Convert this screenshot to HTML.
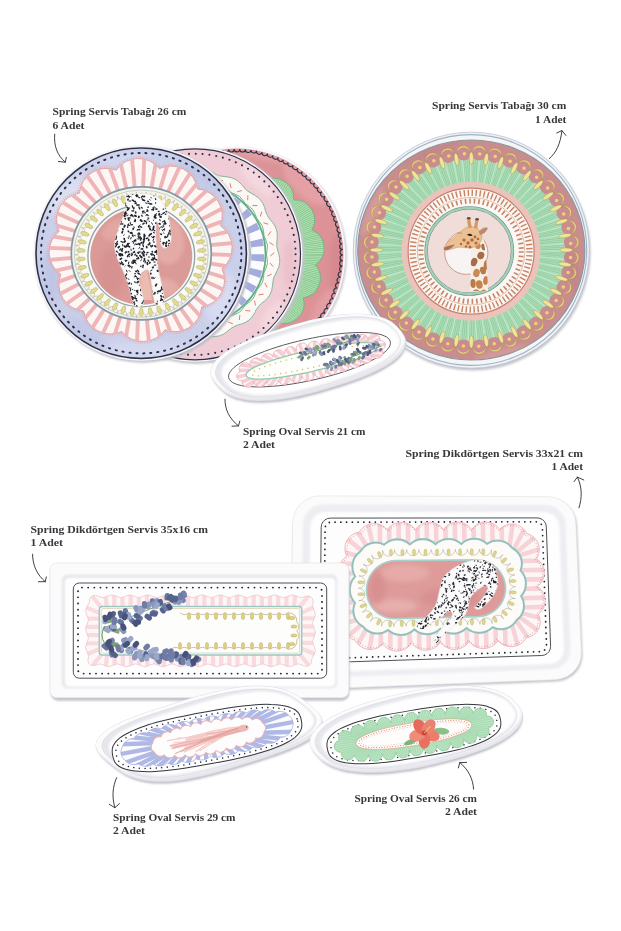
<!DOCTYPE html>
<html><head><meta charset="utf-8"><title>Spring</title>
<style>html,body{margin:0;padding:0;background:#fff}body{width:621px;height:931px;overflow:hidden;font-family:"Liberation Serif",serif}svg{display:block}text{font-family:"Liberation Serif",serif;font-weight:bold;font-size:10.7px;fill:#38383c}</style>
</head><body>
<svg width="621" height="931" viewBox="0 0 621 931">
<defs>
<filter id="b1" x="-20%" y="-20%" width="140%" height="140%"><feGaussianBlur stdDeviation="1.2"/></filter>
<filter id="b2" x="-30%" y="-30%" width="160%" height="160%"><feGaussianBlur stdDeviation="2.5"/></filter>
<filter id="b4" x="-40%" y="-40%" width="180%" height="180%"><feGaussianBlur stdDeviation="5"/></filter>
</defs>
<rect width="621" height="931" fill="#fff"/>
<g id="plateC">
<circle cx="238" cy="256.5" r="108.9" fill="#cfcfd6" filter="url(#b1)"/>
<circle cx="237" cy="255" r="108.3" fill="#f7f7f9"/>
<circle cx="237" cy="255" r="106.4" fill="#dc9297"/>
<clipPath id="clC"><circle cx="237" cy="255" r="106.39999999999999"/></clipPath>
<g clip-path="url(#clC)" filter="url(#b2)" opacity="0.6"><ellipse cx="305" cy="183" rx="12" ry="30" fill="#e9abae" transform="rotate(-45 305 183)"/><ellipse cx="336" cy="267" rx="6" ry="32" fill="#d2838a"/><ellipse cx="265" cy="156" rx="30" ry="5" fill="#e8a9ac" transform="rotate(10 265 156)"/><ellipse cx="323" cy="307" rx="8" ry="20" fill="#e6a5a9" transform="rotate(30 323 307)"/></g>
<path d="M342.9 255A2.8 2.8 0 0 0 342.7 260.6A2.8 2.8 0 0 0 342.3 266.3A2.8 2.8 0 0 0 341.6 271.8A2.8 2.8 0 0 0 340.5 277.4A2.8 2.8 0 0 0 339.2 282.9A2.8 2.8 0 0 0 337.5 288.3A2.8 2.8 0 0 0 335.6 293.6A2.8 2.8 0 0 0 333.4 298.8A2.8 2.8 0 0 0 331 303.8A2.8 2.8 0 0 0 328.2 308.8A2.8 2.8 0 0 0 325.2 313.5A2.8 2.8 0 0 0 322 318.2A2.8 2.8 0 0 0 318.5 322.6A2.8 2.8 0 0 0 314.8 326.8A2.8 2.8 0 0 0 310.9 330.9A2.8 2.8 0 0 0 306.7 334.7A2.8 2.8 0 0 0 302.4 338.3A2.8 2.8 0 0 0 297.9 341.7A2.8 2.8 0 0 0 293.2 344.8A2.8 2.8 0 0 0 288.3 347.6A2.8 2.8 0 0 0 283.3 350.2A2.8 2.8 0 0 0 278.2 352.6A2.8 2.8 0 0 0 272.9 354.6A2.8 2.8 0 0 0 267.6 356.4A2.8 2.8 0 0 0 262.1 357.9A2.8 2.8 0 0 0 256.6 359.1A2.8 2.8 0 0 0 251.1 360A2.8 2.8 0 0 0 245.4 360.6A2.8 2.8 0 0 0 239.8 360.9A2.8 2.8 0 0 0 234.2 360.9A2.8 2.8 0 0 0 228.6 360.6A2.8 2.8 0 0 0 222.9 360A2.8 2.8 0 0 0 217.4 359.1A2.8 2.8 0 0 0 211.9 357.9A2.8 2.8 0 0 0 206.4 356.4A2.8 2.8 0 0 0 201.1 354.6A2.8 2.8 0 0 0 195.8 352.6A2.8 2.8 0 0 0 190.7 350.2A2.8 2.8 0 0 0 185.7 347.6A2.8 2.8 0 0 0 180.8 344.8A2.8 2.8 0 0 0 176.1 341.7A2.8 2.8 0 0 0 171.6 338.3A2.8 2.8 0 0 0 167.3 334.7A2.8 2.8 0 0 0 163.1 330.9A2.8 2.8 0 0 0 159.2 326.8A2.8 2.8 0 0 0 155.5 322.6A2.8 2.8 0 0 0 152 318.2A2.8 2.8 0 0 0 148.8 313.5A2.8 2.8 0 0 0 145.8 308.8A2.8 2.8 0 0 0 143 303.8A2.8 2.8 0 0 0 140.6 298.8A2.8 2.8 0 0 0 138.4 293.6A2.8 2.8 0 0 0 136.5 288.3A2.8 2.8 0 0 0 134.8 282.9A2.8 2.8 0 0 0 133.5 277.4A2.8 2.8 0 0 0 132.4 271.8A2.8 2.8 0 0 0 131.7 266.3A2.8 2.8 0 0 0 131.3 260.6A2.8 2.8 0 0 0 131.1 255A2.8 2.8 0 0 0 131.3 249.4A2.8 2.8 0 0 0 131.7 243.7A2.8 2.8 0 0 0 132.4 238.2A2.8 2.8 0 0 0 133.5 232.6A2.8 2.8 0 0 0 134.8 227.1A2.8 2.8 0 0 0 136.5 221.7A2.8 2.8 0 0 0 138.4 216.4A2.8 2.8 0 0 0 140.6 211.2A2.8 2.8 0 0 0 143 206.2A2.8 2.8 0 0 0 145.8 201.2A2.8 2.8 0 0 0 148.8 196.5A2.8 2.8 0 0 0 152 191.8A2.8 2.8 0 0 0 155.5 187.4A2.8 2.8 0 0 0 159.2 183.2A2.8 2.8 0 0 0 163.1 179.1A2.8 2.8 0 0 0 167.3 175.3A2.8 2.8 0 0 0 171.6 171.7A2.8 2.8 0 0 0 176.1 168.3A2.8 2.8 0 0 0 180.8 165.2A2.8 2.8 0 0 0 185.7 162.4A2.8 2.8 0 0 0 190.7 159.8A2.8 2.8 0 0 0 195.8 157.4A2.8 2.8 0 0 0 201.1 155.4A2.8 2.8 0 0 0 206.4 153.6A2.8 2.8 0 0 0 211.9 152.1A2.8 2.8 0 0 0 217.4 150.9A2.8 2.8 0 0 0 222.9 150A2.8 2.8 0 0 0 228.6 149.4A2.8 2.8 0 0 0 234.2 149.1A2.8 2.8 0 0 0 239.8 149.1A2.8 2.8 0 0 0 245.4 149.4A2.8 2.8 0 0 0 251.1 150A2.8 2.8 0 0 0 256.6 150.9A2.8 2.8 0 0 0 262.1 152.1A2.8 2.8 0 0 0 267.6 153.6A2.8 2.8 0 0 0 272.9 155.4A2.8 2.8 0 0 0 278.2 157.4A2.8 2.8 0 0 0 283.3 159.8A2.8 2.8 0 0 0 288.3 162.4A2.8 2.8 0 0 0 293.2 165.2A2.8 2.8 0 0 0 297.9 168.3A2.8 2.8 0 0 0 302.4 171.7A2.8 2.8 0 0 0 306.7 175.3A2.8 2.8 0 0 0 310.9 179.1A2.8 2.8 0 0 0 314.8 183.2A2.8 2.8 0 0 0 318.5 187.4A2.8 2.8 0 0 0 322 191.8A2.8 2.8 0 0 0 325.2 196.5A2.8 2.8 0 0 0 328.2 201.2A2.8 2.8 0 0 0 331 206.2A2.8 2.8 0 0 0 333.4 211.2A2.8 2.8 0 0 0 335.6 216.4A2.8 2.8 0 0 0 337.5 221.7A2.8 2.8 0 0 0 339.2 227.1A2.8 2.8 0 0 0 340.5 232.6A2.8 2.8 0 0 0 341.6 238.2A2.8 2.8 0 0 0 342.3 243.7A2.8 2.8 0 0 0 342.7 249.4A2.8 2.8 0 0 0 342.9 255Z" fill="none" stroke="#2b3047" stroke-width="1.1"/>
<path d="M315.4 264.9A20 20 0 0 1 303.3 297.9A20 20 0 0 1 278.1 322.5A20 20 0 0 1 244.8 333.6A20 20 0 0 1 209.9 329.2A20 20 0 0 1 180.4 310.1A20 20 0 0 1 162.1 280.1A20 20 0 0 1 158.6 245.1A20 20 0 0 1 170.7 212.1A20 20 0 0 1 195.9 187.5A20 20 0 0 1 229.2 176.4A20 20 0 0 1 264.1 180.8A20 20 0 0 1 293.6 199.9A20 20 0 0 1 311.9 229.9A20 20 0 0 1 315.4 264.9Z" fill="#b0dfb2" stroke="#6fb27c" stroke-width="1"/>
<clipPath id="clC2"><path d="M315.4 264.9A20 20 0 0 1 303.3 297.9A20 20 0 0 1 278.1 322.5A20 20 0 0 1 244.8 333.6A20 20 0 0 1 209.9 329.2A20 20 0 0 1 180.4 310.1A20 20 0 0 1 162.1 280.1A20 20 0 0 1 158.6 245.1A20 20 0 0 1 170.7 212.1A20 20 0 0 1 195.9 187.5A20 20 0 0 1 229.2 176.4A20 20 0 0 1 264.1 180.8A20 20 0 0 1 293.6 199.9A20 20 0 0 1 311.9 229.9A20 20 0 0 1 315.4 264.9Z"/></clipPath>
<g clip-path="url(#clC2)"><circle cx="237" cy="255" r="66" fill="none" stroke="#82c58a" stroke-width="50" stroke-dasharray="0.614 0.922" stroke-dashoffset="0.000"/></g>
</g>
<g id="plateB">
<circle cx="196.5" cy="255.8" r="108.1" fill="#c4c4cc" filter="url(#b1)"/>
<circle cx="195" cy="254.3" r="107.5" fill="#f8f8fa"/>
<circle cx="195" cy="254.3" r="105.5" fill="#f0cdd6" stroke="#2b3047" stroke-width="1.2"/>
<clipPath id="clB"><circle cx="195" cy="254.3" r="105.1"/></clipPath>
<g clip-path="url(#clB)" filter="url(#b2)" opacity="0.7"><ellipse cx="257" cy="180.3" rx="22" ry="7" fill="#f6dde3" transform="rotate(45 257 180.3)"/><ellipse cx="289" cy="264.3" rx="6" ry="25" fill="#e9bcc7"/><ellipse cx="272" cy="316.3" rx="7" ry="18" fill="#f5dbe1" transform="rotate(35 272 316.3)"/></g>
<circle cx="195" cy="254.3" r="100.6" fill="none" stroke="#2b3047" stroke-width="2.1" stroke-linecap="round" stroke-dasharray="0 6.871" stroke-dashoffset="0.000"/>
<path d="M278.8 254.3Q281.4 262.8 277.2 270.6Q272.3 277.8 272.4 286.4Q271.6 295.2 264.7 300.9Q257.5 305.6 254.3 313.6Q250.1 321.4 241.6 324Q233.1 325.6 227.1 331.7Q220.2 337.4 211.3 336.5Q202.9 334.7 195 338.1Q186.5 340.7 178.7 336.5Q171.5 331.6 162.9 331.7Q154.1 330.9 148.4 324Q143.7 316.8 135.7 313.6Q127.9 309.4 125.3 300.9Q123.7 292.4 117.6 286.4Q111.9 279.5 112.8 270.6Q114.6 262.2 111.2 254.3Q108.6 245.8 112.8 238Q117.7 230.8 117.6 222.2Q118.4 213.4 125.3 207.7Q132.5 203 135.7 195Q139.9 187.2 148.4 184.6Q156.9 183 162.9 176.9Q169.8 171.2 178.7 172.1Q187.1 173.9 195 170.5Q203.5 167.9 211.3 172.1Q218.5 177 227.1 176.9Q235.9 177.7 241.6 184.6Q246.3 191.8 254.3 195Q262.1 199.2 264.7 207.7Q266.3 216.2 272.4 222.2Q278.1 229.1 277.2 238Q275.4 246.4 278.8 254.3Z" fill="#fbf8f6" stroke="#74b48c" stroke-width="0.9"/>
<path d="M270.7 255.7l3.2 -2.7M270.2 263.3l2.8 3.1M267.5 276l3.8 -1.7M265 283.2l1.9 3.8M259 294.8l4.2 -0.6M254.6 301l0.8 4.1M245.7 310.5l4.2 0.5M239.8 315.4l-0.4 4.2M228.6 322.1l3.9 1.6M221.6 325.2l-1.5 3.9M209.1 328.7l3.3 2.6M201.5 329.7l-2.5 3.4M188.5 329.7l2.5 3.4M180.9 328.7l-3.3 2.6M168.4 325.2l1.5 3.9M161.4 322.1l-3.9 1.6M150.2 315.4l0.4 4.2M144.3 310.5l-4.2 0.5M135.4 301l-0.8 4.1M131 294.8l-4.2 -0.6M125 283.2l-1.9 3.8M122.5 276l-3.8 -1.7M119.8 263.3l-2.8 3.1M119.3 255.7l-3.2 -2.7M120.2 242.7l-3.6 2.2M121.7 235.2l-2.4 -3.5M126.1 222.9l-4 1.2M129.6 216.1l-1.3 -4M137.1 205.5l-4.2 0.1M142.3 199.9l-0.2 -4.2M152.5 191.7l-4.1 -1.1M159 187.7l0.9 -4.1M170.9 182.5l-3.6 -2.1M178.3 180.5l2 -3.7M191.2 178.7l-2.9 -3M198.8 178.7l2.9 -3M211.7 180.5l-2 -3.7M219.1 182.5l3.6 -2.1M231 187.7l-0.9 -4.1M237.5 191.7l4.1 -1.1M247.7 199.9l0.2 -4.2M252.9 205.5l4.2 0.1M260.4 216.1l1.3 -4M263.9 222.9l4 1.2M268.3 235.2l2.4 -3.5M269.8 242.7l3.6 2.2" stroke="#df6f5c" stroke-width="0.9" stroke-linecap="round" fill="none"/>
<path d="M267.1 259Q268.3 263.9 265.9 268.4Q263.3 272.6 263.5 277.5Q263.3 282.6 259.8 286.3Q256.2 289.6 255.1 294.5Q253.6 299.3 249.4 302Q245 304.3 242.7 308.7Q240 312.9 235.2 314.4Q230.4 315.5 227 319.1Q223.3 322.6 218.2 322.8Q213.3 322.6 209.1 325.2Q204.6 327.6 199.7 326.4Q195 325 190.3 326.4Q185.4 327.6 180.9 325.2Q176.7 322.6 171.8 322.8Q166.7 322.6 163 319.1Q159.7 315.5 154.8 314.4Q150 312.9 147.3 308.7Q145 304.3 140.6 302Q136.4 299.3 134.9 294.5Q133.8 289.6 130.2 286.3Q126.7 282.6 126.5 277.5Q126.7 272.6 124.1 268.4Q121.7 263.9 122.9 259Q124.3 254.3 122.9 249.6Q121.7 244.7 124.1 240.2Q126.7 236 126.5 231.1Q126.7 226 130.2 222.3Q133.8 219 134.9 214.1Q136.4 209.3 140.6 206.6Q145 204.3 147.3 199.9Q150 195.7 154.8 194.2Q159.6 193.1 163 189.5Q166.7 186 171.8 185.8Q176.7 186 180.9 183.4Q185.4 181 190.3 182.2Q195 183.6 199.7 182.2Q204.6 181 209.1 183.4Q213.3 186 218.2 185.8Q223.3 186 227 189.5Q230.4 193.1 235.2 194.2Q240 195.7 242.7 199.9Q245 204.3 249.4 206.6Q253.6 209.3 255.1 214.1Q256.2 218.9 259.8 222.3Q263.3 226 263.5 231.1Q263.3 236 265.9 240.2Q268.3 244.7 267.1 249.6Q265.7 254.3 267.1 259Z" fill="#fdfdfd" stroke="#74b48c" stroke-width="1"/>
<circle cx="195" cy="254.3" r="70.6" fill="#fcfcfe" stroke="#5fae84" stroke-width="1.8"/>
<circle cx="195" cy="254.3" r="62.8" fill="none" stroke="#a3acdc" stroke-width="13" stroke-dasharray="6.829 8.347" stroke-dashoffset="0.000"/>
<circle cx="195" cy="254.3" r="55.5" fill="#f0cdd3" stroke="#7d9aa6" stroke-width="0.8"/>
</g>
<g id="plateA">
<circle cx="142.7" cy="254.7" r="108" fill="#bdbdc8" filter="url(#b1)"/>
<circle cx="141.2" cy="253.2" r="107.6" fill="#f4f4f8"/>
<circle cx="141.2" cy="253.2" r="105.2" fill="#cbd0ea" stroke="#2b3047" stroke-width="1.6"/>
<clipPath id="clA"><circle cx="141.2" cy="253.2" r="104.6"/></clipPath>
<g clip-path="url(#clA)" filter="url(#b4)" opacity="0.85"><ellipse cx="69.2" cy="195.2" rx="26" ry="12" fill="#dfe2f2" transform="rotate(-38 69.2 195.2)"/><ellipse cx="51.2" cy="278.2" rx="9" ry="28" fill="#bcc3e3"/><ellipse cx="221.2" cy="298.2" rx="14" ry="26" fill="#dadef3" transform="rotate(15 221.2 298.2)"/><ellipse cx="146.2" cy="349.2" rx="45" ry="7" fill="#d8dcf2"/><ellipse cx="203.2" cy="175.2" rx="28" ry="8" fill="#bec5e4" transform="rotate(38 203.2 175.2)"/><ellipse cx="86.2" cy="333.2" rx="25" ry="8" fill="#bfc6e4" transform="rotate(40 86.2 333.2)"/><ellipse cx="121.2" cy="158.2" rx="30" ry="6" fill="#d4d9f1" transform="rotate(-5 121.2 158.2)"/></g>
<circle cx="141.2" cy="253.2" r="100.2" fill="none" stroke="#2b3047" stroke-width="2" stroke-dasharray="1.119 5.876" stroke-dashoffset="0.000" stroke-linecap="round"/>
<path d="M222 268.8A26.9 26.9 0 0 1 201.7 306.9A26.9 26.9 0 0 1 165 329.8A26.9 26.9 0 0 1 121.8 331.4A26.9 26.9 0 0 1 83.7 311.1A26.9 26.9 0 0 1 60.8 274.4A26.9 26.9 0 0 1 59.2 231.2A26.9 26.9 0 0 1 79.5 193.1A26.9 26.9 0 0 1 116.2 170.2A26.9 26.9 0 0 1 159.4 168.6A26.9 26.9 0 0 1 197.5 188.9A26.9 26.9 0 0 1 220.4 225.6A26.9 26.9 0 0 1 222 268.8Z" fill="none" stroke="#e9a3a3" stroke-width="5.2" stroke-dasharray="0.5 1.6"/>
<path d="M222 268.8A26.9 26.9 0 0 1 201.7 306.9A26.9 26.9 0 0 1 165 329.8A26.9 26.9 0 0 1 121.8 331.4A26.9 26.9 0 0 1 83.7 311.1A26.9 26.9 0 0 1 60.8 274.4A26.9 26.9 0 0 1 59.2 231.2A26.9 26.9 0 0 1 79.5 193.1A26.9 26.9 0 0 1 116.2 170.2A26.9 26.9 0 0 1 159.4 168.6A26.9 26.9 0 0 1 197.5 188.9A26.9 26.9 0 0 1 220.4 225.6A26.9 26.9 0 0 1 222 268.8Z" fill="#fcf6f4" stroke="#e59c9c" stroke-width="0.9"/>
<clipPath id="clA2"><path d="M222 268.8A26.9 26.9 0 0 1 201.7 306.9A26.9 26.9 0 0 1 165 329.8A26.9 26.9 0 0 1 121.8 331.4A26.9 26.9 0 0 1 83.7 311.1A26.9 26.9 0 0 1 60.8 274.4A26.9 26.9 0 0 1 59.2 231.2A26.9 26.9 0 0 1 79.5 193.1A26.9 26.9 0 0 1 116.2 170.2A26.9 26.9 0 0 1 159.4 168.6A26.9 26.9 0 0 1 197.5 188.9A26.9 26.9 0 0 1 220.4 225.6A26.9 26.9 0 0 1 222 268.8Z"/></clipPath>
<g clip-path="url(#clA2)"><path d="M204.6 254L237.5 255.3M203.7 262.3L236.2 267.9M201.7 270.5L233.2 280.3M198.7 278.3L228.7 292.1M194.7 285.7L222.6 303.3M189.8 292.4L215.2 313.5M184 298.5L206.4 322.7M177.5 303.8L196.6 330.7M170.4 308.1L185.8 337.3M162.8 311.5L174.2 342.5M154.7 313.9L162 346.1M146.5 315.2L149.5 348.1M138.1 315.5L136.8 348.4M129.8 314.6L124.2 347.1M121.6 312.6L111.8 344.1M113.8 309.6L100 339.6M106.4 305.6L88.8 333.5M99.7 300.7L78.6 326.1M93.6 294.9L69.4 317.3M88.3 288.4L61.4 307.5M84 281.3L54.8 296.7M80.6 273.7L49.6 285.1M78.2 265.6L46 272.9M76.9 257.4L44 260.4M76.6 249L43.7 247.7M77.5 240.7L45 235.1M79.5 232.5L48 222.7M82.5 224.7L52.5 210.9M86.5 217.3L58.6 199.7M91.4 210.6L66 189.5M97.2 204.5L74.8 180.3M103.7 199.2L84.6 172.3M110.8 194.9L95.4 165.7M118.4 191.5L107 160.5M126.5 189.1L119.2 156.9M134.7 187.8L131.7 154.9M143.1 187.5L144.4 154.6M151.4 188.4L157 155.9M159.6 190.4L169.4 158.9M167.4 193.4L181.2 163.4M174.8 197.4L192.4 169.5M181.5 202.3L202.6 176.9M187.6 208.1L211.8 185.7M192.9 214.6L219.8 195.5M197.2 221.7L226.4 206.3M200.6 229.3L231.6 217.9M203 237.4L235.2 230.1M204.3 245.6L237.2 242.6" stroke="#efb4b6" stroke-width="3.9" fill="none"/></g>
<g transform="translate(141.3 253.4) scale(1 0.95) translate(-141.3 -253.4)">
<circle cx="141.3" cy="253.4" r="70" fill="#f5f2e6" stroke="#7f98a8" stroke-width="1.7"/>
<circle cx="141.3" cy="253.7" r="67" fill="none" stroke="#a3b7c0" stroke-width="0.6"/>
<path d="M207.5 254.8A4.9 4.9 0 0 0 206.8 264.7A4.9 4.9 0 0 0 204.6 274.3A4.9 4.9 0 0 0 200.9 283.5A4.9 4.9 0 0 0 196 292.1A4.9 4.9 0 0 0 189.8 299.8A4.9 4.9 0 0 0 182.6 306.6A4.9 4.9 0 0 0 174.4 312.1A4.9 4.9 0 0 0 165.5 316.4A4.9 4.9 0 0 0 156 319.3A4.9 4.9 0 0 0 146.2 320.8A4.9 4.9 0 0 0 136.4 320.8A4.9 4.9 0 0 0 126.6 319.3A4.9 4.9 0 0 0 117.1 316.4A4.9 4.9 0 0 0 108.2 312.1A4.9 4.9 0 0 0 100 306.6A4.9 4.9 0 0 0 92.8 299.8A4.9 4.9 0 0 0 86.6 292.1A4.9 4.9 0 0 0 81.7 283.5A4.9 4.9 0 0 0 78 274.3A4.9 4.9 0 0 0 75.8 264.7A4.9 4.9 0 0 0 75.1 254.8A4.9 4.9 0 0 0 75.8 244.9A4.9 4.9 0 0 0 78 235.3A4.9 4.9 0 0 0 81.7 226.1A4.9 4.9 0 0 0 86.6 217.5A4.9 4.9 0 0 0 92.8 209.8A4.9 4.9 0 0 0 100 203A4.9 4.9 0 0 0 108.2 197.5A4.9 4.9 0 0 0 117.1 193.2A4.9 4.9 0 0 0 126.6 190.3A4.9 4.9 0 0 0 136.4 188.8A4.9 4.9 0 0 0 146.2 188.8A4.9 4.9 0 0 0 156 190.3A4.9 4.9 0 0 0 165.5 193.2A4.9 4.9 0 0 0 174.4 197.5A4.9 4.9 0 0 0 182.6 203A4.9 4.9 0 0 0 189.8 209.8A4.9 4.9 0 0 0 196 217.5A4.9 4.9 0 0 0 200.9 226.1A4.9 4.9 0 0 0 204.6 235.3A4.9 4.9 0 0 0 206.8 244.9A4.9 4.9 0 0 0 207.5 254.8Z" fill="#fbf9f3" stroke="#9fa5a4" stroke-width="0.5"/>
<g fill="#e3dc8c" stroke="#a3a064" stroke-width="0.4"><ellipse cx="201.7" cy="259.3" rx="4.4" ry="1.95" transform="rotate(4.3 201.7 259.3)"/><ellipse cx="200.4" cy="268.3" rx="4.4" ry="1.95" transform="rotate(12.9 200.4 268.3)"/><ellipse cx="197.7" cy="276.9" rx="4.4" ry="1.95" transform="rotate(21.4 197.7 276.9)"/><ellipse cx="193.8" cy="285.1" rx="4.4" ry="1.95" transform="rotate(30 193.8 285.1)"/><ellipse cx="188.7" cy="292.6" rx="4.4" ry="1.95" transform="rotate(38.6 188.7 292.6)"/><ellipse cx="182.5" cy="299.2" rx="4.4" ry="1.95" transform="rotate(47.1 182.5 299.2)"/><ellipse cx="175.4" cy="304.9" rx="4.4" ry="1.95" transform="rotate(55.7 175.4 304.9)"/><ellipse cx="167.6" cy="309.4" rx="4.4" ry="1.95" transform="rotate(64.3 167.6 309.4)"/><ellipse cx="159.2" cy="312.7" rx="4.4" ry="1.95" transform="rotate(72.9 159.2 312.7)"/><ellipse cx="150.3" cy="314.7" rx="4.4" ry="1.95" transform="rotate(81.4 150.3 314.7)"/><ellipse cx="141.3" cy="315.4" rx="4.4" ry="1.95" transform="rotate(90 141.3 315.4)"/><ellipse cx="132.3" cy="314.7" rx="4.4" ry="1.95" transform="rotate(98.6 132.3 314.7)"/><ellipse cx="123.4" cy="312.7" rx="4.4" ry="1.95" transform="rotate(107.1 123.4 312.7)"/><ellipse cx="115" cy="309.4" rx="4.4" ry="1.95" transform="rotate(115.7 115 309.4)"/><ellipse cx="107.2" cy="304.9" rx="4.4" ry="1.95" transform="rotate(124.3 107.2 304.9)"/><ellipse cx="100.1" cy="299.2" rx="4.4" ry="1.95" transform="rotate(132.9 100.1 299.2)"/><ellipse cx="93.9" cy="292.6" rx="4.4" ry="1.95" transform="rotate(141.4 93.9 292.6)"/><ellipse cx="88.8" cy="285.1" rx="4.4" ry="1.95" transform="rotate(150 88.8 285.1)"/><ellipse cx="84.9" cy="276.9" rx="4.4" ry="1.95" transform="rotate(158.6 84.9 276.9)"/><ellipse cx="82.2" cy="268.3" rx="4.4" ry="1.95" transform="rotate(167.1 82.2 268.3)"/><ellipse cx="80.9" cy="259.3" rx="4.4" ry="1.95" transform="rotate(175.7 80.9 259.3)"/><ellipse cx="80.9" cy="250.3" rx="4.4" ry="1.95" transform="rotate(184.3 80.9 250.3)"/><ellipse cx="82.2" cy="241.3" rx="4.4" ry="1.95" transform="rotate(192.9 82.2 241.3)"/><ellipse cx="84.9" cy="232.7" rx="4.4" ry="1.95" transform="rotate(201.4 84.9 232.7)"/><ellipse cx="88.8" cy="224.5" rx="4.4" ry="1.95" transform="rotate(210 88.8 224.5)"/><ellipse cx="93.9" cy="217" rx="4.4" ry="1.95" transform="rotate(218.6 93.9 217)"/><ellipse cx="100.1" cy="210.4" rx="4.4" ry="1.95" transform="rotate(227.1 100.1 210.4)"/><ellipse cx="107.2" cy="204.7" rx="4.4" ry="1.95" transform="rotate(235.7 107.2 204.7)"/><ellipse cx="115" cy="200.2" rx="4.4" ry="1.95" transform="rotate(244.3 115 200.2)"/><ellipse cx="123.4" cy="196.9" rx="4.4" ry="1.95" transform="rotate(252.9 123.4 196.9)"/><ellipse cx="132.3" cy="194.9" rx="4.4" ry="1.95" transform="rotate(261.4 132.3 194.9)"/><ellipse cx="141.3" cy="194.2" rx="4.4" ry="1.95" transform="rotate(270 141.3 194.2)"/><ellipse cx="150.3" cy="194.9" rx="4.4" ry="1.95" transform="rotate(278.6 150.3 194.9)"/><ellipse cx="159.2" cy="196.9" rx="4.4" ry="1.95" transform="rotate(287.1 159.2 196.9)"/><ellipse cx="167.6" cy="200.2" rx="4.4" ry="1.95" transform="rotate(295.7 167.6 200.2)"/><ellipse cx="175.4" cy="204.7" rx="4.4" ry="1.95" transform="rotate(304.3 175.4 204.7)"/><ellipse cx="182.5" cy="210.4" rx="4.4" ry="1.95" transform="rotate(312.9 182.5 210.4)"/><ellipse cx="188.7" cy="217" rx="4.4" ry="1.95" transform="rotate(321.4 188.7 217)"/><ellipse cx="193.8" cy="224.5" rx="4.4" ry="1.95" transform="rotate(330 193.8 224.5)"/><ellipse cx="197.7" cy="232.7" rx="4.4" ry="1.95" transform="rotate(338.6 197.7 232.7)"/><ellipse cx="200.4" cy="241.3" rx="4.4" ry="1.95" transform="rotate(347.1 200.4 241.3)"/><ellipse cx="201.7" cy="250.3" rx="4.4" ry="1.95" transform="rotate(355.7 201.7 250.3)"/></g>
<circle cx="141.3" cy="256.2" r="53.4" fill="#fbf9f3" stroke="#8ba3ae" stroke-width="1.3"/>
<circle cx="141.3" cy="256.5" r="51" fill="#da9a97"/>
<clipPath id="clA3"><circle cx="141.3" cy="256.5" r="51"/></clipPath>
<g clip-path="url(#clA3)" filter="url(#b2)" opacity="0.7"><ellipse cx="168.3" cy="241.2" rx="16" ry="24" fill="#e9b3ad"/><ellipse cx="111.3" cy="274.2" rx="13" ry="26" fill="#d58f8f"/><ellipse cx="159.3" cy="290.2" rx="20" ry="11" fill="#e8b4ae"/><ellipse cx="116.3" cy="228.2" rx="16" ry="10" fill="#e6ada8" transform="rotate(-30 116.3 228.2)"/></g>
</g>
</g>
<path d="M147 268L152 300L141 300L140 276Z" fill="#ecbfb2" opacity="0.85"/>
<clipPath id="sp1"><path d="M126.8 195.9C129.8 193.4 138.3 193.5 143.5 193.8C148.7 194 154.2 194.9 158 197.4C161.7 199.9 164 204.6 165.9 209C167.9 213.3 168.7 218.2 169.6 223.5C170.4 228.8 171.7 236.8 171 240.9C170.3 245 166.9 247.6 165.2 248.1C163.5 248.6 161.8 247.1 160.9 243.8C159.9 240.4 160.1 231.4 159.4 227.8C158.7 224.2 157.1 220.3 156.5 222C155.9 223.7 155.7 232.9 155.8 238C155.9 243 156.9 247.6 157.2 252.5C157.6 257.3 157.4 262.1 158 267C158.6 271.8 159.9 276.6 160.9 281.4C161.8 286.3 163.5 292.1 163.8 295.9C164 299.8 163.6 303.2 162.3 304.6C161 306.1 157.4 306.6 155.8 304.6C154.2 302.7 153.7 297.4 152.9 293C152.1 288.7 151.6 282.4 150.7 278.6C149.9 274.7 149.3 270.8 147.8 269.9C146.4 268.9 143.5 270.8 142 272.8C140.6 274.7 139.1 278.1 139.1 281.4C139.1 284.8 141.3 289.4 142 293C142.8 296.7 144.3 300.8 143.5 303.2C142.6 305.6 138.8 307.8 137 307.5C135.1 307.3 133.9 305.1 132.6 301.7C131.3 298.4 130.4 292.1 129 287.2C127.5 282.4 125.8 277.6 123.9 272.8C122 267.9 119 262.9 117.4 258.3C115.8 253.7 114.5 249.6 114.5 245.2C114.5 240.9 116.2 236.3 117.4 232.2C118.6 228.1 120.4 224.4 121.7 220.6C123.1 216.7 124.5 213.1 125.4 209C126.2 204.9 123.8 198.5 126.8 195.9Z"/></clipPath><path d="M126.8 195.9C129.8 193.4 138.3 193.5 143.5 193.8C148.7 194 154.2 194.9 158 197.4C161.7 199.9 164 204.6 165.9 209C167.9 213.3 168.7 218.2 169.6 223.5C170.4 228.8 171.7 236.8 171 240.9C170.3 245 166.9 247.6 165.2 248.1C163.5 248.6 161.8 247.1 160.9 243.8C159.9 240.4 160.1 231.4 159.4 227.8C158.7 224.2 157.1 220.3 156.5 222C155.9 223.7 155.7 232.9 155.8 238C155.9 243 156.9 247.6 157.2 252.5C157.6 257.3 157.4 262.1 158 267C158.6 271.8 159.9 276.6 160.9 281.4C161.8 286.3 163.5 292.1 163.8 295.9C164 299.8 163.6 303.2 162.3 304.6C161 306.1 157.4 306.6 155.8 304.6C154.2 302.7 153.7 297.4 152.9 293C152.1 288.7 151.6 282.4 150.7 278.6C149.9 274.7 149.3 270.8 147.8 269.9C146.4 268.9 143.5 270.8 142 272.8C140.6 274.7 139.1 278.1 139.1 281.4C139.1 284.8 141.3 289.4 142 293C142.8 296.7 144.3 300.8 143.5 303.2C142.6 305.6 138.8 307.8 137 307.5C135.1 307.3 133.9 305.1 132.6 301.7C131.3 298.4 130.4 292.1 129 287.2C127.5 282.4 125.8 277.6 123.9 272.8C122 267.9 119 262.9 117.4 258.3C115.8 253.7 114.5 249.6 114.5 245.2C114.5 240.9 116.2 236.3 117.4 232.2C118.6 228.1 120.4 224.4 121.7 220.6C123.1 216.7 124.5 213.1 125.4 209C126.2 204.9 123.8 198.5 126.8 195.9Z" fill="#fbfbfb" stroke="#efe3e1" stroke-width="0.7"/><g clip-path="url(#sp1)" stroke="#23252e" stroke-linecap="round" fill="none"><path d="M127.9 255.7l-0.3 0.8M147.3 262.7l0.2 1.7M136.9 291.7l0.6 0.3M136.5 195.5l1.3 0.7M116.9 282.5l1 1.1M158.5 291.1l-0.8 0.5M134.3 260.3l-1.1 0.3M166.3 197l-0.2 0.7M123.7 291.7l-1.7 0.5M143.1 307.4l0.7 0.2M165.2 236.7l-0.1 1M163.5 271.2l-0.5 0M148.9 225.5l-0.3 1M115.7 235.8l0.7 1M132.6 235.2l0.3 0.7M129.4 283.3l-0.4 0.3M127.2 207.5l0.9 0.6M124.9 225.5l-0.7 1.4M166.5 211.5l-0.3 0.1M121.3 221.6l-0.3 0.2M134.9 215.5l0.7 0.3M149.7 242.9l0 0.9M121.9 197l-0.8 0.1M159.2 223.6l0.9 0.4M151.9 294.7l-0.7 1.3M147.2 284.6l-0.3 0.2M144.4 220.9l1.1 0.3M138 258.4l-1.1 0.3M142.6 248.8l-1.3 0.2M155.1 214.9l0.6 0.4M138.1 273.1l1.1 0.8M161.7 287.2l0.1 1.1M140.9 219.9l-0.4 0.5M136.6 255.7l0.3 0.4M138.9 243.6l0.8 0.8M152.2 251.6l0.2 0.3M135.4 298.4l0.9 0.3M122.5 231.5l-0.4 1.3M131.5 215l-0.8 0.6M118.4 275.2l-0.2 1.4M153 258l1.6 0.6M125.2 241.2l-1.2 0.8M121.8 262.9l-1.3 0.9M132.4 296.9l0 0.8M153.3 227.8l0.1 1.6M142.3 253.3l0.8 0.6M142.6 273.3l0.3 1.1M132.4 200.2l0.9 0.3M124.9 240.8l-0.2 1M152.9 299.4l-0.4 0.4M157.4 270.8l0.3 0.3M117.7 263.4l0 0.4M128.1 199.3l-0.2 0.5M170.2 206.5l0.6 0.4M143.6 251.2l0.9 1.4M119.3 246.7l-0.5 0.3M148.6 244.5l-0.4 0.2M127.8 243.7l0.4 0.6M167.1 276.4l-1.6 0.1M124.9 204.7l0.8 1.1M123.2 280.5l-1.3 0.1M135.6 212.1l0.1 0.8M148.6 286.1l0.7 0.7M116.6 307.1l-0.4 0.4M128.5 209.2l-1.1 0.9M143.9 279.6l-1.6 0.1M137.9 252.7l0.5 0.3M161.3 299.7l1.2 0.1M120.3 269.8l0 0.9M152.6 267.4l0.5 0.1M146.6 246.6l0.2 1.1M140.3 237.4l0.9 1.1M119.7 255.2l0.9 0.4M126.8 245.7l-0.5 1M134.8 262.1l-1.7 0.4M130.5 303.8l0.1 1M159.1 213.8l-0.1 1.2M143.5 200.1l1 0.4M163.5 274.7l0.5 0.7M147.5 210.4l0.2 0.6M116.2 255.1l-0.2 1.7M132.8 297.6l1.2 0.4M151.1 302.8l0 0.4M151.9 253.9l0.4 0.5M122 254.2l0.5 1.1M124.3 212.9l0.8 0.6M135.1 220.2l-0.1 1.3M129.7 296l1 0.9M120.6 253.8l0.1 1.6M161.1 216.9l-0.3 0.3M124.2 238.6l0.2 0.6M169.6 230.9l1.3 0.7M138.7 226.6l0.2 0.4M155.8 223.2l0.4 0.1M115.6 196.4l1.2 0.2M149.9 203.8l1.7 0.2M125.3 203.3l-0.1 1.4M143.2 265.5l-0.2 0.4M166.1 245.2l0.2 0.9M148.7 239.4l0 1M139 216.5l-0.4 0.8M123.6 196.3l-0.6 1M165.7 243.3l0.4 0.3M133.3 228.3l-0.1 0.6M144.6 238.7l-1 0.6M138.3 281.7l-1.1 0.8M158.5 262.9l-0.4 0.1M156.5 284.3l-0.9 1.5M117.3 243.9l-0.5 0.2M169.1 251.8l-1.5 0.4M134.3 262.1l-0.8 0.1M154.7 216.8l0.6 0.3M165.8 223.6l-1.8 0.4M168.6 245.5l0.7 0.9M124.6 246.1l0.6 1M141.4 221.1l0.6 0.1M119.8 290.6l0.9 0.8M143.3 255l0 0.3M140.7 239.6l-0.1 0.3M116.9 224l0.2 0.8M134.2 240.8l0.2 0.2M153.7 226.5l0.2 0.5M114.5 267.6l0.8 0.6M131.6 296.7l0.5 1.2M164.5 280.1l0.6 0.4M144.1 236.2l0.2 1.2M151.6 259.7l1.6 0.2M145.4 300.5l0.3 0.7M158 270.3l0.5 0.5M118.5 222.6l1.4 0.5M118.4 220.5l0.7 0.9M117.3 202.3l1 0.5M161 234.1l0.3 0.2M162.9 289l-1 0.4M128.6 246.2l-0.5 0M149.9 262.6l-0.3 0.5M116 237.7l-0.2 1.5M124.6 207.4l-0.9 1.3M170.4 265.6l-1.3 0.8M126 277.9l-0.2 0.8M156.7 236.9l0.9 0.2M149.2 301.2l-0.8 0.8M128.4 218.9l0.5 1.3M159.2 228.3l-0.4 1.3M129.2 246.6l0.3 0.3M154.9 217.8l1 0.1M168.8 240.5l0.4 0.2M153.1 267.1l-0.1 0.5M128.5 195.9l0.7 1.1M117.1 219.5l0.4 0.1M127.3 293.2l-0.1 0.5M160.9 295.8l0.8 0.8M125.9 213.2l-1.1 0.6M144.2 273.8l1.3 0.9M114.7 220.5l0.6 0.6M165.3 203l-0.8 0.4M121.5 258.5l-1.3 0.7M119.5 253.8l-0.2 0.5M116 260.4l-0.9 0.6M141.4 257.2l0.4 0M154 236.6l-0.5 0.7M123.1 229.4l-0.4 0M114.9 195.9l0.5 0.8M131.9 305.1l1.6 0.7M121.5 287.6l0.5 0.2M159 266.2l-0.3 1.7M164 242.6l-0.7 0.7M144.2 234.4l0.7 1.5M114.7 288.9l1.3 1M149.8 228.3l0.5 1.3M159.9 239.1l-0.7 0.5M156.9 209l-0.9 0.1M170.5 287l-1 0.9M150 234.5l-0.9 1.4M144.4 196.4l-0.3 0.3M155.4 251.5l1 0.4M151.2 233.7l-0.4 0.5M168.4 279.3l0 1.1M120.1 305.4l-0.9 0M129.9 218l-1.6 0.1M141.7 278.9l0 1.8M164.4 221l0.7 1.6M150.8 273.3l0 0.5M169.8 204l0.3 0.2M116.7 272.1l-0.9 1.2M118.7 262.7l1.1 0.9M116.7 218.4l0.4 1.1M152.5 245.7l-1.2 0.8M135.3 240l0.3 0.8M160.5 216.8l-0.4 0.1M122.4 248.7l-0.5 1.7M149.3 288.5l0.2 0.3M155.7 252.1l-0.6 0.2M139 205l-1.6 0M125.2 275.9l-0.6 1.6M140 255.5l0.9 1.2M146.6 277.9l0.9 1M154.8 245.9l1.2 0.8M124.6 215.6l0.2 0.9M143.6 254.3l0.4 1.6M125.2 218.6l0.2 0.3M126.3 196.2l0.9 0.1M131.8 232.7l-1.4 0.2M165.2 280l-0.7 0.7M136.4 271.3l-0.5 0.1M131.8 215l0.8 0.9M131.2 293.6l-1.6 0.2M164.4 280.7l1.1 0.1M128.6 251.7l-0.3 0.2" stroke-width="1.7"/><path d="M127.7 307l-0.9 0.5M155.1 293.7l-1.3 0.3M155.6 259.4l1.6 0.7M120 209.2l-0.6 0.1M120.4 268.3l-1.2 0M133.9 201.3l1.6 0.1M135.8 260.5l-1.1 0.3M144.8 301.7l1.1 1.4M129.8 265.9l-1.3 0.3M169.8 253.1l1.1 0M117.9 265.1l-0.5 0.8M153.1 208.7l-0.5 0.9M119 278.2l-0.1 0.6M134 208.5l-0.6 0.4M116.3 245.7l-1 1M145.2 295l-1.4 0.7M144.2 240.8l-0.6 1.6M162.9 282l0.4 0.1M169.6 291l0 0.4M123.4 201.9l0.3 0.8M144.8 272.9l0.1 0.4M132.5 254.3l-1 1.2M115.9 206.9l-0.6 0.8M170.9 267.3l-0.6 0.8M143.6 300.1l-0.2 1.6M152.4 291.1l-0.3 1.2M118.4 218.5l-0.6 0.2M122.3 264.5l1.3 0.2M121.2 223.8l1.7 0.2M147.3 270.6l0.2 0.3M136 202.6l-0.9 0.9M167.7 236.3l-1.1 1M116.9 251.2l-0.5 0.4M144.3 258.4l0.4 0.4M116.2 285.1l-1.6 0.3M142.7 195.9l0.4 0.7M159 240.2l-0.9 1.3M142.1 196.4l-0.6 0.8M124.7 296.1l0.6 1.3M134.1 207.9l-0.2 0.3M170 300.9l-1.5 0.2M128.6 224l-0.6 1.4M141.7 215.3l0.5 0.9M133.7 248.2l-0.4 0.7M131.7 262.8l1.7 0.5M136.3 300.4l0.7 0.5M143.2 279.4l-1 1.4M148.3 291.5l-0.4 0.1M120.6 249l-0.8 1.1M139.6 236.9l0.5 0M148.7 218.1l-0.8 0M165.5 301.8l-0.8 0.7M118 247.5l0.5 0.4M138.9 233l-1 1M144.8 212.6l0.3 0.2M134.6 303.6l-0.1 0.8M159.8 241.3l0.7 0.1M115.5 266.9l-1.6 0.5M122.4 288.4l-0.3 0.3M148.3 207l-0.4 0.3M139.8 229.2l-0.4 0.7M132.4 224.6l-1.7 0.3M149 256.9l0.1 0.3M167.7 304.6l0.3 1.3M140.6 226.7l1 0.6M168.6 210.2l1.4 0.9M144.1 211.1l-0.5 0.4M134.5 301.9l-0.6 0.8M141.2 277.9l-1 0.5M159.4 306.6l-0.1 1.3M117.4 241.3l-0.4 1.1M117.8 291l-0.9 0.1M135.1 275.8l1.2 0.9M153.1 207.5l0.6 1.5M143.4 243l-0.6 1.1M144.1 259.1l0.3 0.3M161.1 298.2l0.4 0.8M163 277.7l0.6 0.1M161 300.4l-0.5 0.1M136.2 290.6l1.5 0.3M153.7 232.5l0.4 0.3M121 241.5l1.4 0.7M123.1 298.7l0.9 0.1M148 260.2l0.8 1M138.4 257.3l0.3 1.4M146.6 222.2l-0.3 1.3M154.8 230.6l-0.5 0.1M143 212.8l-0.1 0.4M163.6 252.4l0.9 0.2M163.6 209.2l-0.4 0M142.2 307l-0.5 0.2M156.6 251.1l0.3 1.3M143 302.2l-1 1.2M129 265.2l-1.1 0.1M125.9 211.8l-1.2 1.3M122.3 194.6l-0.3 0.3M114.9 232.1l-1.2 0.7M120.2 285l-0.7 0.5M140.2 251.9l-1.3 0.1M151.9 277.4l0.2 1.1M159.7 214l-0.1 1M131.9 253.1l-0.1 0.6M121.4 250.6l0.7 0.7M163.6 296.8l-0.2 0.3M160.7 249.7l-1.2 0.9M162.8 251.9l0.4 0.9M166.8 241.7l-0.3 1.3M139 232.8l0.9 1.4M156.2 223.1l0.7 0.7M133.7 242.8l-0.2 0.3M138.4 229.7l-0.9 0.2M167.3 279.4l1.5 0.3M141.8 207.5l-0.5 0.3M130.2 290.2l0.1 0.6M134.9 235.4l0 0.3M146.4 254.7l0.3 0.1M170.1 212.5l0 1.3M126.6 273.9l-0.5 1.3M126.8 260.5l-0.4 0.2M143.9 240.4l-0.4 0.9M163.1 225.8l0.6 0.3M139.3 238.1l-0.6 0.9M131 233l1.2 0.7M118.7 299.4l-0.4 1.3M150.7 254l1.1 1.1M144.7 278.5l-1 1.1M119.4 272.4l-1.2 1M125.3 252.6l0.2 0.4M142.1 198.8l0.8 1.3M118.7 287.3l0 0.6M170.9 209.9l0.5 0.5M124.7 284.6l-0.3 0.3M153.5 241.9l0.7 0.2M134.6 251.5l-1.2 0.8M163.8 305.2l-0.1 1.4M164.4 212.6l-1.3 0.8M163.8 269.1l-0.7 0.5M158.2 211.3l0.8 0.2M144.2 223.1l-1.4 1M163 280.7l1.4 0.4M115.2 258.1l1 0.2M139 207l0.2 0.9M161.2 259.7l0.7 1.1M124 305l-0.9 0.3M124.8 214.7l1.3 0.3M142.8 211.2l-0.3 0.6M137.4 270.3l1.2 1.1M126.4 282l1 1.4M129.6 208l-1.4 0.5M127.9 286.9l-1.5 0.2M166.2 246l-0.4 0.1M165.2 199.5l-0.7 0.4M143.1 245.3l0.4 1.4M156.5 252.2l0.2 0.7M132.3 205.8l0.6 1.6M154.7 292.3l0.5 0.2M155.4 198.6l0.3 0.9M163.2 242.7l-0.2 0.2M132 266.6l-0.3 1.2M164.2 300.9l0.2 0.2M131.6 298.9l1.5 0.7M163.2 221.5l-0.5 0.3M165.8 214.1l-0.4 0.2M135.5 307.1l-0.1 0.8M158.5 244l-1.6 0.8M154.5 215.9l-0.3 1.3M127.3 244.6l-0.8 1.1M133.7 210.7l-0.7 0.4M139.6 208.4l0 0.5M148.1 252.4l-1.2 0.5M115.5 243.7l1 1.2M137.1 278l1.5 0.6M136.8 195l-0.3 1.5M138 244.2l-1.7 0.2M128.1 231l0.7 0.8M156.6 250.4l1.1 0.7M157.3 233.6l0.1 0.3M157.6 253.9l-0.6 0.4M142.1 252.2l0.3 0.7M142.2 242.2l-1.1 0.7M152.3 229.9l-0.3 0.7M153.3 254.7l1.1 0.8M129 287.7l0.5 0.1M135.6 254.1l-0.7 0.9M121.8 282l1.1 1.2M138.3 236.8l0.7 0.7M138.8 197.6l0.8 0M141.4 256.8l-0.1 0.9M151.6 286.3l-0.3 0.1M163.5 229.5l1.1 0.5M117.6 272.5l0 1.1M158.6 232.7l0 0.5M125.2 260.3l0.5 1M152 296.8l-1.2 0.1M135.6 216.2l0.5 0M122.7 300.8l-0.7 0.4M168.3 291l0.8 0.3M129.7 254.3l-1.2 0.2M125.9 251.6l0.8 0.6M118.9 307.3l0.4 0.7M124.6 290.3l0.5 0.1M116.6 270.7l-0.2 0.3M147.7 237.9l-1.3 0.7M125.9 305.6l-0.6 0.8M147.6 214.8l0.5 0.8M127.7 226.6l-0.1 0.7M134.8 273.6l0.5 0.1M120.8 306.1l-0.2 0.6M168.4 234.2l-0.6 1M135.2 296.9l0 0.4M134.8 281.8l0.4 0.7M160.5 290.7l-1.2 0.7M159.4 247.3l-0.2 0.9M137.8 290.3l-0.5 1.1M168.9 232.3l0.3 1.2M149.1 294.9l0 1.1M159.2 291.1l1 0.5M144.8 259.9l-1.1 1.3" stroke-width="1.3"/><path d="M130.6 201l-1.6 0.1M157.9 293.1l-0.1 0.3M123.3 198.6l0.9 1.3M170.3 229.6l-0.2 0.8M128 215.1l-0.6 0.8M148.4 301.8l1 0.9M140.8 265.9l-0.2 0.7M170.3 243.2l-1.7 0.4M166.7 295.8l-0.4 1.6M141.7 207.5l0.8 0.7M121.6 304.3l-0.9 0.6M134.4 216.2l-0.9 0.6M128 224.9l1.5 0.6M142 258.7l-0.6 0.6M129.7 253.8l0.1 0.9M114.7 276l-0.3 1.5M135.6 262.5l0.5 1.4M132.3 301.9l0.9 0.1M122.6 281.9l0.4 0.1M151.8 236.5l0.7 1.3M117.9 230.7l-1 0.6M128.8 262l-0.3 1.7M135.7 220.5l-1.5 0.8M141.8 266.9l1.5 0.7M164.8 228.7l-0.6 0.4M124.2 234.8l-0.6 0.5M118.6 301.6l-1.4 0.5M124.1 198.9l0.6 0.2M152 270l-1.4 0.9M157.1 303.1l-0.1 1.3M146.5 214.5l-0.5 1.2M136.6 205.1l0.7 0.1M164 301.3l-0.8 0.5M134.4 290.1l0.3 0.4M125.3 265.9l-0.3 0.3M126.5 286.2l-1.7 0.3M146.5 302.9l1.5 0.7M149.7 199.5l0.6 0.6M153.8 209.1l-0.5 1.5M155 277.9l-0.7 0.5M163.2 243.5l0.1 1.4M139.8 234.9l-0.9 0.1M129.1 235.8l-0.2 1.6M126.3 213.2l0.8 0.5M122.4 263l0.8 0.5M137.3 229.9l-0.2 0.3M137.3 238.9l-0.3 0M128.1 238l0.3 0.5M114.7 197.2l0.4 0.2M139.3 244.3l0.6 1.2M116.9 213.3l-1.2 0.8M151 307.2l0.2 0.2M133.6 229.2l-0.8 0.5M158.7 247l1.2 0.2M155.6 202.6l0 0.8M166.7 271.9l-0.7 0.5M140.7 274.7l0.6 1.4M141 260.6l-0.3 0M122.6 244.3l0.3 1.6M170.9 219.1l1.1 1.4M140.7 294.7l0.9 1.2M167.1 252.9l-0.1 0.3M125 195.3l0.5 0.8M156.9 232.2l0.5 0M140.2 285.1l-1 0.1M147.1 209.7l0 0.4M169.9 202.8l0.5 0.4M154 206.9l1.2 0.5M124.4 215.3l-1.4 0.6M136.5 306.1l0.7 0.3M131.2 237.4l-0.5 1.6M114.9 236l0 0.5M162.4 214.2l-1.5 0.8M132.4 289.3l-0.2 0.5M137.6 293.1l0.5 0M161.7 226.4l1.2 1.3M148.5 218.9l-1.2 1.3M135.5 243.7l-0.9 1.4M114.5 294.5l0.1 0.6M122.3 228.7l1.1 0.4M148.3 203.4l0.2 0.3M142.2 305.9l0.9 0.4M130.7 266.6l-1.3 0.5M139.5 279.5l1.7 0.4M133.2 241.4l-1.1 0.4M163 265.4l-0.9 0.5M162.1 229.7l0.7 1.2M135.2 219.2l0.3 0.6M145 261.8l0.2 1.2M118.9 254.8l1 0.1M170.2 233.1l0.1 1.8M170.4 288.9l0.9 1.1M135.2 276.1l-0.7 1M153.2 220l0.5 0.4M141.4 243.1l-0.7 0.1M129.5 282.5l-0.9 1.5M170.2 283.7l-1.3 0.4M129 255.7l0.4 1.1M116.3 242.8l-0.2 0.2M154.5 256.7l0.2 1.3M154.1 194l-0.4 0.6M167.4 275.8l0.2 1.2M159.7 233.1l0.2 0.6M136.8 305.4l-0.2 0.4M130.9 196.6l0.2 0.3M166.9 260l0.2 1.2M120 223.5l0.3 1M155.2 262l-1.3 0M149 221.2l0.5 0.2M135 276.3l0.5 0.5M164.2 280.9l0.1 0.3M120 286.7l0 0.9M121.4 261.4l1 1.4M145.6 261l-0.1 0.8M169.7 225.8l-0.4 0.1M162.8 293l-0.5 0.6M155.7 194l-1.1 0.7M133.9 226.8l0.6 0.5M166.2 257.2l0.1 0.5M125.8 298.7l-0.4 0.7M127.9 278.8l1.1 0.5M163.7 232.9l0.3 0.5M130.9 249.1l0.3 1.4M125 305.4l-0.4 0.2M156.1 303.2l0.3 0.7M161.9 290l-1.6 0.1M145.5 202.9l1.6 0.5M125.9 205.6l0.2 0.4M154 195.4l-0.1 0.6M147.2 210.7l-0.6 0.8M119.1 298.2l0.4 0.8M157.4 238.4l-0.3 0.5M153.7 239.1l-0.7 1.4M165.5 207.2l-0.1 1.4M134.6 295.8l0.9 0.2M127.2 284l0.5 0.3M126.2 283.1l0.7 0.6M119.5 201.5l-0.7 1.2M149.6 244.8l1.1 1M123.8 202.5l-0.8 0.6M148 200.8l0.9 1.4M126.5 270.2l0.6 1.6M150.3 226.8l-1.3 0.2M154.2 265.1l1.7 0M170.1 271l0.7 0.3M165.9 298.3l0.6 1.2M133.1 194.1l-0.5 0.7M147.3 201.7l1.2 0M128.5 243.3l1 0.2M124.2 301.8l-0.2 0.8M140.7 226.8l0.4 0.1M170.4 283.9l1.4 0.3M137.1 195l-1.4 0.3M160.3 248l0 0.5M140.1 224.9l-0.7 1M151.7 222.8l0.7 1.5M156.3 213.5l-0.5 1.4M139.7 247.4l-0.7 1M132.2 261.3l-0.1 0.3M165.9 300.8l1.1 0.6M117.4 252.2l0.9 0.6M144 239.1l0.4 0.7M140.5 289.2l0.1 1.7M121.7 296.6l0.8 0.9M138.2 234.8l0.2 1.6M157.2 301l0.5 0.4M131.3 283.3l0.1 1.1M119.6 223.3l-1.2 1.3M134.7 252.5l-1.2 0.2M130.2 222.2l0.2 1.4M143.3 286.4l-0.6 0.4M162.1 266.6l0.9 1.2M137.1 278.5l0.6 1.4M136.3 216.6l-0.2 0.2M166 196l-0.1 1M130.8 287.9l-0.4 1.7M159.7 219.4l0.5 1.4M160.7 263.6l-0.2 1.6M120.5 295.6l-0.5 0.5M150.8 197.3l0.6 0.7M169.3 218.6l-0.8 0.1M131.7 210.8l0.8 0.1M137.3 294.3l-0.2 0.5M135.1 202.9l1.5 0.9M121.1 254.4l-0.6 0.8M127.5 297.3l0 1M153.1 277.1l0.4 1.3M118.3 282.9l-1.6 0.2M129.2 270.5l0.9 0.9M157.9 291.7l-0.4 0M157.7 306.8l0.7 0.3M160.9 227.1l-0.1 0.6M151.4 209.7l0.8 0.1" stroke-width="1.0"/></g>
<g id="plateD">
<circle cx="472.3" cy="252.2" r="118.3" fill="#c3c3cc" filter="url(#b1)"/>
<circle cx="471.3" cy="250.2" r="118" fill="#f0f1f4" stroke="#b4bfcc" stroke-width="0.7"/>
<circle cx="471.3" cy="250" r="115.4" fill="#f4f5f7" stroke="#9fb1c9" stroke-width="1.1"/>
<g transform="translate(471.3 250.0) scale(1 0.968) translate(-471.3 -250.0)">
<circle cx="471.3" cy="250" r="113.6" fill="#c98c8f" stroke="#87989a" stroke-width="1.1"/>
<clipPath id="clD"><circle cx="471.3" cy="250" r="113"/></clipPath>
<g clip-path="url(#clD)" filter="url(#b2)" opacity="0.6"><ellipse cx="372.3" cy="210" rx="6" ry="28" fill="#dba5a5" transform="rotate(22 372.3 210)"/><ellipse cx="575.3" cy="280" rx="6" ry="32" fill="#bf8286" transform="rotate(-15 575.3 280)"/><ellipse cx="501.3" cy="357" rx="32" ry="4.5" fill="#dba5a5" transform="rotate(-15 501.3 357)"/><ellipse cx="431.3" cy="148" rx="30" ry="4.5" fill="#c08488" transform="rotate(-20 431.3 148)"/></g>
<path d="M569.3 250A8.5 8.5 0 0 0 568.1 265.3A8.5 8.5 0 0 0 564.5 280.3A8.5 8.5 0 0 0 558.6 294.5A8.5 8.5 0 0 0 550.6 307.6A8.5 8.5 0 0 0 540.6 319.3A8.5 8.5 0 0 0 528.9 329.3A8.5 8.5 0 0 0 515.8 337.3A8.5 8.5 0 0 0 501.6 343.2A8.5 8.5 0 0 0 486.6 346.8A8.5 8.5 0 0 0 471.3 348A8.5 8.5 0 0 0 456 346.8A8.5 8.5 0 0 0 441 343.2A8.5 8.5 0 0 0 426.8 337.3A8.5 8.5 0 0 0 413.7 329.3A8.5 8.5 0 0 0 402 319.3A8.5 8.5 0 0 0 392 307.6A8.5 8.5 0 0 0 384 294.5A8.5 8.5 0 0 0 378.1 280.3A8.5 8.5 0 0 0 374.5 265.3A8.5 8.5 0 0 0 373.3 250A8.5 8.5 0 0 0 374.5 234.7A8.5 8.5 0 0 0 378.1 219.7A8.5 8.5 0 0 0 384 205.5A8.5 8.5 0 0 0 392 192.4A8.5 8.5 0 0 0 402 180.7A8.5 8.5 0 0 0 413.7 170.7A8.5 8.5 0 0 0 426.8 162.7A8.5 8.5 0 0 0 441 156.8A8.5 8.5 0 0 0 456 153.2A8.5 8.5 0 0 0 471.3 152A8.5 8.5 0 0 0 486.6 153.2A8.5 8.5 0 0 0 501.6 156.8A8.5 8.5 0 0 0 515.8 162.7A8.5 8.5 0 0 0 528.9 170.7A8.5 8.5 0 0 0 540.6 180.7A8.5 8.5 0 0 0 550.6 192.4A8.5 8.5 0 0 0 558.6 205.5A8.5 8.5 0 0 0 564.5 219.7A8.5 8.5 0 0 0 568.1 234.7A8.5 8.5 0 0 0 569.3 250Z" fill="#acdcb6"/>
<clipPath id="clD2"><path d="M569.3 250A8.5 8.5 0 0 0 568.1 265.3A8.5 8.5 0 0 0 564.5 280.3A8.5 8.5 0 0 0 558.6 294.5A8.5 8.5 0 0 0 550.6 307.6A8.5 8.5 0 0 0 540.6 319.3A8.5 8.5 0 0 0 528.9 329.3A8.5 8.5 0 0 0 515.8 337.3A8.5 8.5 0 0 0 501.6 343.2A8.5 8.5 0 0 0 486.6 346.8A8.5 8.5 0 0 0 471.3 348A8.5 8.5 0 0 0 456 346.8A8.5 8.5 0 0 0 441 343.2A8.5 8.5 0 0 0 426.8 337.3A8.5 8.5 0 0 0 413.7 329.3A8.5 8.5 0 0 0 402 319.3A8.5 8.5 0 0 0 392 307.6A8.5 8.5 0 0 0 384 294.5A8.5 8.5 0 0 0 378.1 280.3A8.5 8.5 0 0 0 374.5 265.3A8.5 8.5 0 0 0 373.3 250A8.5 8.5 0 0 0 374.5 234.7A8.5 8.5 0 0 0 378.1 219.7A8.5 8.5 0 0 0 384 205.5A8.5 8.5 0 0 0 392 192.4A8.5 8.5 0 0 0 402 180.7A8.5 8.5 0 0 0 413.7 170.7A8.5 8.5 0 0 0 426.8 162.7A8.5 8.5 0 0 0 441 156.8A8.5 8.5 0 0 0 456 153.2A8.5 8.5 0 0 0 471.3 152A8.5 8.5 0 0 0 486.6 153.2A8.5 8.5 0 0 0 501.6 156.8A8.5 8.5 0 0 0 515.8 162.7A8.5 8.5 0 0 0 528.9 170.7A8.5 8.5 0 0 0 540.6 180.7A8.5 8.5 0 0 0 550.6 192.4A8.5 8.5 0 0 0 558.6 205.5A8.5 8.5 0 0 0 564.5 219.7A8.5 8.5 0 0 0 568.1 234.7A8.5 8.5 0 0 0 569.3 250Z"/></clipPath>
<g clip-path="url(#clD2)"><circle cx="471.3" cy="250" r="82" fill="none" stroke="#8ccb9d" stroke-width="36" stroke-dasharray="0.640 1.137" stroke-dashoffset="0.000"/><circle cx="471.3" cy="250" r="82" fill="none" stroke="#d3f1d9" stroke-width="36" stroke-dasharray="1.692 5.998" stroke-dashoffset="0.000" opacity="0.55"/></g>
<g fill="#e8d27c" stroke="#a98850" stroke-width="0.4"><path d="M-6.6 4.6C-7.4 -6.2 7.4 -6.2 6.6 4.6C5.4 -3.6 -5.4 -3.6 -6.6 4.6Z" transform="translate(575.4 258.2) rotate(94.5)"/><path d="M-6.6 4.6C-7.4 -6.2 7.4 -6.2 6.6 4.6C5.4 -3.6 -5.4 -3.6 -6.6 4.6Z" transform="translate(572.8 274.4) rotate(103.5)"/><path d="M-6.6 4.6C-7.4 -6.2 7.4 -6.2 6.6 4.6C5.4 -3.6 -5.4 -3.6 -6.6 4.6Z" transform="translate(567.8 290) rotate(112.5)"/><path d="M-6.6 4.6C-7.4 -6.2 7.4 -6.2 6.6 4.6C5.4 -3.6 -5.4 -3.6 -6.6 4.6Z" transform="translate(560.3 304.5) rotate(121.5)"/><path d="M-6.6 4.6C-7.4 -6.2 7.4 -6.2 6.6 4.6C5.4 -3.6 -5.4 -3.6 -6.6 4.6Z" transform="translate(550.7 317.8) rotate(130.5)"/><path d="M-6.6 4.6C-7.4 -6.2 7.4 -6.2 6.6 4.6C5.4 -3.6 -5.4 -3.6 -6.6 4.6Z" transform="translate(539.1 329.4) rotate(139.5)"/><path d="M-6.6 4.6C-7.4 -6.2 7.4 -6.2 6.6 4.6C5.4 -3.6 -5.4 -3.6 -6.6 4.6Z" transform="translate(525.8 339) rotate(148.5)"/><path d="M-6.6 4.6C-7.4 -6.2 7.4 -6.2 6.6 4.6C5.4 -3.6 -5.4 -3.6 -6.6 4.6Z" transform="translate(511.3 346.5) rotate(157.5)"/><path d="M-6.6 4.6C-7.4 -6.2 7.4 -6.2 6.6 4.6C5.4 -3.6 -5.4 -3.6 -6.6 4.6Z" transform="translate(495.7 351.5) rotate(166.5)"/><path d="M-6.6 4.6C-7.4 -6.2 7.4 -6.2 6.6 4.6C5.4 -3.6 -5.4 -3.6 -6.6 4.6Z" transform="translate(479.5 354.1) rotate(175.5)"/><path d="M-6.6 4.6C-7.4 -6.2 7.4 -6.2 6.6 4.6C5.4 -3.6 -5.4 -3.6 -6.6 4.6Z" transform="translate(463.1 354.1) rotate(184.5)"/><path d="M-6.6 4.6C-7.4 -6.2 7.4 -6.2 6.6 4.6C5.4 -3.6 -5.4 -3.6 -6.6 4.6Z" transform="translate(446.9 351.5) rotate(193.5)"/><path d="M-6.6 4.6C-7.4 -6.2 7.4 -6.2 6.6 4.6C5.4 -3.6 -5.4 -3.6 -6.6 4.6Z" transform="translate(431.3 346.5) rotate(202.5)"/><path d="M-6.6 4.6C-7.4 -6.2 7.4 -6.2 6.6 4.6C5.4 -3.6 -5.4 -3.6 -6.6 4.6Z" transform="translate(416.8 339) rotate(211.5)"/><path d="M-6.6 4.6C-7.4 -6.2 7.4 -6.2 6.6 4.6C5.4 -3.6 -5.4 -3.6 -6.6 4.6Z" transform="translate(403.5 329.4) rotate(220.5)"/><path d="M-6.6 4.6C-7.4 -6.2 7.4 -6.2 6.6 4.6C5.4 -3.6 -5.4 -3.6 -6.6 4.6Z" transform="translate(391.9 317.8) rotate(229.5)"/><path d="M-6.6 4.6C-7.4 -6.2 7.4 -6.2 6.6 4.6C5.4 -3.6 -5.4 -3.6 -6.6 4.6Z" transform="translate(382.3 304.5) rotate(238.5)"/><path d="M-6.6 4.6C-7.4 -6.2 7.4 -6.2 6.6 4.6C5.4 -3.6 -5.4 -3.6 -6.6 4.6Z" transform="translate(374.8 290) rotate(247.5)"/><path d="M-6.6 4.6C-7.4 -6.2 7.4 -6.2 6.6 4.6C5.4 -3.6 -5.4 -3.6 -6.6 4.6Z" transform="translate(369.8 274.4) rotate(256.5)"/><path d="M-6.6 4.6C-7.4 -6.2 7.4 -6.2 6.6 4.6C5.4 -3.6 -5.4 -3.6 -6.6 4.6Z" transform="translate(367.2 258.2) rotate(265.5)"/><path d="M-6.6 4.6C-7.4 -6.2 7.4 -6.2 6.6 4.6C5.4 -3.6 -5.4 -3.6 -6.6 4.6Z" transform="translate(367.2 241.8) rotate(274.5)"/><path d="M-6.6 4.6C-7.4 -6.2 7.4 -6.2 6.6 4.6C5.4 -3.6 -5.4 -3.6 -6.6 4.6Z" transform="translate(369.8 225.6) rotate(283.5)"/><path d="M-6.6 4.6C-7.4 -6.2 7.4 -6.2 6.6 4.6C5.4 -3.6 -5.4 -3.6 -6.6 4.6Z" transform="translate(374.8 210) rotate(292.5)"/><path d="M-6.6 4.6C-7.4 -6.2 7.4 -6.2 6.6 4.6C5.4 -3.6 -5.4 -3.6 -6.6 4.6Z" transform="translate(382.3 195.5) rotate(301.5)"/><path d="M-6.6 4.6C-7.4 -6.2 7.4 -6.2 6.6 4.6C5.4 -3.6 -5.4 -3.6 -6.6 4.6Z" transform="translate(391.9 182.2) rotate(310.5)"/><path d="M-6.6 4.6C-7.4 -6.2 7.4 -6.2 6.6 4.6C5.4 -3.6 -5.4 -3.6 -6.6 4.6Z" transform="translate(403.5 170.6) rotate(319.5)"/><path d="M-6.6 4.6C-7.4 -6.2 7.4 -6.2 6.6 4.6C5.4 -3.6 -5.4 -3.6 -6.6 4.6Z" transform="translate(416.8 161) rotate(328.5)"/><path d="M-6.6 4.6C-7.4 -6.2 7.4 -6.2 6.6 4.6C5.4 -3.6 -5.4 -3.6 -6.6 4.6Z" transform="translate(431.3 153.5) rotate(337.5)"/><path d="M-6.6 4.6C-7.4 -6.2 7.4 -6.2 6.6 4.6C5.4 -3.6 -5.4 -3.6 -6.6 4.6Z" transform="translate(446.9 148.5) rotate(346.5)"/><path d="M-6.6 4.6C-7.4 -6.2 7.4 -6.2 6.6 4.6C5.4 -3.6 -5.4 -3.6 -6.6 4.6Z" transform="translate(463.1 145.9) rotate(355.5)"/><path d="M-6.6 4.6C-7.4 -6.2 7.4 -6.2 6.6 4.6C5.4 -3.6 -5.4 -3.6 -6.6 4.6Z" transform="translate(479.5 145.9) rotate(364.5)"/><path d="M-6.6 4.6C-7.4 -6.2 7.4 -6.2 6.6 4.6C5.4 -3.6 -5.4 -3.6 -6.6 4.6Z" transform="translate(495.7 148.5) rotate(373.5)"/><path d="M-6.6 4.6C-7.4 -6.2 7.4 -6.2 6.6 4.6C5.4 -3.6 -5.4 -3.6 -6.6 4.6Z" transform="translate(511.3 153.5) rotate(382.5)"/><path d="M-6.6 4.6C-7.4 -6.2 7.4 -6.2 6.6 4.6C5.4 -3.6 -5.4 -3.6 -6.6 4.6Z" transform="translate(525.8 161) rotate(391.5)"/><path d="M-6.6 4.6C-7.4 -6.2 7.4 -6.2 6.6 4.6C5.4 -3.6 -5.4 -3.6 -6.6 4.6Z" transform="translate(539.1 170.6) rotate(400.5)"/><path d="M-6.6 4.6C-7.4 -6.2 7.4 -6.2 6.6 4.6C5.4 -3.6 -5.4 -3.6 -6.6 4.6Z" transform="translate(550.7 182.2) rotate(409.5)"/><path d="M-6.6 4.6C-7.4 -6.2 7.4 -6.2 6.6 4.6C5.4 -3.6 -5.4 -3.6 -6.6 4.6Z" transform="translate(560.3 195.5) rotate(418.5)"/><path d="M-6.6 4.6C-7.4 -6.2 7.4 -6.2 6.6 4.6C5.4 -3.6 -5.4 -3.6 -6.6 4.6Z" transform="translate(567.8 210) rotate(427.5)"/><path d="M-6.6 4.6C-7.4 -6.2 7.4 -6.2 6.6 4.6C5.4 -3.6 -5.4 -3.6 -6.6 4.6Z" transform="translate(572.8 225.6) rotate(436.5)"/><path d="M-6.6 4.6C-7.4 -6.2 7.4 -6.2 6.6 4.6C5.4 -3.6 -5.4 -3.6 -6.6 4.6Z" transform="translate(575.4 241.8) rotate(445.5)"/></g>
<circle cx="471.3" cy="250" r="99.6" fill="none" stroke="#efd272" stroke-width="3.6" stroke-linecap="round" stroke-dasharray="0 15.645" stroke-dashoffset="-7.823"/>
<g fill="#f0e597" stroke="#a89257" stroke-width="0.45"><ellipse cx="566.1" cy="250" rx="6.5" ry="2.1" transform="rotate(0 566.1 250)"/><ellipse cx="564.9" cy="264.8" rx="6.5" ry="2.1" transform="rotate(9 564.9 264.8)"/><ellipse cx="561.5" cy="279.3" rx="6.5" ry="2.1" transform="rotate(18 561.5 279.3)"/><ellipse cx="555.8" cy="293" rx="6.5" ry="2.1" transform="rotate(27 555.8 293)"/><ellipse cx="548" cy="305.7" rx="6.5" ry="2.1" transform="rotate(36 548 305.7)"/><ellipse cx="538.3" cy="317" rx="6.5" ry="2.1" transform="rotate(45 538.3 317)"/><ellipse cx="527" cy="326.7" rx="6.5" ry="2.1" transform="rotate(54 527 326.7)"/><ellipse cx="514.3" cy="334.5" rx="6.5" ry="2.1" transform="rotate(63 514.3 334.5)"/><ellipse cx="500.6" cy="340.2" rx="6.5" ry="2.1" transform="rotate(72 500.6 340.2)"/><ellipse cx="486.1" cy="343.6" rx="6.5" ry="2.1" transform="rotate(81 486.1 343.6)"/><ellipse cx="471.3" cy="344.8" rx="6.5" ry="2.1" transform="rotate(90 471.3 344.8)"/><ellipse cx="456.5" cy="343.6" rx="6.5" ry="2.1" transform="rotate(99 456.5 343.6)"/><ellipse cx="442" cy="340.2" rx="6.5" ry="2.1" transform="rotate(108 442 340.2)"/><ellipse cx="428.3" cy="334.5" rx="6.5" ry="2.1" transform="rotate(117 428.3 334.5)"/><ellipse cx="415.6" cy="326.7" rx="6.5" ry="2.1" transform="rotate(126 415.6 326.7)"/><ellipse cx="404.3" cy="317" rx="6.5" ry="2.1" transform="rotate(135 404.3 317)"/><ellipse cx="394.6" cy="305.7" rx="6.5" ry="2.1" transform="rotate(144 394.6 305.7)"/><ellipse cx="386.8" cy="293" rx="6.5" ry="2.1" transform="rotate(153 386.8 293)"/><ellipse cx="381.1" cy="279.3" rx="6.5" ry="2.1" transform="rotate(162 381.1 279.3)"/><ellipse cx="377.7" cy="264.8" rx="6.5" ry="2.1" transform="rotate(171 377.7 264.8)"/><ellipse cx="376.5" cy="250" rx="6.5" ry="2.1" transform="rotate(180 376.5 250)"/><ellipse cx="377.7" cy="235.2" rx="6.5" ry="2.1" transform="rotate(189 377.7 235.2)"/><ellipse cx="381.1" cy="220.7" rx="6.5" ry="2.1" transform="rotate(198 381.1 220.7)"/><ellipse cx="386.8" cy="207" rx="6.5" ry="2.1" transform="rotate(207 386.8 207)"/><ellipse cx="394.6" cy="194.3" rx="6.5" ry="2.1" transform="rotate(216 394.6 194.3)"/><ellipse cx="404.3" cy="183" rx="6.5" ry="2.1" transform="rotate(225 404.3 183)"/><ellipse cx="415.6" cy="173.3" rx="6.5" ry="2.1" transform="rotate(234 415.6 173.3)"/><ellipse cx="428.3" cy="165.5" rx="6.5" ry="2.1" transform="rotate(243 428.3 165.5)"/><ellipse cx="442" cy="159.8" rx="6.5" ry="2.1" transform="rotate(252 442 159.8)"/><ellipse cx="456.5" cy="156.4" rx="6.5" ry="2.1" transform="rotate(261 456.5 156.4)"/><ellipse cx="471.3" cy="155.2" rx="6.5" ry="2.1" transform="rotate(270 471.3 155.2)"/><ellipse cx="486.1" cy="156.4" rx="6.5" ry="2.1" transform="rotate(279 486.1 156.4)"/><ellipse cx="500.6" cy="159.8" rx="6.5" ry="2.1" transform="rotate(288 500.6 159.8)"/><ellipse cx="514.3" cy="165.5" rx="6.5" ry="2.1" transform="rotate(297 514.3 165.5)"/><ellipse cx="527" cy="173.3" rx="6.5" ry="2.1" transform="rotate(306 527 173.3)"/><ellipse cx="538.3" cy="183" rx="6.5" ry="2.1" transform="rotate(315 538.3 183)"/><ellipse cx="548" cy="194.3" rx="6.5" ry="2.1" transform="rotate(324 548 194.3)"/><ellipse cx="555.8" cy="207" rx="6.5" ry="2.1" transform="rotate(333 555.8 207)"/><ellipse cx="561.5" cy="220.7" rx="6.5" ry="2.1" transform="rotate(342 561.5 220.7)"/><ellipse cx="564.9" cy="235.2" rx="6.5" ry="2.1" transform="rotate(351 564.9 235.2)"/></g>
</g>
<circle cx="471.1" cy="251.2" r="69.5" fill="#ecc3ba"/>
<circle cx="471.1" cy="251.2" r="63" fill="#fbf7f4" stroke="#c4806e" stroke-width="1.2"/>
<circle cx="471.1" cy="251.2" r="58.4" fill="none" stroke="#c88566" stroke-width="6.4" stroke-dasharray="1.436 2.553" stroke-dashoffset="0.000"/>
<circle cx="471.1" cy="251.2" r="53.8" fill="none" stroke="#cf9479" stroke-width="0.6"/>
<circle cx="471.1" cy="251.2" r="50.2" fill="none" stroke="#c88566" stroke-width="5" stroke-dasharray="1.622 2.884" stroke-dashoffset="0.000"/>
<circle cx="469.3" cy="251" r="43.2" fill="#f0dcd9" stroke="#6f8f86" stroke-width="3.3"/>
<circle cx="469.3" cy="251" r="43.2" fill="none" stroke="#a3d1b8" stroke-width="2.3"/>
<circle cx="466.3" cy="252.8" r="21.6" fill="#f8f4f4" stroke="#c98a6a" stroke-width="0.8"/>
</g>
<g id="giraffe"><clipPath id="gn"><path d="M471 250C471 262 470.5 275 470 291L488 291C487.5 272 486.5 255 483 238L474 236Z"/></clipPath><path d="M471 250C471 262 470.5 275 470 291L488 291C487.5 272 486.5 255 483 238L474 236Z" fill="#f7eee6"/><g clip-path="url(#gn)"><ellipse cx="474" cy="262" rx="3.2" ry="4.4" fill="#a86d47" transform="rotate(22 474 262)"/><ellipse cx="480.8" cy="255.5" rx="3.4" ry="3.8" fill="#a86d47" transform="rotate(25 480.8 255.5)"/><ellipse cx="486.3" cy="265" rx="2.6" ry="4.8" fill="#b97a4e" transform="rotate(4 486.3 265)"/><ellipse cx="476.5" cy="273" rx="3.2" ry="4.2" fill="#c98a55" transform="rotate(16 476.5 273)"/><ellipse cx="483" cy="270.5" rx="3" ry="3.8" fill="#b97a4e" transform="rotate(-15 483 270.5)"/><ellipse cx="473" cy="283.5" rx="2.7" ry="4.4" fill="#b97a4e" transform="rotate(-2 473 283.5)"/><ellipse cx="479.3" cy="284.5" rx="3.3" ry="4.2" fill="#c4834f" transform="rotate(-10 479.3 284.5)"/><ellipse cx="485.8" cy="280.5" rx="2.6" ry="4.4" fill="#c4834f" transform="rotate(9 485.8 280.5)"/><ellipse cx="476" cy="293" rx="3.5" ry="3.5" fill="#b97a4e" transform="rotate(11 476 293)"/><ellipse cx="484" cy="293" rx="3" ry="3.5" fill="#c98a55" transform="rotate(-25 484 293)"/><ellipse cx="478" cy="246" rx="2.8" ry="3" fill="#c98a55" transform="rotate(1 478 246)"/><ellipse cx="483.5" cy="247" rx="2.1" ry="3.4" fill="#a86d47" transform="rotate(-14 483.5 247)"/></g><path d="M444 247.5C446 243 452 238 458 234C462 230 466 227 470 226.5C476 226 481 230 482 236C482.5 242 478 246 473 247.5C468 249 462 246.5 457 247.5C452 249 447 251 444.5 250C443.5 249.5 443.5 248.5 444 247.5Z" fill="#ebc093" stroke="#b7865f" stroke-width="0.4"/><path d="M444 247.8C447 246 451 245 455 244.5C452 248 447 251 444.5 250Z" fill="#a9715a"/><circle cx="464" cy="240" r="1.6" fill="#b26a3c"/><circle cx="468" cy="243" r="1.7" fill="#b26a3c"/><circle cx="472" cy="240" r="1.8" fill="#b26a3c"/><circle cx="476" cy="243" r="1.6" fill="#b26a3c"/><circle cx="470" cy="247" r="1.5" fill="#b26a3c"/><circle cx="475" cy="237" r="1.4" fill="#b26a3c"/><circle cx="461" cy="244" r="1.2" fill="#b26a3c"/><circle cx="466" cy="246.5" r="1.2" fill="#b26a3c"/><circle cx="478" cy="239" r="1.3" fill="#b26a3c"/><path d="M467 234.5C469 233 471.5 233.5 472.5 235.5C470.5 236.5 468.5 236 467 234.5Z" fill="#2a2320"/><path d="M468.5 228C467.5 224 467 221 467.5 218.5L470.2 218.2C470.5 221 471.2 224.5 472 227.5Z" fill="#d49a62"/><ellipse cx="468.7" cy="218.3" rx="1.9" ry="1.3" fill="#6d4a3c"/><path d="M474 228C474.5 224 475 221.5 475.8 219L478.4 219.6C478 222.5 477.6 225.5 477.4 229Z" fill="#d49a62"/><ellipse cx="477.1" cy="219.2" rx="1.9" ry="1.3" fill="#6d4a3c"/><path d="M479 231.5C482 228 485.5 227 487.5 228C486.5 231.5 483.5 234 480 234.5Z" fill="#c08a6a" stroke="#9a6a50" stroke-width="0.3"/><path d="M462 232.5C460 231.5 458 231.8 456.5 233C458.5 234 460.5 234.2 462.5 233.8Z" fill="#d9a070"/></g>
<g id="tray2">
<path d="M549.3 498.7L555.2 499.4L560.9 501.3L566 504.5L570.4 508.6L573.8 513.6L576 519.1L576.9 524.9L582.4 654.4L581.9 660.3L580.1 665.9L577.1 670.9L572.9 675.2L567.8 678.6L562 680.7L555.9 681.6L318.4 690.9L312.3 690.4L306.5 688.6L301.4 685.5L297.1 681.3L293.9 676.1L291.9 670.3L291.3 664.1L293.6 525.7L294.3 519.5L296.4 513.6L299.6 508.3L303.9 503.9L309 500.6L314.6 498.6L320.5 497.9Z" fill="#c3c3ca" filter="url(#b1)"/>
<path d="M548.2 496.7L554.1 497.4L559.8 499.4L565 502.5L569.3 506.7L572.7 511.6L574.9 517.2L575.8 523L581.3 652.5L580.8 658.4L579 664L576 669L571.8 673.3L566.7 676.7L560.9 678.8L554.8 679.7L317.4 688.9L311.3 688.4L305.5 686.6L300.4 683.5L296.1 679.2L292.9 674.1L291 668.2L290.4 662.1L292.6 523.6L293.4 517.4L295.4 511.5L298.7 506.3L302.9 501.9L308 498.6L313.6 496.5L319.6 495.9Z" fill="#fbfbfc" stroke="#e0e0e5" stroke-width="0.6"/>
<path d="M545.1 504.7L550.2 505.4L555 507.3L559.2 510.4L562.5 514.5L564.6 519.1L565.5 524.1L570.5 649.2L570 654.2L568.1 659L565.1 663.1L561 666.4L556.1 668.5L550.9 669.3L321.1 677.7L315.9 677.2L311 675.3L306.8 672.2L303.6 668L301.7 663.1L301.1 657.8L302.9 524.9L303.7 519.5L305.7 514.5L308.9 510.3L313 507L317.8 505L322.9 504.3Z" fill="#eeeef2" filter="url(#b1)"/>
<path d="M543.8 512L547.7 512.5L551.3 514L554.4 516.3L556.9 519.3L558.5 522.8L559.2 526.6L563.9 648.9L563.5 652.7L562.1 656.3L559.8 659.4L556.7 661.8L553.1 663.4L549.2 664L323.7 671.9L319.8 671.6L316.1 670.1L313 667.8L310.6 664.7L309.1 661L308.7 657L310.3 527.4L310.9 523.4L312.4 519.7L314.8 516.5L317.9 514L321.5 512.5L325.3 512Z" fill="#fefefe" filter="url(#b1)"/>
<path d="M537.1 517.9L539.9 518.3L542.4 519.5L544.5 521.5L545.8 523.9L546.3 526.6L550.6 646.4L550.2 649.1L549 651.6L547.1 653.6L544.6 655L541.8 655.5L328.9 662.5L326.1 662.2L323.5 661L321.5 659L320.3 656.4L319.8 653.6L321.2 527.4L321.6 524.5L322.9 521.9L324.9 519.9L327.4 518.6L330.2 518.1Z" fill="#fdfdfd" stroke="#3a3d45" stroke-width="0.9"/>
<path d="M536.3 521.8L538.1 522.1L539.8 522.9L541.2 524.2L542.1 525.8L542.4 527.6L546.5 645.6L546.3 647.4L545.5 649L544.2 650.4L542.5 651.3L540.6 651.6L329.9 658.4L328 658.2L326.4 657.4L325 656L324.2 654.3L323.9 652.5L325.1 528.4L325.4 526.5L326.3 524.8L327.6 523.4L329.3 522.5L331.1 522.2Z" fill="none" stroke="#23252c" stroke-width="1.8" stroke-linecap="round" stroke-dasharray="0 5.75"/>
<clipPath id="t2c"><path d="M527 533.6A16.3 16.3 0 0 1 536.5 558.6A17 17 0 0 1 537.5 586.5A17 17 0 0 1 538.4 614.3A16 16 0 0 1 526.4 637.7A17.4 17.4 0 0 1 498 640.7A17.6 17.6 0 0 1 469.2 641.5A17.6 17.6 0 0 1 440.4 642.4A17.6 17.6 0 0 1 411.6 643.2A17.6 17.6 0 0 1 382.8 644.1A17.1 17.1 0 0 1 355.1 640.3A16.7 16.7 0 0 1 346.4 614.3A17.7 17.7 0 0 1 346.5 585.2A17.7 17.7 0 0 1 346.7 556.1A16.6 16.6 0 0 1 359.3 532A17 17 0 0 1 387.1 529.7A17.2 17.2 0 0 1 415.3 529.6A17.2 17.2 0 0 1 443.4 529.5A17.2 17.2 0 0 1 471.6 529.4A17.2 17.2 0 0 1 499.7 529.2A16.9 16.9 0 0 1 527 533.6Z"/></clipPath>
<path d="M527 533.6A16.3 16.3 0 0 1 536.5 558.6A17 17 0 0 1 537.5 586.5A17 17 0 0 1 538.4 614.3A16 16 0 0 1 526.4 637.7A17.4 17.4 0 0 1 498 640.7A17.6 17.6 0 0 1 469.2 641.5A17.6 17.6 0 0 1 440.4 642.4A17.6 17.6 0 0 1 411.6 643.2A17.6 17.6 0 0 1 382.8 644.1A17.1 17.1 0 0 1 355.1 640.3A16.7 16.7 0 0 1 346.4 614.3A17.7 17.7 0 0 1 346.5 585.2A17.7 17.7 0 0 1 346.7 556.1A16.6 16.6 0 0 1 359.3 532A17 17 0 0 1 387.1 529.7A17.2 17.2 0 0 1 415.3 529.6A17.2 17.2 0 0 1 443.4 529.5A17.2 17.2 0 0 1 471.6 529.4A17.2 17.2 0 0 1 499.7 529.2A16.9 16.9 0 0 1 527 533.6Z" fill="#fdf6f6"/>
<g clip-path="url(#t2c)"><path d="M509 549.6L513.7 516.6M512.8 551.2L528.1 521.9M515.1 553.6L540.5 532.3M516.5 556.4L548.5 546.4M517.2 561L551 560.6M517.5 570.3L551.4 569.8M517.8 579.6L551.7 579M518 588.9L552 588.3M518.3 598.2L552.4 597.5M518.6 607.5L552.7 606.7M518.4 612.1L551.4 621M517.2 615.3L544.7 635.3M514.5 618.3L533.7 645.9M510.7 619.9L519.5 652.2M504.9 620.3L505.7 653.7M495.3 620.5L496.1 654M485.8 620.7L486.5 654.4M476.2 621L476.9 654.7M466.7 621.2L467.3 655M457.1 621.5L457.7 655.3M447.6 621.7L448.1 655.6M438.1 621.9L438.5 655.9M428.5 622.2L428.9 656.2M419 622.4L419.3 656.5M409.4 622.6L409.6 656.8M399.9 622.9L400 657.2M390.3 623.1L390.4 657.5M380.8 623.4L380.8 657.8M373.9 623.3L368.2 657.5M370.1 621.7L353.6 652.5M367.8 619.3L341.3 641.9M366.5 616.4L333.7 627.3M366 611.6L331.8 612.4M366 602L331.9 602.7M366 592.4L332 593M366 582.7L332.1 583.3M366 573.1L332.1 573.6M366 563.5L332.2 563.9M366.4 558.6L334.1 548.9M367.6 555.4L341.3 534M370.4 552.3L352.5 523.2M374.2 550.7L366.5 517.2M379.9 550.5L379.9 516M389.3 550.4L389.2 516M398.7 550.3L398.6 516M408.2 550.2L407.9 516M417.6 550.1L417.3 516M427 550.1L426.6 516M436.4 550L436 516M445.8 549.9L445.3 516M455.2 549.8L454.7 516M464.6 549.7L464 516M474 549.7L473.3 516M483.4 549.6L482.7 516M492.8 549.5L492 516M502.2 549.4L501.4 516" stroke="#f7d2d7" stroke-width="4.6" fill="none"/></g>
<path d="M527 533.6A16.3 16.3 0 0 1 536.5 558.6A17 17 0 0 1 537.5 586.5A17 17 0 0 1 538.4 614.3A16 16 0 0 1 526.4 637.7A17.4 17.4 0 0 1 498 640.7A17.6 17.6 0 0 1 469.2 641.5A17.6 17.6 0 0 1 440.4 642.4A17.6 17.6 0 0 1 411.6 643.2A17.6 17.6 0 0 1 382.8 644.1A17.1 17.1 0 0 1 355.1 640.3A16.7 16.7 0 0 1 346.4 614.3A17.7 17.7 0 0 1 346.5 585.2A17.7 17.7 0 0 1 346.7 556.1A16.6 16.6 0 0 1 359.3 532A17 17 0 0 1 387.1 529.7A17.2 17.2 0 0 1 415.3 529.6A17.2 17.2 0 0 1 443.4 529.5A17.2 17.2 0 0 1 471.6 529.4A17.2 17.2 0 0 1 499.7 529.2A16.9 16.9 0 0 1 527 533.6Z" fill="none" stroke="#eeb0b9" stroke-width="0.9"/>
<path d="M525.5 535A16 16 0 0 1 534.9 559.5A16.6 16.6 0 0 1 535.7 586.7A16.6 16.6 0 0 1 536.6 614A15.6 15.6 0 0 1 524.4 636.5A17.1 17.1 0 0 1 496.5 639.1A17.2 17.2 0 0 1 468.4 640A17.2 17.2 0 0 1 440.2 640.8A17.2 17.2 0 0 1 412 641.6A17.2 17.2 0 0 1 383.9 642.4A16.7 16.7 0 0 1 356.7 638.7A16.3 16.3 0 0 1 348.1 613.4A17.3 17.3 0 0 1 348.3 584.9A17.3 17.3 0 0 1 348.4 556.5A16.2 16.2 0 0 1 361.2 533.3A16.7 16.7 0 0 1 388.5 531.3A16.8 16.8 0 0 1 416.1 531.2A16.8 16.8 0 0 1 443.7 531A16.8 16.8 0 0 1 471.2 530.9A16.8 16.8 0 0 1 498.8 530.8A16.5 16.5 0 0 1 525.5 535Z" fill="none" stroke="#cf7f8b" stroke-width="0.8" stroke-linecap="round" stroke-dasharray="0 2.8"/>
<path d="M511.9 547.7A17.7 17.7 0 0 1 520.5 570.6A18.4 18.4 0 0 1 521.2 596A17.9 17.9 0 0 1 516.6 620.2A18.2 18.2 0 0 1 492.6 627.3A19 19 0 0 1 466.5 628A19 19 0 0 1 440.3 628.7A19 19 0 0 1 414.2 629.4A19 19 0 0 1 388.1 630.1A18.4 18.4 0 0 1 362.9 626.5A18.1 18.1 0 0 1 355 602.9A19.1 19.1 0 0 1 355.1 576.5A18.6 18.6 0 0 1 360.4 551.4A18 18 0 0 1 384.2 544.6A18.6 18.6 0 0 1 409.9 544.4A18.6 18.6 0 0 1 435.6 544.2A18.6 18.6 0 0 1 461.3 544A18.6 18.6 0 0 1 487 543.8A18.3 18.3 0 0 1 511.9 547.7Z" fill="#fcfbf8" stroke="#9ccac6" stroke-width="2.1"/>
<path d="M511.9 547.7A17.7 17.7 0 0 1 520.5 570.6A18.4 18.4 0 0 1 521.2 596A17.9 17.9 0 0 1 516.6 620.2A18.2 18.2 0 0 1 492.6 627.3A19 19 0 0 1 466.5 628A19 19 0 0 1 440.3 628.7A19 19 0 0 1 414.2 629.4A19 19 0 0 1 388.1 630.1A18.4 18.4 0 0 1 362.9 626.5A18.1 18.1 0 0 1 355 602.9A19.1 19.1 0 0 1 355.1 576.5A18.6 18.6 0 0 1 360.4 551.4A18 18 0 0 1 384.2 544.6A18.6 18.6 0 0 1 409.9 544.4A18.6 18.6 0 0 1 435.6 544.2A18.6 18.6 0 0 1 461.3 544A18.6 18.6 0 0 1 487 543.8A18.3 18.3 0 0 1 511.9 547.7Z" fill="none" stroke="#7f9d9b" stroke-width="0.35"/>
<path d="M491.6 549.7A5.4 5.4 0 0 0 502.7 554.5A5.4 5.4 0 0 0 510.9 563.4A5.4 5.4 0 0 0 514.9 574.7A5.4 5.4 0 0 0 515.5 586.7A5.4 5.4 0 0 0 515.4 598.7A5.4 5.4 0 0 0 511.7 610A5.4 5.4 0 0 0 503.5 618.8A5.5 5.5 0 0 0 492.3 623.6A5.5 5.5 0 0 0 480 624.4A5.5 5.5 0 0 0 467.7 624.7A5.5 5.5 0 0 0 455.4 625A5.5 5.5 0 0 0 443 625.3A5.5 5.5 0 0 0 430.7 625.6A5.5 5.5 0 0 0 418.4 625.9A5.5 5.5 0 0 0 406.1 626.3A5.5 5.5 0 0 0 393.8 626.6A5.5 5.5 0 0 0 381.5 626.2A5.5 5.5 0 0 0 370.4 621.4A5.4 5.4 0 0 0 362.3 612.3A5.5 5.5 0 0 0 358.7 600.7A5.6 5.6 0 0 0 358.5 588.2A5.6 5.6 0 0 0 358.9 575.8A5.6 5.6 0 0 0 363 564.1A5.5 5.5 0 0 0 371.3 555.1A5.5 5.5 0 0 0 382.5 550.4A5.5 5.5 0 0 0 394.6 549.8A5.5 5.5 0 0 0 406.7 549.7A5.5 5.5 0 0 0 418.9 549.6A5.5 5.5 0 0 0 431 549.5A5.5 5.5 0 0 0 443.1 549.4A5.5 5.5 0 0 0 455.3 549.3A5.5 5.5 0 0 0 467.4 549.2A5.5 5.5 0 0 0 479.5 549.1A5.5 5.5 0 0 0 491.6 549.7Z" fill="none" stroke="#9d9a7a" stroke-width="0.45"/>
<g fill="#e0d78e" stroke="#a59c5c" stroke-width="0.3"><ellipse cx="483.2" cy="551.8" rx="3.3" ry="1.55" transform="rotate(-87 483.2 551.8)"/><ellipse cx="494.5" cy="553.9" rx="3.3" ry="1.55" transform="rotate(-66 494.5 553.9)"/><ellipse cx="504.1" cy="560.3" rx="3.3" ry="1.55" transform="rotate(-43 504.1 560.3)"/><ellipse cx="510.5" cy="569.8" rx="3.3" ry="1.55" transform="rotate(-19 510.5 569.8)"/><ellipse cx="512.8" cy="581" rx="3.3" ry="1.55" transform="rotate(0 512.8 581)"/><ellipse cx="513.1" cy="592.4" rx="3.3" ry="1.55" transform="rotate(2 513.1 592.4)"/><ellipse cx="511.1" cy="603.5" rx="3.3" ry="1.55" transform="rotate(23 511.1 603.5)"/><ellipse cx="504.7" cy="613" rx="3.3" ry="1.55" transform="rotate(47 504.7 613)"/><ellipse cx="495.1" cy="619.3" rx="3.3" ry="1.55" transform="rotate(70 495.1 619.3)"/><ellipse cx="483.7" cy="621.6" rx="3.3" ry="1.55" transform="rotate(89 483.7 621.6)"/><ellipse cx="472" cy="621.9" rx="3.3" ry="1.55" transform="rotate(90 472 621.9)"/><ellipse cx="460.3" cy="622.2" rx="3.3" ry="1.55" transform="rotate(90 460.3 622.2)"/><ellipse cx="448.6" cy="622.5" rx="3.3" ry="1.55" transform="rotate(90 448.6 622.5)"/><ellipse cx="436.9" cy="622.8" rx="3.3" ry="1.55" transform="rotate(90 436.9 622.8)"/><ellipse cx="425.2" cy="623.1" rx="3.3" ry="1.55" transform="rotate(90 425.2 623.1)"/><ellipse cx="413.5" cy="623.3" rx="3.3" ry="1.55" transform="rotate(90 413.5 623.3)"/><ellipse cx="401.8" cy="623.6" rx="3.3" ry="1.55" transform="rotate(90 401.8 623.6)"/><ellipse cx="390.1" cy="623.9" rx="3.3" ry="1.55" transform="rotate(92 390.1 623.9)"/><ellipse cx="378.7" cy="621.9" rx="3.3" ry="1.55" transform="rotate(113 378.7 621.9)"/><ellipse cx="369.1" cy="615.4" rx="3.3" ry="1.55" transform="rotate(136 369.1 615.4)"/><ellipse cx="363" cy="605.7" rx="3.3" ry="1.55" transform="rotate(160 363 605.7)"/><ellipse cx="361" cy="594.2" rx="3.3" ry="1.55" transform="rotate(179 361 594.2)"/><ellipse cx="361" cy="582.3" rx="3.3" ry="1.55" transform="rotate(-177 361 582.3)"/><ellipse cx="363.4" cy="570.8" rx="3.3" ry="1.55" transform="rotate(-156 363.4 570.8)"/><ellipse cx="369.9" cy="561.1" rx="3.3" ry="1.55" transform="rotate(-132 369.9 561.1)"/><ellipse cx="379.6" cy="554.7" rx="3.3" ry="1.55" transform="rotate(-109 379.6 554.7)"/><ellipse cx="390.9" cy="552.6" rx="3.3" ry="1.55" transform="rotate(-90 390.9 552.6)"/><ellipse cx="402.4" cy="552.5" rx="3.3" ry="1.55" transform="rotate(-90 402.4 552.5)"/><ellipse cx="414" cy="552.4" rx="3.3" ry="1.55" transform="rotate(-90 414 552.4)"/><ellipse cx="425.5" cy="552.3" rx="3.3" ry="1.55" transform="rotate(-90 425.5 552.3)"/><ellipse cx="437" cy="552.2" rx="3.3" ry="1.55" transform="rotate(-90 437 552.2)"/><ellipse cx="448.6" cy="552.1" rx="3.3" ry="1.55" transform="rotate(-90 448.6 552.1)"/><ellipse cx="460.1" cy="552" rx="3.3" ry="1.55" transform="rotate(-90 460.1 552)"/><ellipse cx="471.7" cy="551.9" rx="3.3" ry="1.55" transform="rotate(-90 471.7 551.9)"/></g>
<path d="M476.3 559.8L480.8 560.1L485.1 561.1L489.3 562.8L493.1 565L496.6 567.9L499.6 571.2L502 574.9L503.9 579L505 583.3L505.5 587.7L505.5 587.9L505.3 592.3L504.3 596.6L502.7 600.7L500.4 604.5L497.6 607.9L494.3 610.9L490.5 613.3L486.3 615.1L482 616.2L477.5 616.7L395.2 618.7L390.7 618.4L386.3 617.5L382.2 615.8L378.3 613.5L374.9 610.7L372 607.3L369.6 603.4L367.9 599.2L366.8 594.8L366.5 590.3L366.5 590.1L366.9 585.5L367.9 581.1L369.6 576.9L372 572.9L374.9 569.4L378.3 566.5L382.1 564L386.2 562.2L390.5 561.1L395 560.7Z" fill="#de9b9a" stroke="#a9cfcb" stroke-width="1.7"/>
<clipPath id="t2p"><path d="M476.3 559.8L480.8 560.1L485.1 561.1L489.3 562.8L493.1 565L496.6 567.9L499.6 571.2L502 574.9L503.9 579L505 583.3L505.5 587.7L505.5 587.9L505.3 592.3L504.3 596.6L502.7 600.7L500.4 604.5L497.6 607.9L494.3 610.9L490.5 613.3L486.3 615.1L482 616.2L477.5 616.7L395.2 618.7L390.7 618.4L386.3 617.5L382.2 615.8L378.3 613.5L374.9 610.7L372 607.3L369.6 603.4L367.9 599.2L366.8 594.8L366.5 590.3L366.5 590.1L366.9 585.5L367.9 581.1L369.6 576.9L372 572.9L374.9 569.4L378.3 566.5L382.1 564L386.2 562.2L390.5 561.1L395 560.7Z"/></clipPath>
<g clip-path="url(#t2p)" filter="url(#b2)" opacity="0.75"><ellipse cx="405" cy="573" rx="25" ry="9" fill="#e8b0ad"/><ellipse cx="395" cy="606" rx="22" ry="7" fill="#e9b6b2"/><ellipse cx="450" cy="598" rx="30" ry="10" fill="#d58d8f"/><ellipse cx="378" cy="588" rx="8" ry="16" fill="#d58d8f"/></g>
</g>
<clipPath id="sp2"><path d="M445.4 574.8C447.8 572.4 452.2 569 456.1 566.8C459.9 564.6 464.3 562.7 468.5 561.5C472.6 560.3 477.3 559.6 480.9 559.7C484.4 559.9 487.4 561.1 489.7 562.4C492.1 563.7 493.9 565.6 495 567.7C496.2 569.8 496.4 572.1 496.8 574.8C497.2 577.5 498 580.7 497.7 583.7C497.4 586.6 496.4 589.7 495 592.5C493.7 595.3 491.5 598.3 489.7 600.5C487.9 602.7 486.2 604.3 484.4 605.8C482.6 607.3 480.7 609 479.1 609.3C477.5 609.6 474.5 608.9 474.7 607.6C474.8 606.2 478.2 603.6 480 601.4C481.7 599.2 484 596.5 485.3 594.3C486.6 592.1 487.9 589.6 487.9 588.1C487.9 586.6 486.6 585.4 485.3 585.4C484 585.4 481.7 586.9 480 588.1C478.2 589.3 476.3 590.9 474.7 592.5C473 594.1 471.3 595.8 470.2 597.8C469.2 599.9 469 602.6 468.5 604.9C467.9 607.3 467.6 609.9 466.7 612C465.8 614.1 464.6 615.5 463.1 617.3C461.7 619.1 459.7 620.9 457.8 622.6C455.9 624.4 453.7 626.2 451.6 627.9C449.6 629.7 447.3 631.5 445.4 633.3C443.5 635 441.6 637 440.1 638.6C438.6 640.2 437.8 642.6 436.6 643C435.4 643.4 433.3 642.3 433 641.2C432.7 640.2 433.8 638.4 434.8 636.8C435.8 635.2 437.6 633.4 439.2 631.5C440.9 629.6 442.8 627.4 444.5 625.3C446.3 623.2 448.5 621 449.9 619.1C451.2 617.2 452.7 615.1 452.5 613.8C452.4 612.4 450.4 610.8 449 611.1C447.5 611.4 445.7 614.1 443.7 615.5C441.6 617 438.9 618.5 436.6 620C434.2 621.4 431.7 622.9 429.5 624.4C427.3 625.9 425.2 628.2 423.3 628.8C421.4 629.4 419 628.7 418 627.9C416.9 627.2 416.5 625.6 417.1 624.4C417.7 623.2 419.7 622.3 421.5 620.9C423.3 619.4 425.8 617.5 427.7 615.5C429.6 613.6 431.6 611.4 433 609.3C434.5 607.3 435.7 605.4 436.6 603.1C437.5 600.9 437.8 598.6 438.3 596.1C438.9 593.5 439.5 590.6 440.1 588.1C440.7 585.6 441 583.2 441.9 581C442.8 578.8 443.1 577.2 445.4 574.8Z"/></clipPath><path d="M445.4 574.8C447.8 572.4 452.2 569 456.1 566.8C459.9 564.6 464.3 562.7 468.5 561.5C472.6 560.3 477.3 559.6 480.9 559.7C484.4 559.9 487.4 561.1 489.7 562.4C492.1 563.7 493.9 565.6 495 567.7C496.2 569.8 496.4 572.1 496.8 574.8C497.2 577.5 498 580.7 497.7 583.7C497.4 586.6 496.4 589.7 495 592.5C493.7 595.3 491.5 598.3 489.7 600.5C487.9 602.7 486.2 604.3 484.4 605.8C482.6 607.3 480.7 609 479.1 609.3C477.5 609.6 474.5 608.9 474.7 607.6C474.8 606.2 478.2 603.6 480 601.4C481.7 599.2 484 596.5 485.3 594.3C486.6 592.1 487.9 589.6 487.9 588.1C487.9 586.6 486.6 585.4 485.3 585.4C484 585.4 481.7 586.9 480 588.1C478.2 589.3 476.3 590.9 474.7 592.5C473 594.1 471.3 595.8 470.2 597.8C469.2 599.9 469 602.6 468.5 604.9C467.9 607.3 467.6 609.9 466.7 612C465.8 614.1 464.6 615.5 463.1 617.3C461.7 619.1 459.7 620.9 457.8 622.6C455.9 624.4 453.7 626.2 451.6 627.9C449.6 629.7 447.3 631.5 445.4 633.3C443.5 635 441.6 637 440.1 638.6C438.6 640.2 437.8 642.6 436.6 643C435.4 643.4 433.3 642.3 433 641.2C432.7 640.2 433.8 638.4 434.8 636.8C435.8 635.2 437.6 633.4 439.2 631.5C440.9 629.6 442.8 627.4 444.5 625.3C446.3 623.2 448.5 621 449.9 619.1C451.2 617.2 452.7 615.1 452.5 613.8C452.4 612.4 450.4 610.8 449 611.1C447.5 611.4 445.7 614.1 443.7 615.5C441.6 617 438.9 618.5 436.6 620C434.2 621.4 431.7 622.9 429.5 624.4C427.3 625.9 425.2 628.2 423.3 628.8C421.4 629.4 419 628.7 418 627.9C416.9 627.2 416.5 625.6 417.1 624.4C417.7 623.2 419.7 622.3 421.5 620.9C423.3 619.4 425.8 617.5 427.7 615.5C429.6 613.6 431.6 611.4 433 609.3C434.5 607.3 435.7 605.4 436.6 603.1C437.5 600.9 437.8 598.6 438.3 596.1C438.9 593.5 439.5 590.6 440.1 588.1C440.7 585.6 441 583.2 441.9 581C442.8 578.8 443.1 577.2 445.4 574.8Z" fill="#fbfbfb" stroke="#efe3e1" stroke-width="0.7"/><g clip-path="url(#sp2)" stroke="#23252e" stroke-linecap="round" fill="none"><path d="M435.4 639.9l-0.2 0.3M428.1 627.3l0.3 0.8M455.3 635.6l-0.6 1M489.7 608.2l0.4 0.1M485.8 561.9l1.3 0.7M490 571.3l0.3 0.9M464.5 583.8l0.3 0.1M474.2 641.3l0.3 0M430.9 587.8l0.7 0.3M465.9 601.1l0.7 0.4M453.8 564l0.2 0.1M490.3 621.6l-1.4 0.1M446.3 595.3l-0.1 0.8M457.1 568.5l0.3 0.1M480 642.4l-1.1 0.9M445.9 641.4l-0.2 0.2M486.3 614.2l-0.6 0.3M475.7 565.2l0.9 0.2M431.4 574l0.6 0.8M476.4 599.6l-0.9 0.2M492.1 570.8l0.2 0.6M447.3 562l-1.3 0.8M470 567.2l0.3 1.3M478.3 577.9l0.7 0.7M483.1 594.8l0 0.3M436.4 578.1l-0.3 1.1M497.1 571.5l-0.1 0.5M471.7 636.7l0.4 1.3M456.4 605.4l-1.3 0.1M447.1 600l-0.3 0.9M421.5 596.8l0.3 0M421.6 593.1l1.4 0.3M420.3 567.6l0.8 0.8M455 616.1l0.7 0.3M490.9 609l1.1 0.9M469 600.9l-0.2 1.3M452.2 600.1l-0.5 0.2M492.7 564.1l-0.1 0.2M467.7 585l0.1 0.2M459.6 611.6l0.7 1M441.3 605l0.4 0.2M483.6 604l-1.1 1M487.1 588.3l0.6 0.6M488 608.1l0.5 0M462.1 612.3l-0.2 1.2M464 632l-0.6 0.6M433.1 579.2l0.1 0.4M438.3 587.8l-0.8 0.4M467.3 631.2l0.6 1.3M469.5 607.3l-0.5 0.1M427.2 581.4l-0.1 0.2M426.3 608.1l-0.6 1.1M488.5 607.4l-0.6 1.2M441.3 605.4l-0.4 0M440.7 585.4l0.4 0.5M417.2 595.3l-0.6 1.2M423.6 590.3l0.1 1.3M436.5 565.7l0.8 0.1M460.2 607.8l1.2 0.1M425.8 635.5l0.1 0.9M480 562.1l1.1 0.1M425.1 636.7l-0.7 0.3M472.6 572.9l-0.1 0.2M484.7 589.3l0.2 0.8M483.6 608l0.5 0.4M438.2 571.1l0.2 1M468 633l0.7 1.1M492.6 623.2l-1 0.8M461.9 624.8l-1 0.2M418.7 578.9l0.2 1.5M493.7 617.4l1.2 0.7M419.9 637.7l0.3 0.2M474.8 612.3l-0.2 1.2M445.2 563.3l0.7 1.2M464.4 600.7l-0.6 0.6M489.1 632.5l-0.1 0.7M488.1 626.6l0.4 1.3M449.3 586.7l0.4 0.1M494.8 604.5l-0.2 0.5M468.8 628.1l0.4 0.4M447.5 588.8l-0.9 0.1M472.5 577.8l-1 0.1M457.2 619l-0.9 0.6M429.3 607.2l0.5 1.2M425.9 631.7l0.1 0.5M474.5 566.4l0 0.4M431.2 640.5l-0.3 0.1M422.5 603.8l0.1 0.4M476.6 583.1l-1 0.1M418.7 608.9l0.1 0.3M474.4 570.3l0.6 1.2M477.4 598.3l-0.4 1.1M455.6 633.7l-0.9 0.5M450.6 588.3l-0.3 0.5M423.8 636.7l0.2 0.2M494.8 624.1l0.2 0.3M465.3 587l-0.2 0.6M477.6 640.1l0.3 0.3M489.4 598.3l0.5 0.4M428.7 568l-0.9 0M463.4 637l-0.4 0.7M435.4 621.9l1.4 0.6M425.7 625.2l0.6 0.7M433 632.5l0 1.3M435.7 591.4l-0.9 0.6M495.8 607.8l0.8 0.3M443.5 577.1l-0.7 0.5M451 607.6l-1.4 0.1M426.4 594.7l0 0.5M472.1 639.9l-0.3 1.4M443.1 625.3l0.5 0.1M468.3 570.8l-0.6 0M487.1 593.1l-1.4 0.2M423.7 591.3l0.4 1.2M459.4 602.7l-0.7 0.3M417.2 590.9l0.3 0.8M451.7 600.6l-0.1 0.5M488.8 591.3l0.5 0.5M422.6 600.9l0.3 0.5M476.5 605.6l-1 0.5M430.3 581.9l0.4 0.4M424.5 580.1l0.2 0.2M488.7 603.1l-1.1 0.7M489 635.9l0.1 0.3M441.4 606.2l-0.4 1M426.5 639.3l-0.7 0.8M473.4 571l1.1 0.1M475.6 628l0 0.9M444.7 599.5l-0.2 1.2M478.1 635.3l-0.8 0.3M438.2 589.9l-1.1 0.9M453.8 611.2l0 0.7M432.8 615.2l0 0.6M471.9 580.4l-0.5 0.6M443.8 620.5l1.2 0.7M481.6 632.3l-0.3 0.6M485.5 634.5l-0.6 1.1M445.3 562.4l-0.4 0.2M473.9 592.6l0.4 0.2M450.1 584.9l0.5 0.5M469.3 632.4l0.1 0.4M429.1 602l-0.8 0.3M452.1 636.1l0.3 0.5M484.6 616l0.7 1M432.5 637.6l0.6 0.4M477 610.9l-0.4 0.9M474.3 570.6l-0.1 0.5M482.7 564.8l-0.5 0.4M433.7 635.6l0.4 0.2M441.7 584.7l0.1 1.2M460 560.4l0 0.3M473.2 606.9l-0.6 0M459.3 591l-0.4 0.1M456.3 578.1l-1.2 0M464.8 609.1l0.6 0.4M485 592.1l0 0.9M484.2 637.9l1.3 0.5M424.4 633.2l-1 0.9M435.2 578.7l-0.1 0.6M468.9 639.5l-0.3 1.2M442.8 638.5l-0.1 0.2M447.7 621.7l0.6 0.7M480.4 595.2l1.1 0.6M423.3 579.9l0.3 0.6M431.9 568.1l-0.3 0.5M426.4 561.6l1.2 0.3M461.5 620.1l-1 0.1M463.4 592.4l-0.8 0.4M483 606.2l-0.1 0.2M468.1 642l-0.5 0.1M485.4 617.2l-0.1 0.4M463.5 560.2l-0.4 0.1M475.7 575.1l-0.9 0.3M469.8 629.6l-0.6 0.7M431.3 608.1l-0.7 0.6M460.2 560.6l-0.3 0.7M463 592.9l-0.2 0M455.8 639.2l-0.4 0.5M479 571.8l0.4 1.2M489.1 563.3l-0.5 1.2M421.7 611.7l0.5 0.4M435.9 607.4l-0.1 1.4M492.1 602.6l-0.9 0.4M431.9 585.6l-0.3 0.4M453.9 598.6l-1 0.9M446.3 622.6l-0.6 1M483 640.8l0.3 0.1M489 576.3l-0.1 0.4M428.4 611.8l-0.4 0.6M493.3 618.4l-0.1 0.2M422.8 618.2l-1.1 0.7M478.8 609.9l-1 0.6M453.4 559.8l0.6 0.4M437.4 602.6l0.2 0.2M497.6 641l0.5 0.3M443 642.3l-0.8 0.7M474.7 585.8l-0.2 0.3M480.9 594.3l-1 0.5M456 622.5l0 0.9M419.8 608.6l-0.4 0.2M433.3 622l0.3 1.2M444.9 571l-0.5 0.4M436.1 591l0.9 0.8M473.5 641.8l0.8 0.4M417.6 577.5l-1 0.2M468.6 597l0.4 0.1M441.7 620.1l-0.2 0.1M479.4 605l0.5 0.2M442.7 595.6l-0.3 0.8M436.9 576.5l1.1 0.8M445.9 632l0 0.4M474.7 560.2l-0.1 1.2M468.7 630.7l1.2 0.1M437 632.7l0.6 0.2M445.4 598.3l1 0.3M465 633.8l-0.2 1.3M463.6 606.3l0.1 0.4M480.8 611l0.3 0.7M473.6 589.8l-0.4 1.2M434.6 606.6l0.8 0.7M490.8 619.1l0.3 1.1M427.6 616.7l0.5 0.3M431.5 564.5l-0.7 0.1M484.3 611.8l-0.3 0.5M443.7 603.9l-0.1 0.3M449.8 584.6l-1 0.2M497 605.9l0.7 0.1M417.4 639.9l-1 0.4M438 642.3l0.8 0.8M467 612.4l0.9 0.3M467.8 608.9l0.5 1.3M429.8 595.7l-0.2 0.3M434.7 570.8l-0.1 0.1M422.1 621.1l-0.9 0.5M450.6 616.7l0.1 1.3M496.8 642.9l-0.8 1.1M450.3 602.4l-1.2 0M439.5 605.7l0.7 1.2M488 631.3l0.2 1M492.2 640.1l1 0.1M440.1 637.1l-0.1 0.6M463.3 611.4l-0.8 1.2M475.1 587.6l0.3 0.4M456.7 562.5l0.1 0.4M441.7 596.6l1 0.4M435.9 563.2l0.2 0.5M424 568.4l0 0.4M490 618l0 1.1M430.7 607.9l-0.5 1.1M427 617.4l-1.2 0M484.7 585.2l-0.8 0.5M448.7 601.7l-0.4 1.2M427.5 626.3l0.3 0.6M448.3 601.6l1 0.5M448 566.2l0 1.3M439.2 586.6l0.7 0.8" stroke-width="0.8"/><path d="M454.1 597.5l0.7 0.5M424.3 579.2l0.2 0.2M464.2 596.8l-0.8 0.4M445.9 613.4l-0.3 0.8M490.7 605.1l-0.6 0.2M418.2 623.4l0.6 0.3M478.7 603.6l-0.4 0.1M444.6 614.5l0.2 0.3M475.6 619.3l0.3 0.8M475.5 618.7l1 0.1M448 603l0.3 0.4M485.6 602.7l-1 0.1M438.8 565.5l0.8 0.9M480 611.7l-1.3 0.1M481.9 601.7l-0.5 0.2M436.8 580.2l0 0.5M437.2 627.5l-0.8 0.5M418.9 575.7l0.5 0.2M475.5 609.7l0.4 0.5M445.1 573l0.2 0.5M491.5 617.4l0 1.5M476.3 624.7l0.3 0.3M448.6 571l0.1 0.8M448.8 562.7l-0.7 0.1M423.5 575.1l0.9 0.4M420.3 609.8l-1.1 0M436.1 590.1l0.3 0.6M438.1 629.8l-0.5 0.2M463.7 621.1l-0.2 0.6M494.1 560.9l-0.7 0.4M441.5 585.6l0.2 0.2M428.8 618.8l-0.7 1.2M430.1 564.3l0.7 1.1M473.1 577.3l-0.3 0.2M429.7 628.4l-0.5 0.1M445 601.9l-0.7 1.1M487.2 640.6l-0.4 0.9M444.3 570.4l1.2 0.3M491.4 593l1.1 0.4M418.4 561l-0.6 0.9M468 566l0.2 0.6M491.6 610.1l-1 1.1M467.8 640.5l0.1 1.4M461.1 593l-0.1 0.3M493.1 599.5l0.3 0.1M456.2 607.1l0.2 1.1M485.2 562.1l0.1 0.4M471.1 635.6l0.7 0.3M484.5 635.7l0 0.5M484 594.4l1 0.5M452.6 583.8l0.1 0.3M446.9 613.9l0.4 0.1M442.8 580.5l-1.3 0.7M491 602.1l-0.2 0.5M435.5 603.2l-0.9 0.6M427.5 611.9l0.1 0.2M450.8 604.4l0.6 1.1M477.9 560.5l0.1 1.3M449.6 615l-0.3 0.6M423.1 587.2l0.3 1.1M423.1 562.3l0.5 0.1M423 592.4l0.2 0.7M453.4 629.9l0.5 0.3M491.4 580.3l0.2 0.7M420 583.4l-1.2 0.4M428.3 599.2l-0.8 0.9M427.6 598.9l0.4 1.1M448.7 575.3l0.6 0.1M475.5 602.6l-0.5 0.8M466.5 623.3l0.3 0.1M457.4 623.4l0.7 1.3M449.9 562l-0.1 0.8M432.1 577.9l1.2 0.5M464.2 609.3l-1 0.2M425.5 563l0.1 0.4M481 615.1l-0.1 0.3M442.4 565.2l0.1 0.9M481.8 616.3l-1 1.1M495.1 615.2l-0.1 0.5M489.6 582l0.1 1.3M497.7 574.5l-0.6 0.4M417.4 626.1l-0.4 0.1M466.8 603.4l-1 0.6M433.4 585.5l-1.1 0.4M495.9 562.2l-0.5 0.2M420.8 606.4l0.3 0.4M454.4 590.5l-0.9 0.1M457.8 624l-0.9 0.7M432.9 624.8l0 0.7M488.8 606l0.2 0.3M491.3 602.1l-1.1 0.9M421.9 632l0.8 0.8M492.8 567.1l0.1 0.3M488.7 634.8l-0.8 0.8M423.9 590.9l0.1 0.5M463.5 591.3l1.2 0.3M476 577.6l-0.6 1.3M448.8 623.4l0.4 0.5M491.1 624.7l-0.6 0.1M424.8 590.7l0.6 1M467.1 630l0.3 0.9M464.8 604.7l-0.2 1.4M440.4 575.8l-0.3 0.1M487.3 642.2l0 0.4M489.8 625l-0.2 0.3M446.8 622.6l0.6 0.6M447.3 560.1l-0.4 0.8M436.5 642.5l0.6 0.8M469 571.4l0.4 0.4M460.6 561l0.6 0.6M423.8 582.9l0.2 1.1M440.2 577l0.8 0M490.8 624.2l-0.7 0.7M442.1 584.4l-0.9 0.4M458.2 562l-0.3 0.2M494.5 614.1l-1.4 0.3M475.7 624.8l0.6 0.8M458.4 575.3l0.5 0.5M442.6 566.1l0.4 0.4M422.1 635.5l-1.5 0M474.8 613l0.1 0.8M467.3 618.3l-0.2 0.7M429.7 579.7l1.3 0.2M452.9 606.6l-0.8 0.2M476.7 570.4l-0.3 0.4M480.3 566.5l-0.2 1.2M469 641.3l-0.6 0.3M471.2 599.3l0.8 0.5M460.4 561.5l-1 0.4M481.1 582.2l-0.5 1M428 574.8l-1.1 0.5M489.6 564.7l0.9 0.6M475.4 641.6l0.6 0.5M430.4 564.1l0.5 0.1M441.5 564.7l-0.9 1M492.4 569.4l0.1 0.8M478.3 575l-1.5 0.3M428.6 627.9l0.6 0.2M483.1 568.2l0.1 0.3M485.2 605.7l0.5 0.7M475.5 570.6l-0.2 1.2M440 617l-0.2 0.2M444.8 611l-0.4 0.2M449.3 616.1l-0.9 0.8M457 641.6l0.4 0.1M485 586.8l-0.1 0.8M467.8 620l0.5 0.3M496 577.3l0.7 0.1M476.3 579.2l-1 0.1M462.9 639.4l-0.6 0.3M459.5 578.1l-0.2 0.4M462.6 567l0.4 0.2M471 621.5l-0.9 0.1M431.9 615.3l0.4 0M445.1 580.7l-0.2 0.7M465.7 560.8l0.9 0.7M430.6 617.1l1.1 0.9M471.2 590.5l-0.2 1M445.3 632.9l0.2 0.2M423.4 628.2l0 0.2M460.2 616.5l-0.7 0.9M478.3 593.2l0.1 0.4M492.3 632.7l0.4 0.9M477.8 640.6l0.1 0.3M447.6 597.7l-0.9 0.3M495.6 581.7l-1.2 0.7M438.5 569.5l0.1 0.5M420.8 628.1l0.3 1.1M442.2 602.9l1 0.6M457.5 561.9l-0.2 0.5M490.5 629.1l-0.5 0.8M424.5 587.3l0.6 0.1M490.7 583.9l-0.4 0.4M429.2 610.2l0.4 0.7M441.8 626.1l0.4 0.6M429.5 596.2l-1.2 0.4M495.4 599.7l0.7 0.5M480.3 603.7l0.2 1.4M493.7 613.4l0.1 0.7M490.1 618.4l0.5 0.7M449 635.3l-1.5 0.1M453 634.7l-1.4 0.6M486.9 640.5l-1.3 0.7M456.6 573.3l0.3 0.5M465.5 589.3l0.2 0M472.4 587.4l0.1 0.4M485.4 570.4l0.3 0.3M441.6 568l0.3 0.1M482.2 576.7l-0.4 0.3M489.4 626.4l-0.7 0.3M478.9 604.1l-0.3 0.3M488.7 583.1l0 0.3M417.6 574.6l0.5 0.4M420.6 624l-0.4 0M471.5 599.4l-0.4 0M467.4 593.7l-0.4 0.4M464.9 603.4l1.1 0.8M489.9 563.8l1 0.5M432.5 587.8l-1.3 0.7M420.5 578.7l0.4 0.2M438.6 637.6l-0.6 0.4M484 566.2l0.1 0.2M482.2 574l-0.8 0.8M451.1 632.5l0.1 0.5M472.1 614.1l-0.9 1.1M418.5 571.9l-1.4 0.4M423.7 617.6l-0.3 0.2M494.9 597.6l-0.8 0.2M495.4 639.4l-0.6 0.3M445 573.5l0.7 0.3M417.4 603.5l0.8 1.2M425.9 639.3l-0.2 0.5M491.9 613.9l0.4 0.1M453.2 599.4l-0.8 0.9M484.5 560.5l-1.2 0.4M436.4 633.1l-0.4 0.7M424.7 566.1l-0.4 0.2M437.8 577.6l-0.7 0.1M475.7 628.2l0.6 0M463.8 565.1l0.4 1M460.7 602.9l-0.3 0.6M460.5 560.8l-0.9 0.3M441.2 580.8l-0.8 1M434 604.3l-0.8 1.1M448.9 573.7l0.9 0.5M473.1 579.1l0.3 0.7M477.7 599.7l-1 0M476.1 576.4l-0.8 0.1M489.8 566.4l-0.5 1M425.7 615.7l-0.6 0.9M473.7 583.6l-0.3 0.8M436.2 566.3l0.5 1M473.1 637.8l-0.9 0.5M451.9 636.6l0.8 0.9M488.2 628.7l-0.8 0.2M488 568.9l-0.3 0.3M482 610.6l-1.3 0.3M423.8 588.7l-0.3 0.6M426.9 586.9l1.3 0.1M459.7 607.5l0.1 0.2M471.8 592.3l-0.8 0.9M437.3 636.8l1.2 0.9M466.1 580.4l0.8 0.5M477.9 589.7l0 0.4M478.2 623.6l0.2 0.1M454.3 587l-0.6 0.9M442.2 640.5l-0.7 1.1M432.6 636.6l0.6 0.1" stroke-width="1.1"/><path d="M497 565l0.4 0.9M421.8 579.3l-0.3 0.1M456.5 575.9l-0.4 1.4M428 623.4l-0.2 0.3M429.2 603.8l0.8 0.2M444.8 582l0.3 0.7M488.9 574.3l0.6 0.4M494.9 560l1 0.8M419.8 640.1l-1.2 0M425.8 619.8l-0.7 0.8M483.9 603.7l-1 1M457.6 618.5l0.3 0.3M468.1 566.4l-0.5 0.5M469.6 568.8l0.3 0.8M485.4 585.7l-0.2 0.5M459.3 617.2l-0.3 0.6M487.1 635.1l1.3 0.4M495 565.2l-1.3 0.4M444.2 576.3l1.4 0.3M428 596.4l0.2 1.1M466.6 594.3l-0.3 1.4M484.2 629.6l-0.2 0.5M460.1 637.7l0.4 0.4M462.6 607.9l0.5 1.2M425.7 586.4l-0.3 0.2M447.3 612.1l0.2 0.1M470.5 613.9l-0.3 0M446.1 590.3l0.5 0.8M438.6 561.6l0.5 0.6M446.2 607.4l0 0.5M431.1 571.9l1.2 0.3M442.4 641.1l-0.8 0.8M486 594.3l1.4 0M424.8 602.3l-0.8 0M492.5 596.1l0.1 0.3M433.1 562.1l0 0.3M459.2 609.9l0.6 0.4M424.9 602.9l-0.6 0.1M464.2 580.2l-1.2 0.1M421.7 623.5l-1 0.2M455.3 626.6l0.4 0.1M458.2 617.8l-0.9 1M429.9 625.7l0.6 1.2M461.6 619.2l0.2 1.1M422.6 592.6l0.8 0.5M419.5 588.7l0 0.4M425.6 632.3l0.1 0.7M475 579.4l-0.2 0.4M496.5 590.1l0 1.2M490.4 607.9l-0.1 0.3M446.3 618.3l0.1 0.2M481.6 614.9l0.6 0.2M419.5 561.7l0.7 1M438.7 641.1l-1.3 0.5M447.8 603.7l0.7 1.1M475.2 623.1l0.2 0.3M494.8 581.4l-0.9 1.2M488.9 571l-0.8 0M464 617.5l-1.5 0.2M456.5 622.6l-0.7 0.1M484.9 603.9l-0.6 0.4M447.4 615.3l-1.2 0.7M487.3 573.1l-0.4 0.3M446.5 568l-0.1 1.1M468.8 588.6l0.4 0.5M461.2 625.9l0.1 1.3M465.1 574.9l-0.7 0.3M452 605.7l0.2 0.5M426.3 618.1l0.2 0.6M486.9 625.9l-0.4 0.6M455.1 559.8l0.4 0.4M424.1 606.4l0 0.6M472.8 605.6l-0.8 0.5M443.4 594.5l0.3 0M452.6 637.6l0 0.3M459.3 624.9l-0.3 0.2M435.1 618.8l-1.5 0.1M465.3 635.1l0.6 0.2M486.1 606.5l0.3 1.1M426.8 586.6l-0.1 0.2M484.7 563.2l0.8 0.3M496.1 582.2l-0.9 0.5M458.5 574.3l0.3 0.7M460.1 626.2l-0.5 0.1M479.7 622.3l0.7 0.2M429.6 572.3l-0.5 0.3M423.2 626.5l0 0.8M495.6 573.2l0.8 0.6M452 590.1l-0.5 1.3M482.3 621.4l0.9 0.8M473.7 635.8l-0.2 0.2M473 585.6l-0.9 0.6M440.6 569.7l-0.7 0.3M460.6 578.4l0.5 0.2M435 608.7l0.8 0.9M428.8 567.3l-0.3 0.3M463.2 578.9l-1.1 0.4M449.6 610.7l0.5 0.9M420.3 577.5l0.2 0.1M457.8 561.5l0.8 0.7M460.6 564.8l-0.4 0.5M418.5 592.7l1.1 0.3M481.5 631.2l-0.6 1.3M492.8 578.2l-1 0.8M433.5 627.5l0.3 0.3M428.5 577.6l0.4 0M425.7 621.7l0.4 0.3M491.1 560.6l0.3 0.5M478.6 618l-0.8 0.7M489.9 594.5l0.5 0M468.7 584.6l1.4 0.1M466.2 591.3l0.8 1.1M430.5 624.7l-0.6 0.8M477.3 616.4l0.6 0.3M418.7 622.8l0.8 0.5M453.9 584l-0.3 0.5M419.1 621.7l0.3 0M458.5 600.2l-0.2 0.1M467.7 584.8l-0.9 0.2M462.5 619.8l0.2 0.2M484.6 609.6l-0.2 0.6M486.4 631.6l0.1 0.7M476.9 567.8l0.6 1.1M418.5 560.1l-1.4 0.3M460.6 570.9l-0.9 0.3M489.1 630.1l-0.9 0.9M480.8 592.7l-0.6 0.2M470.1 626.5l0.6 0.6M440.5 578l-0.3 0.9M468.4 611.2l0.1 0.4M467 579l-1.4 0M424.3 589.2l-0.7 0.6M465.3 601.9l0.9 1.1M431 595.9l-0.6 0.3M420.8 630.1l-1 1M445.9 641.4l-0.4 1M446.1 591.7l0.3 0.4M440.4 561.7l0.9 0.3M493.5 633.4l0.5 0.6M491.2 595.7l1.1 0.7M455.9 606.4l0.2 0.8M469.6 610.3l-0.8 0.1M461.3 610l0.2 0.7M447.3 623.9l0.3 0.3M475.8 595.9l0.1 1.2M426.5 582.4l0.2 0.5M484.7 594l-0.8 0.5M463.1 570.5l-0.1 0.4M420.7 581.7l0.6 0.2M431.2 590.5l0.6 0.3M431.5 561.1l0.1 0.2M485.6 613.9l-1.1 0.5M488.2 630l0.2 0.4M442.2 613l-0.7 0.2M438.9 606.1l-0.2 1.5M433.2 630.5l-0.8 0.5M439.2 622.8l0.8 0.4M473.4 610.6l-0.9 0.5M430.8 561.6l0.3 0.7M493.5 580.5l0.2 1.3M464.6 578.4l0.1 0.4M497.3 584l0.2 0M496.5 608.9l0.9 0.2M490.7 610.5l-0.3 0.8M473.7 567.8l1 0.1M437.4 611.5l1 0.9M489 622.6l0.6 0.2M431.1 614.9l-0.7 0.5M494.6 568.8l-0.2 0.1M470 589.1l-0.3 1M439.3 642.3l-0.5 0.5M421.2 584.8l0.4 1M466.4 594.7l0.4 0M486 619.5l0.1 0.5M426.2 621l-1.2 0.5M438.3 640.3l1.4 0.2M449.1 567.2l0.9 0.2M428.1 642.8l1.2 0.9M460.5 562.6l-0.3 0M495.1 569.8l-0.2 0.3M490 569.5l0.5 0.7M477.2 606.4l1.5 0.3M476.7 611.9l0.5 1.2M481.4 613.4l-0.6 1.3M467.3 607.5l-1 0.6M485.1 598.9l-0.8 0.6M423.7 590.5l0.7 0.7M459.8 628.9l-0.5 0.8M474.7 580.1l-1.3 0.7M457.6 598.1l-0.8 0.9M474.3 573.4l-0.5 0.5M483.3 605.7l-0.2 0.2M434.1 631.1l-0.2 0.4M470.2 598.9l-1 0M426.1 625.1l-0.9 1.1M471.1 638.2l-1.1 0.9M490.7 586.6l0.1 0.4M434.6 612.9l0.7 0.3M483.6 634.7l0.8 0.5M445.5 588.6l0.6 0.7M495.7 598.7l-0.3 0.5M424.4 569.6l-0.3 1M464.6 585.6l-0.3 0.3M471 570l0.1 0.3M420.3 611.6l1 0.8M472.4 607.1l1 0.6M482.4 638.9l0.2 0.1M437.9 580.3l0.9 0.2M420.4 563l-0.4 0.4M474.4 612.6l1.4 0.4M457.9 578.5l0.1 0.9M452.5 639.2l-0.8 0.4M496.8 641.4l1.4 0.3M426 594.2l0 0.3M418 560.6l-0.8 0.1M457 633.6l0 1.3M454.3 586.1l-0.5 0.4M455.3 628.2l-1.2 0.8M421.3 586l-0.3 0.5M427.3 631.8l-0.2 0.2M418.8 586.8l0.3 0.5M477.6 627.3l1.2 0.6M434.1 571l-1.1 0.7M431.3 608.7l-0.1 1M494.4 611.7l-0.2 0.2M459.8 606.9l0.9 0.4M441.9 604.9l-0.1 0.4M477.4 619.5l-0.3 0.8M452.6 599.7l0 1M459.8 581.5l-0.6 0.1M482.6 613l-0.3 1.3M435.8 561.3l0.3 1.3M451.2 560.7l-0.6 0.2M423.5 626.1l0.2 0.9M463.3 577.7l0.6 0.1M421.8 612.3l-0.8 0.5M468.4 568.8l0.2 0.2M427.7 581.8l0.1 0.8M433.4 604.5l0.4 1.2M420.4 566.5l0.7 0.1M451.3 640.4l-0.9 0.8M495.1 569.3l1.2 0.3M461.7 634.8l-1.1 0M488 570.5l0.1 1.2M477.8 630.2l0.8 0.2M472.6 622.8l-0.2 1.3M424.6 641.8l-1.2 0.7M455.4 595.3l1.1 0.8M484.2 570.4l-1.4 0M477.6 614.8l0.2 0.6M461.8 614.9l-0.3 0.4M460.2 560.6l0.4 0.1M453.3 582.4l0.1 0.9M430.6 594.4l-0.8 0.3M422.4 628.5l1.1 0.3M488.4 577.1l-1.4 0.3" stroke-width="1.4"/></g>
<g id="tray1">
<rect x="50.900000000000006" y="564.8" width="298.5" height="136" rx="8" fill="#c1c1c9" filter="url(#b1)"/>
<rect x="50.0" y="563.0" width="298.8" height="134.7" rx="7" fill="#fbfbfc" stroke="#e0e0e5" stroke-width="0.6"/>
<rect x="62.0" y="574.8" width="275" height="113.5" rx="5" fill="#e6e6eb" filter="url(#b1)"/>
<rect x="64.9" y="577.8" width="270.5" height="109" rx="4.5" fill="#fefefe" filter="url(#b1)"/>
<rect x="73.3" y="583" width="253.4" height="95.2" rx="6" fill="#fdfdfd" stroke="#3a3d45" stroke-width="0.9"/>
<rect x="78" y="587.6" width="244" height="86" rx="4" fill="none" stroke="#23252c" stroke-width="1.9" stroke-linecap="round" stroke-dasharray="0 6.16"/>
<clipPath id="t1c"><path d="M306 596.3Q311.9 595 313.2 600.9Q311 605.3 314 609.8Q317 614.3 314 618.9Q311 623.4 314 627.9Q317 632.4 314 636.9Q311 641.4 314 646Q317 650.5 314 655Q310.8 658.7 311.3 663.2Q307.8 668.1 302.8 665.3Q298.3 662.3 293.8 665.3Q289.2 668.3 284.7 665.3Q280.2 662.3 275.7 665.3Q271.2 668.3 266.6 665.3Q262.1 662.3 257.6 665.3Q253.1 668.3 248.6 665.3Q244.1 662.3 239.5 665.3Q235 668.3 230.5 665.3Q226 662.3 221.5 665.3Q217 668.3 212.4 665.3Q207.9 662.3 203.4 665.3Q198.9 668.3 194.4 665.3Q189.9 662.3 185.3 665.3Q180.8 668.3 176.3 665.3Q171.8 662.3 167.3 665.3Q162.8 668.3 158.2 665.3Q153.7 662.3 149.2 665.3Q144.7 668.3 140.2 665.3Q135.7 662.3 131.1 665.3Q126.6 668.3 122.1 665.3Q117.6 662.3 113.1 665.3Q108.6 668.3 104 665.3Q99.5 662.3 95 665.3Q89.1 666.6 87.8 660.7Q90 656.3 87 651.8Q84 647.3 87 642.7Q90 638.2 87 633.7Q84 629.2 87 624.7Q90 620.2 87 615.6Q84 611.1 87 606.6Q90.2 602.9 89.7 598.4Q93.2 593.5 98.2 596.3Q102.7 599.3 107.2 596.3Q111.8 593.3 116.3 596.3Q120.8 599.3 125.3 596.3Q129.8 593.3 134.4 596.3Q138.9 599.3 143.4 596.3Q147.9 593.3 152.4 596.3Q156.9 599.3 161.5 596.3Q166 593.3 170.5 596.3Q175 599.3 179.5 596.3Q184 593.3 188.6 596.3Q193.1 599.3 197.6 596.3Q202.1 593.3 206.6 596.3Q211.1 599.3 215.7 596.3Q220.2 593.3 224.7 596.3Q229.2 599.3 233.7 596.3Q238.2 593.3 242.8 596.3Q247.3 599.3 251.8 596.3Q256.3 593.3 260.8 596.3Q265.3 599.3 269.9 596.3Q274.4 593.3 278.9 596.3Q283.4 599.3 287.9 596.3Q292.4 593.3 297 596.3Q301.5 599.3 306 596.3Z"/></clipPath>
<path d="M306 596.3Q311.9 595 313.2 600.9Q311 605.3 314 609.8Q317 614.3 314 618.9Q311 623.4 314 627.9Q317 632.4 314 636.9Q311 641.4 314 646Q317 650.5 314 655Q310.8 658.7 311.3 663.2Q307.8 668.1 302.8 665.3Q298.3 662.3 293.8 665.3Q289.2 668.3 284.7 665.3Q280.2 662.3 275.7 665.3Q271.2 668.3 266.6 665.3Q262.1 662.3 257.6 665.3Q253.1 668.3 248.6 665.3Q244.1 662.3 239.5 665.3Q235 668.3 230.5 665.3Q226 662.3 221.5 665.3Q217 668.3 212.4 665.3Q207.9 662.3 203.4 665.3Q198.9 668.3 194.4 665.3Q189.9 662.3 185.3 665.3Q180.8 668.3 176.3 665.3Q171.8 662.3 167.3 665.3Q162.8 668.3 158.2 665.3Q153.7 662.3 149.2 665.3Q144.7 668.3 140.2 665.3Q135.7 662.3 131.1 665.3Q126.6 668.3 122.1 665.3Q117.6 662.3 113.1 665.3Q108.6 668.3 104 665.3Q99.5 662.3 95 665.3Q89.1 666.6 87.8 660.7Q90 656.3 87 651.8Q84 647.3 87 642.7Q90 638.2 87 633.7Q84 629.2 87 624.7Q90 620.2 87 615.6Q84 611.1 87 606.6Q90.2 602.9 89.7 598.4Q93.2 593.5 98.2 596.3Q102.7 599.3 107.2 596.3Q111.8 593.3 116.3 596.3Q120.8 599.3 125.3 596.3Q129.8 593.3 134.4 596.3Q138.9 599.3 143.4 596.3Q147.9 593.3 152.4 596.3Q156.9 599.3 161.5 596.3Q166 593.3 170.5 596.3Q175 599.3 179.5 596.3Q184 593.3 188.6 596.3Q193.1 599.3 197.6 596.3Q202.1 593.3 206.6 596.3Q211.1 599.3 215.7 596.3Q220.2 593.3 224.7 596.3Q229.2 599.3 233.7 596.3Q238.2 593.3 242.8 596.3Q247.3 599.3 251.8 596.3Q256.3 593.3 260.8 596.3Q265.3 599.3 269.9 596.3Q274.4 593.3 278.9 596.3Q283.4 599.3 287.9 596.3Q292.4 593.3 297 596.3Q301.5 599.3 306 596.3Z" fill="#fdf8f8"/>
<g clip-path="url(#t1c)"><path d="M293 616.9L295.7 589.1M292.1 616.6L309.5 594.6M292.6 617L318 605.3M292.5 618.3L320.5 618.3M292.5 626.5L320.5 626.5M292.5 634.7L320.5 634.7M292.5 642.9L320.5 642.9M292.5 644.8L318.3 655.6M292.2 645L309.9 666.6M292.9 644.7L296.4 672.5M286.7 644.8L286.7 672.8M278.5 644.8L278.5 672.8M270.3 644.8L270.3 672.8M262.1 644.8L262.1 672.8M253.9 644.8L253.9 672.8M245.7 644.8L245.7 672.8M237.5 644.8L237.5 672.8M229.4 644.8L229.4 672.8M221.2 644.8L221.2 672.8M213 644.8L213 672.8M204.8 644.8L204.8 672.8M196.6 644.8L196.6 672.8M188.4 644.8L188.4 672.8M180.2 644.8L180.2 672.8M172 644.8L172 672.8M163.8 644.8L163.8 672.8M155.6 644.8L155.6 672.8M147.4 644.8L147.4 672.8M139.2 644.8L139.2 672.8M131 644.8L131 672.8M122.8 644.8L122.8 672.8M114.6 644.8L114.6 672.8M108 644.7L105.3 672.5M108.9 645L91.5 667M108.4 644.6L83 656.3M108.5 643.3L80.5 643.3M108.5 635.1L80.5 635.1M108.5 626.9L80.5 626.9M108.5 618.7L80.5 618.7M108.5 616.8L82.7 606M108.8 616.6L91.1 595M108.1 616.9L104.6 589.1M114.3 616.8L114.3 588.8M122.5 616.8L122.5 588.8M130.7 616.8L130.7 588.8M138.9 616.8L138.9 588.8M147.1 616.8L147.1 588.8M155.3 616.8L155.3 588.8M163.5 616.8L163.5 588.8M171.6 616.8L171.6 588.8M179.8 616.8L179.8 588.8M188 616.8L188 588.8M196.2 616.8L196.2 588.8M204.4 616.8L204.4 588.8M212.6 616.8L212.6 588.8M220.8 616.8L220.8 588.8M229 616.8L229 588.8M237.2 616.8L237.2 588.8M245.4 616.8L245.4 588.8M253.6 616.8L253.6 588.8M261.8 616.8L261.8 588.8M270 616.8L270 588.8M278.2 616.8L278.2 588.8M286.4 616.8L286.4 588.8" stroke="#f9dade" stroke-width="4.3" fill="none"/></g>
<path d="M306 596.3Q311.9 595 313.2 600.9Q311 605.3 314 609.8Q317 614.3 314 618.9Q311 623.4 314 627.9Q317 632.4 314 636.9Q311 641.4 314 646Q317 650.5 314 655Q310.8 658.7 311.3 663.2Q307.8 668.1 302.8 665.3Q298.3 662.3 293.8 665.3Q289.2 668.3 284.7 665.3Q280.2 662.3 275.7 665.3Q271.2 668.3 266.6 665.3Q262.1 662.3 257.6 665.3Q253.1 668.3 248.6 665.3Q244.1 662.3 239.5 665.3Q235 668.3 230.5 665.3Q226 662.3 221.5 665.3Q217 668.3 212.4 665.3Q207.9 662.3 203.4 665.3Q198.9 668.3 194.4 665.3Q189.9 662.3 185.3 665.3Q180.8 668.3 176.3 665.3Q171.8 662.3 167.3 665.3Q162.8 668.3 158.2 665.3Q153.7 662.3 149.2 665.3Q144.7 668.3 140.2 665.3Q135.7 662.3 131.1 665.3Q126.6 668.3 122.1 665.3Q117.6 662.3 113.1 665.3Q108.6 668.3 104 665.3Q99.5 662.3 95 665.3Q89.1 666.6 87.8 660.7Q90 656.3 87 651.8Q84 647.3 87 642.7Q90 638.2 87 633.7Q84 629.2 87 624.7Q90 620.2 87 615.6Q84 611.1 87 606.6Q90.2 602.9 89.7 598.4Q93.2 593.5 98.2 596.3Q102.7 599.3 107.2 596.3Q111.8 593.3 116.3 596.3Q120.8 599.3 125.3 596.3Q129.8 593.3 134.4 596.3Q138.9 599.3 143.4 596.3Q147.9 593.3 152.4 596.3Q156.9 599.3 161.5 596.3Q166 593.3 170.5 596.3Q175 599.3 179.5 596.3Q184 593.3 188.6 596.3Q193.1 599.3 197.6 596.3Q202.1 593.3 206.6 596.3Q211.1 599.3 215.7 596.3Q220.2 593.3 224.7 596.3Q229.2 599.3 233.7 596.3Q238.2 593.3 242.8 596.3Q247.3 599.3 251.8 596.3Q256.3 593.3 260.8 596.3Q265.3 599.3 269.9 596.3Q274.4 593.3 278.9 596.3Q283.4 599.3 287.9 596.3Q292.4 593.3 297 596.3Q301.5 599.3 306 596.3Z" fill="none" stroke="#f2c3ca" stroke-width="0.8"/>
<rect x="99.3" y="606.5" width="202.4" height="48.6" rx="3" fill="#fdfdfc" stroke="#9cc7c3" stroke-width="1.5"/>
<rect x="101.3" y="608.5" width="198.4" height="44.6" rx="2" fill="none" stroke="#b9a46a" stroke-width="0.4"/>
<path d="M180 612.6Q184.5 616.8 189 612.6Q193.5 616.8 198 612.6Q202.5 616.8 207 612.6Q211.5 616.8 216 612.6Q220.5 616.8 225 612.6Q229.5 616.8 234 612.6Q238.5 616.8 243 612.6Q247.5 616.8 252 612.6Q256.5 616.8 261 612.6Q265.5 616.8 270 612.6Q274.5 616.8 279 612.6Q283.5 616.8 288 612.6M171 649.4Q175.5 645.2 180 649.4Q184.5 645.2 189 649.4Q193.5 645.2 198 649.4Q202.5 645.2 207 649.4Q211.5 645.2 216 649.4Q220.5 645.2 225 649.4Q229.5 645.2 234 649.4Q238.5 645.2 243 649.4Q247.5 645.2 252 649.4Q256.5 645.2 261 649.4Q265.5 645.2 270 649.4Q274.5 645.2 279 649.4Q283.5 645.2 288 649.4" fill="none" stroke="#a79a5c" stroke-width="0.6"/>
<path d="M288 612.6Q297.5 613.5 296.8 622Q301 626.5 296.8 631Q301 635.5 296.8 640Q297.5 648.5 288 649.4" fill="none" stroke="#a79a5c" stroke-width="0.6"/>
<g fill="#e2d27a" stroke="#9f9254" stroke-width="0.35"><ellipse cx="189" cy="616.5" rx="1.6" ry="3.1"/><ellipse cx="198" cy="616.5" rx="1.6" ry="3.1"/><ellipse cx="207" cy="616.5" rx="1.6" ry="3.1"/><ellipse cx="216" cy="616.5" rx="1.6" ry="3.1"/><ellipse cx="225" cy="616.5" rx="1.6" ry="3.1"/><ellipse cx="234" cy="616.5" rx="1.6" ry="3.1"/><ellipse cx="243" cy="616.5" rx="1.6" ry="3.1"/><ellipse cx="252" cy="616.5" rx="1.6" ry="3.1"/><ellipse cx="261" cy="616.5" rx="1.6" ry="3.1"/><ellipse cx="270" cy="616.5" rx="1.6" ry="3.1"/><ellipse cx="279" cy="616.5" rx="1.6" ry="3.1"/><ellipse cx="288" cy="616.5" rx="1.6" ry="3.1"/><ellipse cx="180" cy="645.5" rx="1.6" ry="3.1"/><ellipse cx="189" cy="645.5" rx="1.6" ry="3.1"/><ellipse cx="198" cy="645.5" rx="1.6" ry="3.1"/><ellipse cx="207" cy="645.5" rx="1.6" ry="3.1"/><ellipse cx="216" cy="645.5" rx="1.6" ry="3.1"/><ellipse cx="225" cy="645.5" rx="1.6" ry="3.1"/><ellipse cx="234" cy="645.5" rx="1.6" ry="3.1"/><ellipse cx="243" cy="645.5" rx="1.6" ry="3.1"/><ellipse cx="252" cy="645.5" rx="1.6" ry="3.1"/><ellipse cx="261" cy="645.5" rx="1.6" ry="3.1"/><ellipse cx="270" cy="645.5" rx="1.6" ry="3.1"/><ellipse cx="279" cy="645.5" rx="1.6" ry="3.1"/><ellipse cx="288" cy="645.5" rx="1.6" ry="3.1"/><ellipse cx="292" cy="618" rx="3.1" ry="1.6"/><ellipse cx="294" cy="626.5" rx="3.1" ry="1.6"/><ellipse cx="294" cy="635.5" rx="3.1" ry="1.6"/><ellipse cx="292" cy="644" rx="3.1" ry="1.6"/></g>
<path d="M105 624L112 617L118 621ZM106 640L113 648L119 643ZM110 631L120 628L119 634Z" fill="#7fa673"/>
<path d="M104 628L118 622L134 615.5L150 609L168 602.5L186 596" fill="none" stroke="#6f9a62" stroke-width="0.9"/><path d="M119.9 621.5l1.5 1.1M125.8 612.7l-0.5 -2M131.6 620.1l1.4 1.3M138.3 617.7l2 0.7M152.5 602.9l-0.1 -2.1M167 598l0.3 -2.3M184.2 595.5l-0.7 -2.3" fill="none" stroke="#66759f" stroke-width="5.2" stroke-linecap="round"/><path d="M141.1 611l0 -2.5M153.5 612.1l2.2 0.8M181.8 598.6l1.4 1.8M183.9 595.9l0.1 -2" fill="none" stroke="#7483ad" stroke-width="5.2" stroke-linecap="round"/><path d="M121.6 629.1l2.1 2.3M136.8 610.1l-0.9 -2.4M148 606.7l0.9 -2.5M154.3 605.9l-0.4 -2.3M157.5 602.2l-0.5 -1.5M173.6 600.9l1.7 1.2M177.8 600.4l0.9 1.8M178.7 600.2l1.6 0.3" fill="none" stroke="#8997bd" stroke-width="5.2" stroke-linecap="round"/><path d="M111.2 627.4l2.6 1.2M112.6 615.5l0.8 -1.8M121.3 615.9l-1 -3M125.3 616.4l-0.8 -2.1M136.3 615.7l1.7 0.2M147.1 616.3l2.2 1.8M152.1 613.6l2.9 0.5M162.3 609.7l1.1 1.1M160.6 603.1l-0.4 -1.6M166.3 608l1.9 0.2M169.1 598l1.7 -1.4M172 600l0.8 -2.2M175.3 599.7l0.8 -1.5" fill="none" stroke="#55628b" stroke-width="5.2" stroke-linecap="round"/><path d="M105.2 628.7l3 1.7M104.9 621.7l0.6 -3.1M112.3 626.6l2.1 -0.1M129 617.3l-0.4 -2.7M140.2 612.3l0.6 -2.9M143.2 608.4l0.9 -1.6M156.2 606.2l1 -1.7" fill="none" stroke="#9ba7c9" stroke-width="5.2" stroke-linecap="round"/><path d="M114.1 622.6l0.7 -3.1M144.6 606l-0.2 -2.3M164.5 606.3l1.6 2.1M180.3 597.6l0.1 -2.4" fill="none" stroke="#6e7ca6" stroke-width="5.2" stroke-linecap="round"/><path d="M105.7 619.6l-0.7 -2.3M109.1 617.3l1 -3.1M122.9 625.9l1 2.2M124.5 617.7l0.7 -1.7M134.9 622.7l0.9 1.5M136.8 621.9l1.7 0.3M168.8 606l1.1 1.6" fill="none" stroke="#46527a" stroke-width="5.2" stroke-linecap="round"/>
<path d="M104 643L120 646.5L138 650L158 654L178 657.5L198 661" fill="none" stroke="#6f9a62" stroke-width="0.9"/><path d="M104.2 645.9l2.2 2M120 648.1l1.4 2.2M124.1 645.1l2.4 -1.5M130.1 649.2l0.4 2M154.8 656.1l1.9 2.2M159.2 656.7l0.2 2.8M162.9 655.2l1.4 2.2M167.6 656.6l0.9 1.3" fill="none" stroke="#66759f" stroke-width="5.2" stroke-linecap="round"/><path d="M110.4 641.6l1.8 -1.3M111.3 651.9l0.6 3.1M157.8 659.7l1.3 2M170.1 658l1.1 2M174.7 656.5l0.7 -2.5M179.1 657.4l2.1 -0.8M191.1 662.3l0.7 2.2M197.1 660l1.7 -0.7" fill="none" stroke="#7483ad" stroke-width="5.2" stroke-linecap="round"/><path d="M123.7 640.5l1.9 -0.8M134.8 656l-0.2 2M136.6 653.6l0.6 1.9M141.3 656.6l0.6 2.9M150.9 654.9l2 1.7M177.5 657.6l-0.1 1.6M187.3 657.6l1.2 -1.6" fill="none" stroke="#8997bd" stroke-width="5.2" stroke-linecap="round"/><path d="M108.3 645l2.2 2M112.8 653.3l2.5 2.1M145.8 654l0.3 2.3M175.6 655.7l0.7 -1.7M180.9 660.6l0.2 1.5M187.9 659l0.8 -2.2" fill="none" stroke="#55628b" stroke-width="5.2" stroke-linecap="round"/><path d="M119.2 647.2l2 1.6M128.8 640.9l2 -2.3M127.8 650.7l1.3 1.3M132.5 648.9l2.3 -1.2M139.5 654.5l0.1 1.9M140.2 652.1l-0.6 3M147 656.7l-0.3 2M150.4 651.8l2.4 -1.2M154 649.9l2.2 -0.4M156.6 654.8l0.2 2.8M188.9 661.9l-0.2 1.7" fill="none" stroke="#9ba7c9" stroke-width="5.2" stroke-linecap="round"/><path d="M117.7 646.7l1 3M145.8 647.9l1.7 -1.7M164.9 651.7l1.7 -0.8M165.5 656.7l0.7 1.6M170.2 652.3l0.9 -1.4M171.9 656.3l0.8 -1.9M182.8 660.7l0.4 1.9" fill="none" stroke="#6e7ca6" stroke-width="5.2" stroke-linecap="round"/><path d="M107.5 643.5l2 -2.1M110.4 647.7l1.2 2.1M125.7 645l1.8 -1.5M135.1 645.1l1.5 -1.5M184.7 655.2l1.1 -1.8M192.8 661.2l0.7 2.2M195.3 659.9l1.2 -1.8" fill="none" stroke="#46527a" stroke-width="5.2" stroke-linecap="round"/>
<path d="M105 626Q99 635 105 644" fill="none" stroke="#6f9a62" stroke-width="1"/>
</g>
<g id="oval21">
<path d="M399.5 332.2C401.4 334.3 403.2 336.8 404.2 338.9C405.2 340.9 405.6 342.6 405.6 344.4C405.7 346.2 405.4 348 404.7 349.8C404.1 351.6 403 353.5 401.7 355.3C400.3 357.1 398.5 358.9 396.5 360.7C394.4 362.5 392 364.3 389.2 366.1C386.4 367.9 383.3 369.7 379.9 371.4C376.4 373.2 372.6 375 368.4 376.8C364.1 378.6 360 380.2 354.3 382.2C348.7 384.2 341.1 386.6 334.4 388.7C327.7 390.8 319.9 393.1 313.9 394.7C307.9 396.3 303.3 397.3 298.4 398.4C293.5 399.4 288.9 400.2 284.5 400.9C280 401.5 275.8 402 271.7 402.3C267.6 402.6 263.8 402.8 260.1 402.7C256.4 402.7 252.9 402.5 249.6 402.2C246.3 401.8 243.3 401.3 240.4 400.5C237.5 399.8 234.9 398.9 232.4 397.9C230 396.8 227.8 395.6 225.6 394C223.4 392.3 221 390 219.1 387.8C217.2 385.7 215.4 383.2 214.4 381.1C213.4 379.1 213 377.4 213 375.6C212.9 373.8 213.2 372 213.9 370.2C214.5 368.4 215.6 366.5 216.9 364.7C218.3 362.9 220.1 361.1 222.1 359.3C224.2 357.5 226.6 355.7 229.4 353.9C232.2 352.1 235.3 350.3 238.7 348.6C242.2 346.8 246 345 250.2 343.2C254.5 341.4 258.6 339.8 264.3 337.8C269.9 335.8 277.5 333.4 284.2 331.3C290.9 329.2 298.7 326.9 304.7 325.3C310.7 323.7 315.3 322.7 320.2 321.6C325.1 320.6 329.7 319.8 334.1 319.1C338.6 318.5 342.8 318 346.9 317.7C351 317.4 354.8 317.2 358.5 317.3C362.2 317.3 365.7 317.5 369 317.8C372.3 318.2 375.3 318.7 378.2 319.5C381.1 320.2 383.7 321.1 386.2 322.1C388.6 323.2 390.8 324.4 393 326C395.2 327.7 397.6 330 399.5 332.2Z" fill="#b9b9c3" filter="url(#b1)"/>
<clipPath id="c3"><path d="M399.4 329.4C401.3 331.6 403.2 334.2 404.2 336.2C405.3 338.3 405.6 340 405.7 341.9C405.8 343.7 405.5 345.6 404.8 347.4C404.2 349.2 403.1 351.1 401.8 352.9C400.4 354.7 398.6 356.6 396.5 358.4C394.5 360.2 392 362.1 389.2 363.9C386.4 365.7 383.3 367.5 379.8 369.3C376.3 371.1 372.5 372.9 368.2 374.7C363.9 376.6 359.8 378.2 354.1 380.2C348.3 382.2 340.7 384.7 333.9 386.8C327.1 388.9 319.3 391.2 313.2 392.8C307.2 394.4 302.5 395.5 297.5 396.5C292.6 397.6 287.9 398.4 283.4 399.1C278.9 399.7 274.6 400.2 270.5 400.5C266.4 400.8 262.5 400.9 258.8 400.9C255 400.9 251.5 400.7 248.2 400.3C244.9 399.9 241.7 399.3 238.8 398.6C235.9 397.9 233.2 397 230.7 395.9C228.2 394.7 226.1 393.6 223.8 391.9C221.6 390.2 219.1 387.8 217.2 385.6C215.3 383.4 213.4 380.8 212.4 378.8C211.3 376.7 211 375 210.9 373.1C210.8 371.3 211.1 369.4 211.8 367.6C212.4 365.8 213.5 363.9 214.8 362.1C216.2 360.3 218 358.4 220.1 356.6C222.1 354.8 224.6 352.9 227.4 351.1C230.2 349.3 233.3 347.5 236.8 345.7C240.3 343.9 244.1 342.1 248.4 340.3C252.7 338.4 256.8 336.8 262.5 334.8C268.3 332.8 275.9 330.3 282.7 328.2C289.5 326.1 297.3 323.8 303.4 322.2C309.4 320.6 314.1 319.5 319.1 318.5C324 317.4 328.7 316.6 333.2 315.9C337.7 315.3 342 314.8 346.1 314.5C350.2 314.2 354.1 314.1 357.8 314.1C361.6 314.1 365.1 314.3 368.4 314.7C371.7 315.1 374.9 315.7 377.8 316.4C380.7 317.1 383.4 318 385.9 319.1C388.4 320.3 390.5 321.4 392.8 323.1C395 324.8 397.5 327.2 399.4 329.4Z"/></clipPath>
<path d="M399.4 329.4C401.3 331.6 403.2 334.2 404.2 336.2C405.3 338.3 405.6 340 405.7 341.9C405.8 343.7 405.5 345.6 404.8 347.4C404.2 349.2 403.1 351.1 401.8 352.9C400.4 354.7 398.6 356.6 396.5 358.4C394.5 360.2 392 362.1 389.2 363.9C386.4 365.7 383.3 367.5 379.8 369.3C376.3 371.1 372.5 372.9 368.2 374.7C363.9 376.6 359.8 378.2 354.1 380.2C348.3 382.2 340.7 384.7 333.9 386.8C327.1 388.9 319.3 391.2 313.2 392.8C307.2 394.4 302.5 395.5 297.5 396.5C292.6 397.6 287.9 398.4 283.4 399.1C278.9 399.7 274.6 400.2 270.5 400.5C266.4 400.8 262.5 400.9 258.8 400.9C255 400.9 251.5 400.7 248.2 400.3C244.9 399.9 241.7 399.3 238.8 398.6C235.9 397.9 233.2 397 230.7 395.9C228.2 394.7 226.1 393.6 223.8 391.9C221.6 390.2 219.1 387.8 217.2 385.6C215.3 383.4 213.4 380.8 212.4 378.8C211.3 376.7 211 375 210.9 373.1C210.8 371.3 211.1 369.4 211.8 367.6C212.4 365.8 213.5 363.9 214.8 362.1C216.2 360.3 218 358.4 220.1 356.6C222.1 354.8 224.6 352.9 227.4 351.1C230.2 349.3 233.3 347.5 236.8 345.7C240.3 343.9 244.1 342.1 248.4 340.3C252.7 338.4 256.8 336.8 262.5 334.8C268.3 332.8 275.9 330.3 282.7 328.2C289.5 326.1 297.3 323.8 303.4 322.2C309.4 320.6 314.1 319.5 319.1 318.5C324 317.4 328.7 316.6 333.2 315.9C337.7 315.3 342 314.8 346.1 314.5C350.2 314.2 354.1 314.1 357.8 314.1C361.6 314.1 365.1 314.3 368.4 314.7C371.7 315.1 374.9 315.7 377.8 316.4C380.7 317.1 383.4 318 385.9 319.1C388.4 320.3 390.5 321.4 392.8 323.1C395 324.8 397.5 327.2 399.4 329.4Z" fill="#e6e6eb" stroke="#d6d6de" stroke-width="0.7"/>
<g clip-path="url(#c3)"><path d="M398.8 325.3C400.7 327.5 402.6 330.1 403.6 332.2C404.7 334.2 405 335.9 405.1 337.8C405.2 339.7 404.9 341.5 404.2 343.3C403.5 345.2 402.4 347 401 348.9C399.6 350.7 397.9 352.6 395.7 354.4C393.6 356.2 391.1 358.1 388.3 359.9C385.5 361.7 382.3 363.6 378.8 365.4C375.3 367.2 371.4 369 367.1 370.8C362.7 372.7 358.5 374.3 352.8 376.4C347 378.4 339.3 380.9 332.4 383C325.5 385.1 317.7 387.4 311.5 389.1C305.4 390.7 300.7 391.8 295.7 392.8C290.7 393.9 286 394.7 281.5 395.4C276.9 396.1 272.6 396.6 268.4 396.9C264.3 397.2 260.3 397.3 256.6 397.3C252.8 397.3 249.3 397.1 245.9 396.7C242.6 396.3 239.4 395.8 236.5 395.1C233.6 394.3 230.9 393.4 228.4 392.3C225.9 391.2 223.7 390.1 221.4 388.4C219.2 386.7 216.7 384.3 214.8 382.1C212.9 379.9 211 377.3 210 375.2C208.9 373.2 208.6 371.5 208.5 369.6C208.4 367.7 208.7 365.9 209.4 364.1C210.1 362.2 211.2 360.4 212.6 358.5C214 356.7 215.7 354.8 217.9 353C220 351.2 222.5 349.3 225.3 347.5C228.1 345.7 231.3 343.8 234.8 342C238.3 340.2 242.2 338.4 246.5 336.6C250.9 334.7 255.1 333.1 260.8 331C266.6 329 274.3 326.5 281.2 324.4C288.1 322.3 295.9 320 302.1 318.3C308.2 316.7 312.9 315.6 317.9 314.6C322.9 313.5 327.6 312.7 332.1 312C336.7 311.3 341 310.8 345.2 310.5C349.3 310.2 353.3 310.1 357 310.1C360.8 310.1 364.3 310.3 367.7 310.7C371 311.1 374.2 311.6 377.1 312.3C380 313.1 382.7 314 385.2 315.1C387.7 316.2 389.9 317.3 392.2 319C394.4 320.7 396.9 323.1 398.8 325.3Z" fill="#fcfcfd" filter="url(#b1)"/></g>
<path d="M395 330.1C396.7 332 398.4 334.4 399.3 336.2C400.2 338.1 400.5 339.7 400.5 341.4C400.5 343.1 400.1 344.7 399.5 346.4C398.8 348.1 397.7 349.8 396.3 351.5C395 353.2 393.2 354.9 391.2 356.5C389.2 358.2 386.8 359.9 384.1 361.6C381.4 363.3 378.4 365 375 366.7C371.6 368.4 368 370.1 363.9 371.8C359.8 373.5 355.8 375.1 350.3 377C344.8 378.9 337.5 381.3 331 383.3C324.5 385.3 317.1 387.5 311.3 389C305.5 390.6 301.1 391.6 296.4 392.6C291.7 393.7 287.2 394.5 283 395.1C278.7 395.8 274.6 396.3 270.7 396.6C266.9 396.9 263.1 397.1 259.6 397.1C256.1 397.1 252.8 397 249.7 396.7C246.6 396.4 243.6 395.9 240.9 395.3C238.2 394.7 235.7 393.9 233.4 392.9C231.1 391.9 229.1 390.9 227 389.4C225 387.8 222.7 385.7 221 383.7C219.3 381.8 217.6 379.4 216.7 377.6C215.8 375.7 215.5 374.1 215.5 372.4C215.5 370.7 215.9 369.1 216.5 367.4C217.2 365.7 218.3 364 219.7 362.3C221 360.6 222.8 358.9 224.8 357.3C226.8 355.6 229.2 353.9 231.9 352.2C234.6 350.5 237.6 348.8 241 347.1C244.4 345.4 248 343.7 252.1 342C256.2 340.3 260.2 338.7 265.7 336.8C271.2 334.9 278.5 332.5 285 330.5C291.5 328.5 298.9 326.3 304.7 324.8C310.5 323.2 314.9 322.2 319.6 321.2C324.3 320.1 328.8 319.3 333 318.7C337.3 318 341.4 317.5 345.3 317.2C349.1 316.9 352.9 316.7 356.4 316.7C359.9 316.7 363.2 316.8 366.3 317.1C369.4 317.4 372.4 317.9 375.1 318.5C377.8 319.1 380.3 319.9 382.6 320.9C384.9 321.9 386.9 322.9 389 324.4C391 326 393.3 328.1 395 330.1Z" fill="#e6e7ec" stroke="#dcdce4" stroke-width="0.8"/>
<path d="M394.8 331.1C396.4 332.9 397.9 335.1 398.7 336.8C399.5 338.6 399.7 340 399.7 341.6C399.6 343.1 399.2 344.7 398.5 346.3C397.8 347.9 396.7 349.4 395.4 351C394 352.6 392.3 354.2 390.3 355.8C388.3 357.4 385.9 359.1 383.3 360.7C380.7 362.3 377.7 363.9 374.4 365.5C371.1 367.1 367.6 368.7 363.6 370.4C359.6 372 355.7 373.5 350.4 375.4C345.1 377.2 338 379.5 331.7 381.4C325.5 383.4 318.2 385.5 312.7 387C307.1 388.5 302.8 389.5 298.2 390.5C293.7 391.5 289.4 392.3 285.3 393C281.2 393.7 277.3 394.2 273.5 394.5C269.8 394.9 266.2 395.1 262.8 395.1C259.5 395.2 256.3 395.1 253.3 394.9C250.3 394.6 247.5 394.2 245 393.6C242.4 393.1 240 392.4 237.8 391.5C235.6 390.6 233.8 389.7 231.8 388.3C229.9 386.9 227.8 384.9 226.2 383.1C224.6 381.3 223.1 379.1 222.3 377.4C221.5 375.6 221.3 374.2 221.3 372.6C221.4 371.1 221.8 369.5 222.5 367.9C223.2 366.3 224.3 364.8 225.6 363.2C227 361.6 228.7 360 230.7 358.4C232.7 356.8 235.1 355.1 237.7 353.5C240.3 351.9 243.3 350.3 246.6 348.7C249.9 347.1 253.4 345.5 257.4 343.8C261.4 342.2 265.3 340.7 270.6 338.8C275.9 337 283 334.7 289.3 332.8C295.5 330.8 302.8 328.7 308.3 327.2C313.9 325.7 318.2 324.7 322.8 323.7C327.3 322.7 331.6 321.9 335.7 321.2C339.8 320.5 343.7 320 347.5 319.7C351.2 319.3 354.8 319.1 358.2 319.1C361.5 319 364.7 319.1 367.7 319.3C370.7 319.6 373.5 320 376 320.6C378.6 321.1 381 321.8 383.2 322.7C385.4 323.6 387.2 324.5 389.2 325.9C391.1 327.3 393.2 329.3 394.8 331.1Z" fill="#fefefe" filter="url(#b1)"/>
<g transform="translate(309.5 359.7) rotate(-12.56)">
<path d="M82.8 0C82.8 1.2 82.4 2.5 81.6 3.7C80.8 4.9 79.5 6.1 77.9 7.2C76.3 8.4 74.3 9.5 72 10.5C69.6 11.5 66.9 12.5 63.8 13.4C60.8 14.3 57.4 15.1 53.8 15.9C50.2 16.6 46.2 17.3 42.1 17.9C38 18.5 33.6 19 29.1 19.4C24.6 19.8 19.9 20.1 15 20.3C10.2 20.5 5 20.6 0 20.6C-5 20.6 -10.2 20.5 -15 20.3C-19.9 20.1 -24.6 19.8 -29.1 19.4C-33.6 19 -38 18.5 -42.1 17.9C-46.2 17.3 -50.2 16.6 -53.8 15.9C-57.4 15.1 -60.8 14.3 -63.8 13.4C-66.9 12.5 -69.6 11.5 -72 10.5C-74.3 9.5 -76.3 8.4 -77.9 7.2C-79.5 6.1 -80.8 4.9 -81.6 3.7C-82.4 2.5 -82.8 1.2 -82.8 0C-82.8 -1.2 -82.4 -2.5 -81.6 -3.7C-80.8 -4.9 -79.5 -6.1 -77.9 -7.2C-76.3 -8.4 -74.3 -9.5 -72 -10.5C-69.6 -11.5 -66.9 -12.5 -63.8 -13.4C-60.8 -14.3 -57.4 -15.1 -53.8 -15.9C-50.2 -16.6 -46.2 -17.3 -42.1 -17.9C-38 -18.5 -33.6 -19 -29.1 -19.4C-24.6 -19.8 -19.9 -20.1 -15 -20.3C-10.2 -20.5 -5 -20.6 0 -20.6C5 -20.6 10.2 -20.5 15 -20.3C19.9 -20.1 24.6 -19.8 29.1 -19.4C33.6 -19 38 -18.5 42.1 -17.9C46.2 -17.3 50.2 -16.6 53.8 -15.9C57.4 -15.1 60.8 -14.3 63.8 -13.4C66.9 -12.5 69.6 -11.5 72 -10.5C74.3 -9.5 76.3 -8.4 77.9 -7.2C79.5 -6.1 80.8 -4.9 81.6 -3.7C82.4 -2.5 82.8 -1.2 82.8 0Z" fill="#fefefe" stroke="#3f434a" stroke-width="0.8"/>
<clipPath id="c4"><path d="M73 5.6A6 6 0 0 1 61.6 9.5A6.1 6.1 0 0 1 49.7 11.6A6.1 6.1 0 0 1 37.6 13A6.1 6.1 0 0 1 25.5 13.8A6.1 6.1 0 0 1 13.4 14.3A6.1 6.1 0 0 1 1.3 14.4A6.1 6.1 0 0 1 -10.9 14.3A6.1 6.1 0 0 1 -23 13.8A6.1 6.1 0 0 1 -35.1 13A6.1 6.1 0 0 1 -47.1 11.6A6.1 6.1 0 0 1 -59 9.5A6 6 0 0 1 -70.5 5.6A4.4 4.4 0 0 1 -70.5 -3.2A6 6 0 0 1 -59 -7.1A6.1 6.1 0 0 1 -47.1 -9.2A6.1 6.1 0 0 1 -35.1 -10.6A6.1 6.1 0 0 1 -23 -11.4A6.1 6.1 0 0 1 -10.9 -11.9A6.1 6.1 0 0 1 1.3 -12A6.1 6.1 0 0 1 13.4 -11.9A6.1 6.1 0 0 1 25.5 -11.4A6.1 6.1 0 0 1 37.6 -10.6A6.1 6.1 0 0 1 49.7 -9.2A6.1 6.1 0 0 1 61.6 -7.1A6 6 0 0 1 73 -3.2A4.4 4.4 0 0 1 73 5.6Z"/></clipPath><path d="M73 5.6A6 6 0 0 1 61.6 9.5A6.1 6.1 0 0 1 49.7 11.6A6.1 6.1 0 0 1 37.6 13A6.1 6.1 0 0 1 25.5 13.8A6.1 6.1 0 0 1 13.4 14.3A6.1 6.1 0 0 1 1.3 14.4A6.1 6.1 0 0 1 -10.9 14.3A6.1 6.1 0 0 1 -23 13.8A6.1 6.1 0 0 1 -35.1 13A6.1 6.1 0 0 1 -47.1 11.6A6.1 6.1 0 0 1 -59 9.5A6 6 0 0 1 -70.5 5.6A4.4 4.4 0 0 1 -70.5 -3.2A6 6 0 0 1 -59 -7.1A6.1 6.1 0 0 1 -47.1 -9.2A6.1 6.1 0 0 1 -35.1 -10.6A6.1 6.1 0 0 1 -23 -11.4A6.1 6.1 0 0 1 -10.9 -11.9A6.1 6.1 0 0 1 1.3 -12A6.1 6.1 0 0 1 13.4 -11.9A6.1 6.1 0 0 1 25.5 -11.4A6.1 6.1 0 0 1 37.6 -10.6A6.1 6.1 0 0 1 49.7 -9.2A6.1 6.1 0 0 1 61.6 -7.1A6 6 0 0 1 73 -3.2A4.4 4.4 0 0 1 73 5.6Z" fill="#fdf7f7"/>
<g clip-path="url(#c4)"><path d="M61.3 1.2L87.3 1.2M56.9 4L84.8 9.4M51.4 5.1L78.1 14.9M45.9 5.7L70.2 18.5M40.3 6.2L61.9 21M34.7 6.5L53.3 22.8M29.2 6.8L44.7 24M23.6 7L36.1 25M18 7.1L27.4 25.6M12.4 7.2L18.7 26M6.8 7.2L10 26.2M1.3 7.2L1.3 26.2M-4.3 7.2L-7.4 26.2M-9.9 7.2L-16.1 26M-15.5 7.1L-24.8 25.6M-21 7L-33.5 25M-26.6 6.8L-42.2 24M-32.2 6.5L-50.8 22.8M-37.8 6.2L-59.3 21M-43.3 5.7L-67.7 18.5M-48.9 5.1L-75.6 14.9M-54.3 4L-82.2 9.4M-58.7 1.2L-84.7 1.2M-54.3 -1.6L-82.2 -7M-48.9 -2.7L-75.6 -12.5M-43.3 -3.3L-67.7 -16.1M-37.8 -3.8L-59.3 -18.5M-32.2 -4.1L-50.8 -20.3M-26.6 -4.4L-42.2 -21.6M-21 -4.6L-33.5 -22.6M-15.5 -4.7L-24.8 -23.2M-9.9 -4.7L-16.1 -23.6M-4.3 -4.8L-7.4 -23.7M1.3 -4.8L1.3 -23.8M6.8 -4.8L10 -23.7M12.4 -4.7L18.7 -23.6M18 -4.7L27.4 -23.2M23.6 -4.6L36.1 -22.6M29.2 -4.4L44.7 -21.6M34.7 -4.1L53.3 -20.3M40.3 -3.8L61.9 -18.5M45.9 -3.3L70.2 -16.1M51.4 -2.7L78.1 -12.5M56.9 -1.6L84.8 -7" stroke="#f6cdd3" stroke-width="3.4" fill="none"/></g>
<path d="M73 5.6A6 6 0 0 1 61.6 9.5A6.1 6.1 0 0 1 49.7 11.6A6.1 6.1 0 0 1 37.6 13A6.1 6.1 0 0 1 25.5 13.8A6.1 6.1 0 0 1 13.4 14.3A6.1 6.1 0 0 1 1.3 14.4A6.1 6.1 0 0 1 -10.9 14.3A6.1 6.1 0 0 1 -23 13.8A6.1 6.1 0 0 1 -35.1 13A6.1 6.1 0 0 1 -47.1 11.6A6.1 6.1 0 0 1 -59 9.5A6 6 0 0 1 -70.5 5.6A4.4 4.4 0 0 1 -70.5 -3.2A6 6 0 0 1 -59 -7.1A6.1 6.1 0 0 1 -47.1 -9.2A6.1 6.1 0 0 1 -35.1 -10.6A6.1 6.1 0 0 1 -23 -11.4A6.1 6.1 0 0 1 -10.9 -11.9A6.1 6.1 0 0 1 1.3 -12A6.1 6.1 0 0 1 13.4 -11.9A6.1 6.1 0 0 1 25.5 -11.4A6.1 6.1 0 0 1 37.6 -10.6A6.1 6.1 0 0 1 49.7 -9.2A6.1 6.1 0 0 1 61.6 -7.1A6 6 0 0 1 73 -3.2A4.4 4.4 0 0 1 73 5.6Z" fill="none" stroke="#ecaab4" stroke-width="0.7"/>
<path d="M68.6 1.5C68.6 2.2 68.3 3 67.7 3.6C67.1 4.3 66.1 4.9 64.9 5.5C63.7 6 62.2 6.6 60.4 7.1C58.6 7.6 56.5 8.1 54.2 8.5C51.9 9 49.3 9.4 46.5 9.7C43.7 10.1 40.6 10.4 37.3 10.7C34.1 11 30.6 11.2 26.9 11.4C23.3 11.6 19.5 11.8 15.3 11.9C11.1 12 6.3 12 1.7 12C-2.8 12 -7.7 12 -11.9 11.9C-16.1 11.8 -19.8 11.6 -23.5 11.4C-27.2 11.2 -30.7 11 -33.9 10.7C-37.2 10.4 -40.2 10.1 -43.1 9.7C-45.9 9.4 -48.5 9 -50.8 8.5C-53.1 8.1 -55.2 7.6 -57 7.1C-58.8 6.6 -60.3 6 -61.5 5.5C-62.7 4.9 -63.6 4.3 -64.3 3.6C-64.9 3 -65.2 2.2 -65.2 1.5C-65.2 0.8 -64.9 0 -64.3 -0.6C-63.6 -1.3 -62.7 -1.9 -61.5 -2.5C-60.3 -3 -58.8 -3.6 -57 -4.1C-55.2 -4.6 -53.1 -5.1 -50.8 -5.5C-48.5 -6 -45.9 -6.4 -43.1 -6.7C-40.2 -7.1 -37.2 -7.4 -33.9 -7.7C-30.7 -8 -27.2 -8.2 -23.5 -8.4C-19.8 -8.6 -16.1 -8.8 -11.9 -8.8C-7.7 -8.9 -2.8 -9 1.7 -9C6.3 -9 11.1 -8.9 15.3 -8.8C19.5 -8.8 23.3 -8.6 26.9 -8.4C30.6 -8.2 34.1 -8 37.3 -7.7C40.6 -7.4 43.7 -7.1 46.5 -6.7C49.3 -6.4 51.9 -6 54.2 -5.5C56.5 -5.1 58.6 -4.6 60.4 -4.1C62.2 -3.6 63.7 -3 64.9 -2.5C66.1 -1.9 67.1 -1.3 67.7 -0.6C68.3 0 68.6 0.8 68.6 1.5Z" fill="#fefefd" stroke="#93c9b3" stroke-width="1.3"/>
<path d="M62.7 1.5C62.7 2 62.4 2.4 61.9 2.9C61.3 3.3 60.5 3.6 59.4 4C58.3 4.4 56.9 4.7 55.2 5C53.6 5.3 51.7 5.6 49.6 5.9C47.5 6.2 45.1 6.5 42.5 6.7C40 6.9 37.2 7.1 34.2 7.3C31.2 7.5 28.1 7.6 24.7 7.7C21.4 7.9 18 8 14.1 8C10.3 8.1 5.9 8.1 1.7 8.1C-2.4 8.1 -6.9 8.1 -10.7 8C-14.5 8 -17.9 7.9 -21.3 7.7C-24.6 7.6 -27.8 7.5 -30.8 7.3C-33.7 7.1 -36.5 6.9 -39.1 6.7C-41.7 6.5 -44 6.2 -46.2 5.9C-48.3 5.6 -50.2 5.3 -51.8 5C-53.4 4.7 -54.8 4.4 -55.9 4C-57 3.6 -57.9 3.3 -58.4 2.9C-59 2.4 -59.3 2 -59.3 1.5C-59.3 1.1 -59 0.6 -58.4 0.2C-57.9 -0.2 -57 -0.6 -55.9 -1C-54.8 -1.3 -53.4 -1.7 -51.8 -2C-50.2 -2.3 -48.3 -2.6 -46.2 -2.9C-44 -3.2 -41.7 -3.4 -39.1 -3.7C-36.5 -3.9 -33.7 -4.1 -30.8 -4.3C-27.8 -4.5 -24.6 -4.6 -21.3 -4.7C-17.9 -4.8 -14.5 -4.9 -10.7 -5C-6.9 -5.1 -2.4 -5.1 1.7 -5.1C5.9 -5.1 10.3 -5.1 14.1 -5C18 -4.9 21.4 -4.8 24.7 -4.7C28.1 -4.6 31.2 -4.5 34.2 -4.3C37.2 -4.1 40 -3.9 42.5 -3.7C45.1 -3.4 47.5 -3.2 49.6 -2.9C51.7 -2.6 53.6 -2.3 55.2 -2C56.9 -1.7 58.3 -1.3 59.4 -1C60.5 -0.6 61.3 -0.2 61.9 0.2C62.4 0.6 62.7 1.1 62.7 1.5Z" fill="none" stroke="#d6c45c" stroke-width="1.5" stroke-linecap="round" stroke-dasharray="0 5.6"/>
<path d="M54 -10.2L38.4 -9.1L22.8 -7.9L7.2 -6.8L-8.5 -5.7" fill="none" stroke="#6f9a62" stroke-width="0.9"/><path d="M51.5 -5.8l-1.1 1.4M47.6 -11.7l-1.2 -2M46.3 -11.7l-0.4 -1.4M27.1 -7.7l-1.4 1.2M-6.2 -3.5l-1.6 1.8" fill="none" stroke="#5f6b8c" stroke-width="2.7" stroke-linecap="round"/><path d="M53.7 -11.8l-1.4 -1.6M44.7 -10l-1.1 -1.4M43.2 -9.2l0 2.3M34.5 -9.3l-1.8 -1M30.9 -10.1l-0.4 -2.1M28.5 -7.3l-1.4 0.9M25 -7.2l-1.6 1.8M15.9 -9l-0.7 -2.1M12.2 -5.7l-0.4 1.9M-2.8 -6.2l-1.3 -1.3" fill="none" stroke="#6f7b9c" stroke-width="2.7" stroke-linecap="round"/><path d="M46.5 -10l-1 -1.9M33 -11.5l-0.6 -1.6M29.5 -12.5l-1.3 -2.1M19.3 -10.6l-1 -1.4M13.3 -3.6l-0.4 1.5M7.4 -8.6l-0.7 -1.5M5.7 -4.6l-1.1 1.1M3.3 -6.6l-0.2 -2.2" fill="none" stroke="#8791b0" stroke-width="2.7" stroke-linecap="round"/><path d="M49.9 -12l-1.1 -2.2M39.4 -6.6l-2.1 1.3M38.4 -12.9l-1.5 -1.2M37.6 -5l-1.1 1M32.7 -5.9l-0.3 2.4M25.7 -4.4l-0.5 1.6M21.3 -4.9l-1.4 1.2M15.4 -4l0.1 1.5M0.2 -10.3l-1.4 -1.1M-5.9 -7.7l-1.6 -1" fill="none" stroke="#4d5878" stroke-width="2.7" stroke-linecap="round"/><path d="M51.5 -9.8l-0.4 2.5M40.1 -13.3l-0.8 -1.2M36.8 -5.3l-1.1 1.7M17.7 -8.4l-0.5 -2.1M7.9 -5.9l-1 2.2M4.1 -9.1l-1.1 -1.6M2.3 -7.5l-2 -1.1M-3.6 -7.4l-1.2 -0.8" fill="none" stroke="#98a1be" stroke-width="2.7" stroke-linecap="round"/><path d="M22.6 -10l-1.6 -1.1M18.7 -9.5l-1.7 -0.8M-2.2 -6.2l-1.1 -2.2" fill="none" stroke="#687494" stroke-width="2.7" stroke-linecap="round"/><path d="M42.2 -13.3l-0.9 -2.2M22 -9.8l-1.2 -0.7M11.1 -10.1l-0.6 -1.5M10.1 -8.8l-0.8 -2.2M0.4 -2.7l-1.2 0.9M-7.8 -5.7l-1.9 1.2" fill="none" stroke="#7fa07c" stroke-width="2.7" stroke-linecap="round"/>
<path d="M72.8 2.2L59 4.2L44.2 6.1L29.4 8.4L14.6 10.2" fill="none" stroke="#6f9a62" stroke-width="0.9"/><path d="M70.4 0.5l-0.9 -2.2M67.8 -0.7l-2.1 -0.6M65.8 1.3l-0.5 -2.5M51.1 3.9l-1.3 -0.7M37.5 9.2l0 2.4M20.8 8.6l-0.8 -1.8M20.5 9.4l-0.8 -1.2" fill="none" stroke="#5f6b8c" stroke-width="2.7" stroke-linecap="round"/><path d="M72.1 5.3l-1.2 0.7M56.7 5.1l-1.6 1M55.3 5.5l-1.2 0.8M46.9 3.1l-1.6 -0.6M43.9 4.4l-1.5 -0.4M40.2 8.9l-1.3 1.9M31.2 5.2l-1.1 -1.2M28.7 9.6l-1.1 2.1M24.4 11.9l-0.5 1.4M16.5 8.5l-2.2 -0.7M14.7 8.9l-1.5 -0.9" fill="none" stroke="#6f7b9c" stroke-width="2.7" stroke-linecap="round"/><path d="M64.5 2.5l-0.3 -1.6M62.8 0.5l-1.7 -1.8M35.2 6.9l-0.3 -1.6M23 9l-2.1 -1.1M19.8 13.2l-0.8 1.4M17.3 10.6l-1.5 1.5" fill="none" stroke="#8791b0" stroke-width="2.7" stroke-linecap="round"/><path d="M60.9 4.6l-0.3 1.6M59.7 0.5l-1 -1.2M59 5.9l-1.1 1.8M56.9 1.1l-1.8 -0.6M49.5 1.8l-0.6 -1.8M35.2 7.5l0.2 2.1M27.6 8.4l-0.7 -1.7M25.6 6.2l-2.2 -1.1" fill="none" stroke="#4d5878" stroke-width="2.7" stroke-linecap="round"/><path d="M69.5 -1.2l-1 -1.4M67.5 4.6l-1.2 1M61.9 2.4l-1.5 -0.4M43 10.3l-1.2 1.9M29.8 7.1l-0.6 -1.5M24.7 5.8l-0.7 -1.3" fill="none" stroke="#98a1be" stroke-width="2.7" stroke-linecap="round"/><path d="M54.7 5.8l-1.3 0.9M53.6 8.8l-1.5 1.3M45.4 4.8l-1.6 -0.7M38.6 7l-1.3 1.3M31.5 10.1l-1.6 1.9" fill="none" stroke="#687494" stroke-width="2.7" stroke-linecap="round"/><path d="M49.3 8.5l-1.1 1.3M47.7 3.7l-1.7 -1.3M43.8 9.4l-0.3 1.6M41.2 7.9l-1.8 1.2M33.5 9.6l-0.2 2.3" fill="none" stroke="#7fa07c" stroke-width="2.7" stroke-linecap="round"/>
</g></g>
<g id="oval29">
<path d="M307.5 706.2C311.1 709 315.1 712.5 317.4 714.9C319.7 717.3 320.3 718.7 321.1 720.5C321.9 722.2 322.1 723.9 322 725.6C321.9 727.3 321.4 728.9 320.5 730.6C319.6 732.2 318.3 733.8 316.6 735.5C314.9 737.1 312.9 738.8 310.4 740.4C307.9 742.1 305.1 743.8 301.7 745.5C298.4 747.2 294.7 748.9 290.2 750.7C285.8 752.5 282.1 754 274.9 756.5C267.7 758.9 256.4 762.6 247 765.5C237.5 768.4 226 771.9 218.4 774.1C210.8 776.2 206.5 777.2 201.3 778.4C196 779.6 191.3 780.5 186.7 781.3C182.2 782 177.9 782.6 173.8 782.9C169.7 783.3 165.8 783.5 162.1 783.6C158.4 783.6 154.9 783.5 151.5 783.2C148.1 782.8 144.9 782.4 141.8 781.7C138.7 781 135.8 780.2 132.9 779.1C130 777.9 127.7 777 124.4 775C121 772.9 116.4 769.6 112.9 766.8C109.3 764 105.3 760.5 103 758.1C100.7 755.7 100.1 754.3 99.3 752.5C98.5 750.8 98.3 749.1 98.4 747.4C98.5 745.7 99 744.1 99.9 742.4C100.8 740.8 102.1 739.2 103.8 737.5C105.5 735.9 107.5 734.2 110 732.6C112.5 730.9 115.3 729.2 118.7 727.5C122 725.8 125.7 724.1 130.2 722.3C134.6 720.5 138.3 719 145.5 716.5C152.7 714.1 164 710.4 173.4 707.5C182.9 704.6 194.4 701.1 202 698.9C209.6 696.8 213.9 695.8 219.1 694.6C224.4 693.4 229.1 692.5 233.7 691.7C238.2 691 242.5 690.4 246.6 690.1C250.7 689.7 254.6 689.5 258.3 689.4C262 689.4 265.5 689.5 268.9 689.8C272.3 690.2 275.5 690.6 278.6 691.3C281.7 692 284.6 692.8 287.5 693.9C290.4 695.1 292.7 696 296 698C299.4 700.1 304 703.4 307.5 706.2Z" fill="#b9b9c3" filter="url(#b1)"/>
<clipPath id="c5"><path d="M307.5 703.4C311.1 706.3 315.3 709.8 317.6 712.2C319.9 714.7 320.6 716.1 321.4 717.9C322.2 719.8 322.5 721.4 322.4 723.2C322.3 724.9 321.8 726.5 320.9 728.2C320 729.9 318.7 731.5 317 733.2C315.3 734.9 313.2 736.5 310.7 738.2C308.2 739.9 305.4 741.6 302 743.3C298.6 745.1 294.9 746.8 290.4 748.6C285.9 750.5 282.2 752 274.9 754.5C267.6 757 256.2 760.6 246.7 763.6C237.2 766.6 225.5 770.1 217.9 772.2C210.2 774.4 205.9 775.4 200.5 776.6C195.2 777.8 190.5 778.7 185.9 779.5C181.2 780.2 176.9 780.8 172.8 781.2C168.6 781.6 164.7 781.8 160.9 781.8C157.2 781.8 153.6 781.7 150.2 781.3C146.7 781 143.5 780.5 140.3 779.8C137.2 779.1 134.2 778.3 131.3 777.1C128.3 776 126 775 122.6 772.9C119.2 770.9 114.5 767.5 110.9 764.6C107.3 761.7 103.1 758.2 100.8 755.8C98.5 753.3 97.8 751.9 97 750.1C96.2 748.2 95.9 746.6 96 744.8C96.1 743.1 96.6 741.5 97.5 739.8C98.4 738.1 99.7 736.5 101.4 734.8C103.1 733.1 105.2 731.5 107.7 729.8C110.2 728.1 113 726.4 116.4 724.7C119.8 722.9 123.5 721.2 128 719.4C132.5 717.5 136.2 716 143.5 713.5C150.8 711 162.2 707.4 171.7 704.4C181.2 701.4 192.9 697.9 200.5 695.8C208.2 693.6 212.5 692.6 217.9 691.4C223.2 690.2 227.9 689.3 232.5 688.5C237.2 687.8 241.5 687.2 245.6 686.8C249.8 686.4 253.7 686.2 257.5 686.2C261.2 686.2 264.8 686.3 268.2 686.7C271.7 687 274.9 687.5 278.1 688.2C281.2 688.9 284.2 689.7 287.1 690.9C290.1 692 292.4 693 295.8 695.1C299.2 697.1 303.9 700.5 307.5 703.4Z"/></clipPath>
<path d="M307.5 703.4C311.1 706.3 315.3 709.8 317.6 712.2C319.9 714.7 320.6 716.1 321.4 717.9C322.2 719.8 322.5 721.4 322.4 723.2C322.3 724.9 321.8 726.5 320.9 728.2C320 729.9 318.7 731.5 317 733.2C315.3 734.9 313.2 736.5 310.7 738.2C308.2 739.9 305.4 741.6 302 743.3C298.6 745.1 294.9 746.8 290.4 748.6C285.9 750.5 282.2 752 274.9 754.5C267.6 757 256.2 760.6 246.7 763.6C237.2 766.6 225.5 770.1 217.9 772.2C210.2 774.4 205.9 775.4 200.5 776.6C195.2 777.8 190.5 778.7 185.9 779.5C181.2 780.2 176.9 780.8 172.8 781.2C168.6 781.6 164.7 781.8 160.9 781.8C157.2 781.8 153.6 781.7 150.2 781.3C146.7 781 143.5 780.5 140.3 779.8C137.2 779.1 134.2 778.3 131.3 777.1C128.3 776 126 775 122.6 772.9C119.2 770.9 114.5 767.5 110.9 764.6C107.3 761.7 103.1 758.2 100.8 755.8C98.5 753.3 97.8 751.9 97 750.1C96.2 748.2 95.9 746.6 96 744.8C96.1 743.1 96.6 741.5 97.5 739.8C98.4 738.1 99.7 736.5 101.4 734.8C103.1 733.1 105.2 731.5 107.7 729.8C110.2 728.1 113 726.4 116.4 724.7C119.8 722.9 123.5 721.2 128 719.4C132.5 717.5 136.2 716 143.5 713.5C150.8 711 162.2 707.4 171.7 704.4C181.2 701.4 192.9 697.9 200.5 695.8C208.2 693.6 212.5 692.6 217.9 691.4C223.2 690.2 227.9 689.3 232.5 688.5C237.2 687.8 241.5 687.2 245.6 686.8C249.8 686.4 253.7 686.2 257.5 686.2C261.2 686.2 264.8 686.3 268.2 686.7C271.7 687 274.9 687.5 278.1 688.2C281.2 688.9 284.2 689.7 287.1 690.9C290.1 692 292.4 693 295.8 695.1C299.2 697.1 303.9 700.5 307.5 703.4Z" fill="#e6e6eb" stroke="#d6d6de" stroke-width="0.7"/>
<g clip-path="url(#c5)"><path d="M307 699.3C310.6 702.2 314.7 705.7 317.1 708.1C319.4 710.6 320.1 712 320.9 713.8C321.6 715.7 321.9 717.4 321.8 719.1C321.7 720.8 321.1 722.5 320.2 724.1C319.3 725.8 318 727.5 316.3 729.2C314.5 730.8 312.5 732.5 309.9 734.2C307.4 735.9 304.5 737.6 301.1 739.4C297.6 741.1 293.9 742.8 289.3 744.7C284.8 746.6 281.1 748.1 273.7 750.6C266.4 753.1 254.8 756.8 245.2 759.8C235.6 762.8 223.8 766.3 216.1 768.5C208.3 770.7 204 771.7 198.6 773C193.2 774.2 188.4 775.1 183.8 775.9C179.1 776.6 174.8 777.2 170.6 777.6C166.4 778 162.5 778.2 158.7 778.2C154.9 778.3 151.3 778.1 147.8 777.8C144.4 777.5 141.1 777 137.9 776.3C134.8 775.6 131.8 774.8 128.8 773.6C125.9 772.5 123.5 771.5 120.1 769.4C116.7 767.4 112 764 108.4 761.1C104.8 758.2 100.7 754.7 98.3 752.3C96 749.8 95.3 748.4 94.5 746.6C93.8 744.7 93.5 743 93.6 741.3C93.7 739.6 94.3 737.9 95.2 736.3C96.1 734.6 97.4 732.9 99.1 731.2C100.9 729.6 102.9 727.9 105.5 726.2C108 724.5 110.9 722.8 114.3 721C117.8 719.3 121.5 717.6 126.1 715.7C130.6 713.8 134.3 712.3 141.7 709.8C149 707.3 160.6 703.6 170.2 700.6C179.8 697.6 191.6 694.1 199.3 691.9C207.1 689.7 211.4 688.7 216.8 687.4C222.2 686.2 227 685.3 231.6 684.5C236.3 683.8 240.6 683.2 244.8 682.8C249 682.4 252.9 682.2 256.7 682.2C260.5 682.1 264.1 682.3 267.6 682.6C271 682.9 274.3 683.4 277.5 684.1C280.6 684.8 283.6 685.6 286.6 686.8C289.5 687.9 291.9 688.9 295.3 691C298.7 693 303.4 696.4 307 699.3Z" fill="#fcfcfd" filter="url(#b1)"/></g>
<path d="M302.8 704.2C306 706.8 309.7 710 311.8 712.2C313.9 714.3 314.5 715.7 315.1 717.3C315.8 719 315.9 720.5 315.8 722.1C315.6 723.6 315 725.2 314.1 726.7C313.2 728.3 311.9 729.8 310.2 731.3C308.5 732.9 306.5 734.4 304.1 736C301.6 737.6 298.9 739.2 295.6 740.8C292.3 742.4 288.8 744.1 284.4 745.8C280.1 747.6 276.6 749 269.6 751.3C262.7 753.7 251.7 757.2 242.7 760C233.6 762.9 222.5 766.2 215.1 768.3C207.8 770.4 203.7 771.3 198.6 772.5C193.6 773.7 189.1 774.6 184.7 775.3C180.3 776.1 176.3 776.6 172.3 777C168.4 777.4 164.7 777.7 161.2 777.7C157.6 777.8 154.3 777.7 151.1 777.5C147.9 777.2 144.8 776.8 141.9 776.2C139 775.6 136.3 774.9 133.5 773.8C130.8 772.8 128.7 772 125.6 770.1C122.5 768.2 118.3 765.2 115 762.6C111.8 760 108.1 756.8 106 754.6C103.9 752.5 103.3 751.1 102.7 749.5C102 747.8 101.9 746.3 102 744.7C102.2 743.2 102.8 741.6 103.7 740.1C104.6 738.5 105.9 737 107.6 735.5C109.3 733.9 111.3 732.4 113.7 730.8C116.2 729.2 118.9 727.6 122.2 726C125.5 724.4 129 722.7 133.4 721C137.7 719.2 141.2 717.8 148.2 715.5C155.1 713.1 166.1 709.6 175.1 706.8C184.2 703.9 195.3 700.6 202.7 698.5C210 696.4 214.1 695.5 219.2 694.3C224.2 693.1 228.7 692.2 233.1 691.5C237.5 690.7 241.5 690.2 245.5 689.8C249.4 689.4 253.1 689.1 256.6 689.1C260.2 689 263.5 689.1 266.7 689.3C269.9 689.6 273 690 275.9 690.6C278.8 691.2 281.5 691.9 284.3 693C287 694 289.1 694.8 292.2 696.7C295.3 698.6 299.5 701.6 302.8 704.2Z" fill="#e6e7ec" stroke="#dcdce4" stroke-width="0.8"/>
<path d="M302.3 705.3C305.3 707.7 308.7 710.6 310.6 712.7C312.5 714.7 313 715.9 313.6 717.5C314.1 719 314.2 720.4 314 721.9C313.8 723.4 313.1 724.8 312.2 726.3C311.2 727.7 309.9 729.2 308.3 730.6C306.6 732.1 304.6 733.6 302.2 735.1C299.8 736.6 297.1 738.1 293.9 739.6C290.7 741.2 287.3 742.7 283.1 744.4C278.9 746.1 275.4 747.5 268.7 749.7C261.9 752 251.3 755.4 242.5 758.2C233.7 760.9 223 764.2 215.9 766.2C208.8 768.2 204.8 769.1 199.9 770.3C195 771.4 190.7 772.3 186.5 773.1C182.3 773.8 178.4 774.4 174.6 774.8C170.9 775.2 167.3 775.5 163.9 775.6C160.5 775.7 157.4 775.6 154.3 775.4C151.2 775.2 148.4 774.9 145.6 774.3C142.8 773.8 140.2 773.1 137.7 772.2C135.1 771.3 133.1 770.5 130.3 768.8C127.4 767.1 123.5 764.3 120.5 761.9C117.5 759.5 114.1 756.6 112.2 754.5C110.3 752.5 109.8 751.3 109.2 749.7C108.7 748.2 108.6 746.8 108.8 745.3C109 743.8 109.7 742.4 110.6 740.9C111.6 739.5 112.9 738 114.5 736.6C116.2 735.1 118.2 733.6 120.6 732.1C123 730.6 125.7 729.1 128.9 727.6C132.1 726 135.5 724.5 139.7 722.8C143.9 721.1 147.4 719.7 154.1 717.5C160.9 715.2 171.5 711.8 180.3 709C189.1 706.3 199.8 703 206.9 701C214 699 218 698.1 222.9 696.9C227.8 695.8 232.1 694.9 236.3 694.1C240.5 693.4 244.4 692.8 248.2 692.4C251.9 692 255.5 691.7 258.9 691.6C262.3 691.5 265.4 691.6 268.5 691.8C271.6 692 274.4 692.3 277.2 692.9C280 693.4 282.6 694.1 285.1 695C287.7 695.9 289.7 696.7 292.5 698.4C295.4 700.1 299.3 702.9 302.3 705.3Z" fill="#fefefe" filter="url(#b1)"/>
<g transform="translate(207 738) rotate(-10.50)">
<path d="M96 0C96 2.4 95.6 5.2 94.9 7.1C94.2 9.1 93.1 10.3 91.7 11.7C90.2 13.2 88.4 14.4 86.3 15.6C84.2 16.7 81.7 17.8 78.8 18.7C76 19.7 72.8 20.6 69.2 21.3C65.6 22.1 61.8 22.8 57.4 23.4C53.1 24 48.6 24.4 43.4 24.8C38.2 25.2 33.5 25.5 26.2 25.7C19 25.9 8.7 26 0 26C-8.7 26 -19 25.9 -26.2 25.7C-33.5 25.5 -38.2 25.2 -43.4 24.8C-48.6 24.4 -53.1 24 -57.4 23.4C-61.8 22.8 -65.6 22.1 -69.2 21.3C-72.8 20.6 -76 19.7 -78.8 18.7C-81.7 17.8 -84.2 16.7 -86.3 15.6C-88.4 14.4 -90.2 13.2 -91.7 11.7C-93.1 10.3 -94.2 9.1 -94.9 7.1C-95.6 5.2 -96 2.4 -96 0C-96 -2.4 -95.6 -5.2 -94.9 -7.1C-94.2 -9.1 -93.1 -10.3 -91.7 -11.7C-90.2 -13.2 -88.4 -14.4 -86.3 -15.6C-84.2 -16.7 -81.7 -17.8 -78.8 -18.7C-76 -19.7 -72.8 -20.6 -69.2 -21.3C-65.6 -22.1 -61.8 -22.8 -57.4 -23.4C-53.1 -24 -48.6 -24.4 -43.4 -24.8C-38.2 -25.2 -33.5 -25.5 -26.2 -25.7C-19 -25.9 -8.7 -26 0 -26C8.7 -26 19 -25.9 26.2 -25.7C33.5 -25.5 38.2 -25.2 43.4 -24.8C48.6 -24.4 53.1 -24 57.4 -23.4C61.8 -22.8 65.6 -22.1 69.2 -21.3C72.8 -20.6 76 -19.7 78.8 -18.7C81.7 -17.8 84.2 -16.7 86.3 -15.6C88.4 -14.4 90.2 -13.2 91.7 -11.7C93.1 -10.3 94.2 -9.1 94.9 -7.1C95.6 -5.2 96 -2.4 96 0Z" fill="#fefefe" stroke="#33363d" stroke-width="1"/>
<path d="M92.2 0C92.2 2.1 91.9 4.5 91.2 6.2C90.5 7.9 89.4 9 88 10.2C86.7 11.4 84.9 12.5 82.9 13.5C80.8 14.5 78.4 15.5 75.7 16.3C72.9 17.1 69.9 17.9 66.5 18.6C63 19.2 59.3 19.8 55.2 20.3C51 20.8 46.6 21.2 41.6 21.6C36.7 21.9 32.1 22.2 25.2 22.3C18.3 22.5 8.4 22.6 0 22.6C-8.4 22.6 -18.3 22.5 -25.2 22.3C-32.1 22.2 -36.7 21.9 -41.6 21.6C-46.6 21.2 -51 20.8 -55.2 20.3C-59.3 19.8 -63 19.2 -66.5 18.6C-69.9 17.9 -72.9 17.1 -75.7 16.3C-78.4 15.5 -80.8 14.5 -82.9 13.5C-84.9 12.5 -86.7 11.4 -88 10.2C-89.4 9 -90.5 7.9 -91.2 6.2C-91.9 4.5 -92.2 2.1 -92.2 0C-92.2 -2.1 -91.9 -4.5 -91.2 -6.2C-90.5 -7.9 -89.4 -9 -88 -10.2C-86.7 -11.4 -84.9 -12.5 -82.9 -13.5C-80.8 -14.5 -78.4 -15.5 -75.7 -16.3C-72.9 -17.1 -69.9 -17.9 -66.5 -18.6C-63 -19.2 -59.3 -19.8 -55.2 -20.3C-51 -20.8 -46.6 -21.2 -41.6 -21.6C-36.7 -21.9 -32.1 -22.2 -25.2 -22.3C-18.3 -22.5 -8.4 -22.6 0 -22.6C8.4 -22.6 18.3 -22.5 25.2 -22.3C32.1 -22.2 36.7 -21.9 41.6 -21.6C46.6 -21.2 51 -20.8 55.2 -20.3C59.3 -19.8 63 -19.2 66.5 -18.6C69.9 -17.9 72.9 -17.1 75.7 -16.3C78.4 -15.5 80.8 -14.5 82.9 -13.5C84.9 -12.5 86.7 -11.4 88 -10.2C89.4 -9 90.5 -7.9 91.2 -6.2C91.9 -4.5 92.2 -2.1 92.2 0Z" fill="none" stroke="#23252c" stroke-width="1.5" stroke-linecap="round" stroke-dasharray="0 5.6"/>
<clipPath id="c6"><path d="M85.1 6.6A12.2 12.2 0 0 1 72.2 13A12.3 12.3 0 0 1 58 15.8A12.3 12.3 0 0 1 43.5 17.4A12.3 12.3 0 0 1 29 18.2A12.3 12.3 0 0 1 14.5 18.5A12.3 12.3 0 0 1 0 18.6A12.3 12.3 0 0 1 -14.5 18.5A12.3 12.3 0 0 1 -29 18.2A12.3 12.3 0 0 1 -43.5 17.4A12.3 12.3 0 0 1 -58 15.8A12.3 12.3 0 0 1 -72.2 13A12.2 12.2 0 0 1 -85.1 6.6A11.3 11.3 0 0 1 -85.1 -6.6A12.2 12.2 0 0 1 -72.2 -13A12.3 12.3 0 0 1 -58 -15.8A12.3 12.3 0 0 1 -43.5 -17.4A12.3 12.3 0 0 1 -29 -18.2A12.3 12.3 0 0 1 -14.5 -18.5A12.3 12.3 0 0 1 0 -18.6A12.3 12.3 0 0 1 14.5 -18.5A12.3 12.3 0 0 1 29 -18.2A12.3 12.3 0 0 1 43.5 -17.4A12.3 12.3 0 0 1 58 -15.8A12.3 12.3 0 0 1 72.2 -13A12.2 12.2 0 0 1 85.1 -6.6A11.3 11.3 0 0 1 85.1 6.6Z"/></clipPath><path d="M85.1 6.6A12.2 12.2 0 0 1 72.2 13A12.3 12.3 0 0 1 58 15.8A12.3 12.3 0 0 1 43.5 17.4A12.3 12.3 0 0 1 29 18.2A12.3 12.3 0 0 1 14.5 18.5A12.3 12.3 0 0 1 0 18.6A12.3 12.3 0 0 1 -14.5 18.5A12.3 12.3 0 0 1 -29 18.2A12.3 12.3 0 0 1 -43.5 17.4A12.3 12.3 0 0 1 -58 15.8A12.3 12.3 0 0 1 -72.2 13A12.2 12.2 0 0 1 -85.1 6.6A11.3 11.3 0 0 1 -85.1 -6.6A12.2 12.2 0 0 1 -72.2 -13A12.3 12.3 0 0 1 -58 -15.8A12.3 12.3 0 0 1 -43.5 -17.4A12.3 12.3 0 0 1 -29 -18.2A12.3 12.3 0 0 1 -14.5 -18.5A12.3 12.3 0 0 1 0 -18.6A12.3 12.3 0 0 1 14.5 -18.5A12.3 12.3 0 0 1 29 -18.2A12.3 12.3 0 0 1 43.5 -17.4A12.3 12.3 0 0 1 58 -15.8A12.3 12.3 0 0 1 72.2 -13A12.2 12.2 0 0 1 85.1 -6.6A11.3 11.3 0 0 1 85.1 6.6Z" fill="#fcfcff"/>
<g clip-path="url(#c6)"><path d="M52 0L96 0M48.2 3.8L92.4 10.5M42.7 5.3L83.4 17.2M37.1 6.3L72.9 21.4M31.4 6.9L62 24.2M25.7 7.3L50.8 26.2M20 7.7L39.6 27.5M14.3 7.8L28.3 28.3M8.6 8L17 28.8M2.9 8L5.7 29M-2.9 8L-5.7 29M-8.6 8L-17 28.8M-14.3 7.8L-28.3 28.3M-20 7.7L-39.6 27.5M-25.7 7.3L-50.8 26.2M-31.4 6.9L-62 24.2M-37.1 6.3L-72.9 21.4M-42.7 5.3L-83.4 17.2M-48.2 3.8L-92.4 10.5M-52 0L-96 0M-48.2 -3.8L-92.4 -10.5M-42.7 -5.3L-83.4 -17.2M-37.1 -6.3L-72.9 -21.4M-31.4 -6.9L-62 -24.2M-25.7 -7.3L-50.8 -26.2M-20 -7.7L-39.6 -27.5M-14.3 -7.8L-28.3 -28.3M-8.6 -8L-17 -28.8M-2.9 -8L-5.7 -29M2.9 -8L5.7 -29M8.6 -8L17 -28.8M14.3 -7.8L28.3 -28.3M20 -7.7L39.6 -27.5M25.7 -7.3L50.8 -26.2M31.4 -6.9L62 -24.2M37.1 -6.3L72.9 -21.4M42.7 -5.3L83.4 -17.2M48.2 -3.8L92.4 -10.5" stroke="#b0b9e6" stroke-width="4.4" fill="none"/></g>
<path d="M85.1 6.6A12.2 12.2 0 0 1 72.2 13A12.3 12.3 0 0 1 58 15.8A12.3 12.3 0 0 1 43.5 17.4A12.3 12.3 0 0 1 29 18.2A12.3 12.3 0 0 1 14.5 18.5A12.3 12.3 0 0 1 0 18.6A12.3 12.3 0 0 1 -14.5 18.5A12.3 12.3 0 0 1 -29 18.2A12.3 12.3 0 0 1 -43.5 17.4A12.3 12.3 0 0 1 -58 15.8A12.3 12.3 0 0 1 -72.2 13A12.2 12.2 0 0 1 -85.1 6.6A11.3 11.3 0 0 1 -85.1 -6.6A12.2 12.2 0 0 1 -72.2 -13A12.3 12.3 0 0 1 -58 -15.8A12.3 12.3 0 0 1 -43.5 -17.4A12.3 12.3 0 0 1 -29 -18.2A12.3 12.3 0 0 1 -14.5 -18.5A12.3 12.3 0 0 1 0 -18.6A12.3 12.3 0 0 1 14.5 -18.5A12.3 12.3 0 0 1 29 -18.2A12.3 12.3 0 0 1 43.5 -17.4A12.3 12.3 0 0 1 58 -15.8A12.3 12.3 0 0 1 72.2 -13A12.2 12.2 0 0 1 85.1 -6.6A11.3 11.3 0 0 1 85.1 6.6Z" fill="none" stroke="#9aa3dc" stroke-width="0.6"/>
<path d="M57.3 4.3A6.5 6.5 0 0 1 48.1 8.9A6.5 6.5 0 0 1 37.9 11.4A6.5 6.5 0 0 1 27.6 12.8A6.5 6.5 0 0 1 17.2 13.6A6.5 6.5 0 0 1 6.7 14A6.5 6.5 0 0 1 -3.7 14A6.5 6.5 0 0 1 -14.2 13.6A6.5 6.5 0 0 1 -24.6 12.8A6.5 6.5 0 0 1 -34.9 11.4A6.5 6.5 0 0 1 -45.1 8.9A6.5 6.5 0 0 1 -54.3 4.3A5.7 5.7 0 0 1 -54.3 -4.9A6.5 6.5 0 0 1 -45.1 -9.5A6.5 6.5 0 0 1 -34.9 -12A6.5 6.5 0 0 1 -24.6 -13.4A6.5 6.5 0 0 1 -14.2 -14.2A6.5 6.5 0 0 1 -3.7 -14.6A6.5 6.5 0 0 1 6.7 -14.6A6.5 6.5 0 0 1 17.2 -14.2A6.5 6.5 0 0 1 27.6 -13.4A6.5 6.5 0 0 1 37.9 -12A6.5 6.5 0 0 1 48.1 -9.5A6.5 6.5 0 0 1 57.3 -4.9A5.7 5.7 0 0 1 57.3 4.3Z" fill="#fefdfd" stroke="#eab0b0" stroke-width="1"/>
<path d="M35.7 -3.8Q0.9 -1 -33.9 9.6M36 -0.6Q-0.2 2.6 -36.4 4M32.3 -3.7Q11.6 1 -9 2.1M33.3 -4.6Q-0.9 2.7 -35.1 3.1M36.7 -1.4Q6.8 -0.1 -23.1 7.4M34.3 -2Q13.1 -3.5 -8.1 1.6M34.1 -4.7Q3.3 -0.5 -27.6 8.6M39.1 -0.7Q0.8 0 -37.6 0.8M32.2 -3.5Q16 -2.9 -0.1 -4M33 -2.5Q16.2 -6.4 -0.6 -2.3M32.7 -2.8Q-3.3 -3.6 -39.2 -4.5M39.4 -3.5Q8.4 -2.2 -22.5 5.5M36.6 -5Q11.7 -0.4 -13.2 11.2M36.4 -2.4Q1.5 2.2 -33.4 -1.2M40 -5.3Q15.5 0.8 -9 11.1M36.9 -5.7Q6.5 0.9 -23.9 6.1M38.2 -5.5Q6.7 2.7 -24.7 9.6M35.6 -3.6Q19.5 -3.5 3.4 4.3M38.4 -4Q8.7 -3.5 -20.9 -2.2M34.6 -5.5Q11.1 -2.5 -12.3 -4.1M32.2 -1.3Q13.9 2.5 -4.5 3M34 -1.6Q6.3 2 -21.3 -1.8M35.2 -3.8Q16.5 -0.2 -2.2 0.6M33.4 -0.9Q2.4 0.8 -28.6 -5.1M33.4 -0.3Q18.4 -1.6 3.4 4.9M32.5 -4.7Q4.8 3.9 -22.9 5M34.8 -5.2Q9.8 -7.6 -15.3 -3.5M36.4 -1.8Q-0.3 1.8 -37.1 2.1M38.1 -3.7Q18.6 -1.6 -1 -3M38.2 -0.7Q10 -6.1 -18.2 -4.2" fill="none" stroke="#f2bab6" stroke-width="1.3" opacity="0.75" stroke-linecap="round"/>
<path d="M35.7 -3.8Q0.9 -1 -33.9 9.6M36 -0.6Q-0.2 2.6 -36.4 4M32.3 -3.7Q11.6 1 -9 2.1M33.3 -4.6Q-0.9 2.7 -35.1 3.1M36.7 -1.4Q6.8 -0.1 -23.1 7.4M34.3 -2Q13.1 -3.5 -8.1 1.6M34.1 -4.7Q3.3 -0.5 -27.6 8.6M39.1 -0.7Q0.8 0 -37.6 0.8M32.2 -3.5Q16 -2.9 -0.1 -4" fill="none" stroke="#e29a94" stroke-width="0.45"/>
<ellipse cx="38" cy="-3" rx="5" ry="3.4" fill="#f0b8b3"/><circle cx="41" cy="-3.6" r="0.7" fill="#4a4a4a"/>
</g></g>
<g id="oval26">
<path d="M516.6 706.5C518.4 708.6 520.1 711.1 521.1 713.2C522 715.3 522.3 717.2 522.3 719.1C522.3 721.1 521.9 723.1 521 725C520.2 727 518.9 728.9 517.3 730.9C515.6 732.8 513.6 734.7 511.2 736.6C508.8 738.5 506 740.4 502.9 742.3C499.7 744.1 496.2 746 492.3 747.8C488.4 749.6 484.2 751.3 479.5 753.1C474.9 754.8 470.2 756.4 464.4 758.2C458.5 759.9 451.2 761.9 444.4 763.6C437.7 765.4 430.2 767.2 424 768.5C417.7 769.8 412.5 770.7 407.1 771.6C401.7 772.4 396.5 773 391.5 773.5C386.5 774 381.6 774.3 377 774.4C372.4 774.5 367.9 774.5 363.7 774.3C359.5 774.1 355.5 773.7 351.7 773.1C348 772.6 344.4 771.8 341.2 770.9C337.9 770 334.9 769 332.1 767.7C329.3 766.4 326.9 765.1 324.6 763.4C322.2 761.6 319.8 759.3 318 757.1C316.2 755 314.5 752.5 313.5 750.4C312.6 748.3 312.3 746.4 312.3 744.5C312.3 742.5 312.7 740.5 313.6 738.6C314.4 736.6 315.7 734.7 317.3 732.7C319 730.8 321 728.9 323.4 727C325.8 725.1 328.6 723.2 331.7 721.3C334.9 719.5 338.4 717.6 342.3 715.8C346.2 714 350.4 712.3 355.1 710.5C359.7 708.8 364.4 707.2 370.2 705.4C376.1 703.7 383.4 701.7 390.2 700C396.9 698.2 404.4 696.4 410.6 695.1C416.9 693.8 422.1 692.9 427.5 692C432.9 691.2 438.1 690.6 443.1 690.1C448.1 689.6 453 689.3 457.6 689.2C462.2 689.1 466.7 689.1 470.9 689.3C475.1 689.5 479.1 689.9 482.9 690.5C486.6 691 490.2 691.8 493.4 692.7C496.7 693.6 499.7 694.6 502.5 695.9C505.3 697.2 507.7 698.5 510 700.2C512.4 702 514.8 704.3 516.6 706.5Z" fill="#b9b9c3" filter="url(#b1)"/>
<clipPath id="c7"><path d="M516.6 703.7C518.5 705.9 520.2 708.4 521.2 710.6C522.2 712.7 522.5 714.6 522.5 716.6C522.5 718.6 522 720.6 521.2 722.6C520.4 724.6 519.1 726.6 517.5 728.6C515.8 730.5 513.8 732.5 511.4 734.4C508.9 736.4 506.1 738.3 503 740.2C499.8 742.1 496.2 743.9 492.3 745.7C488.4 747.6 484.1 749.3 479.4 751.1C474.7 752.8 470 754.5 464.1 756.2C458.2 758 450.8 760.1 444 761.8C437.2 763.5 429.6 765.3 423.3 766.7C417 768 411.7 768.9 406.2 769.8C400.8 770.6 395.5 771.3 390.5 771.7C385.4 772.2 380.5 772.5 375.8 772.6C371.1 772.7 366.6 772.7 362.4 772.4C358.1 772.2 354 771.8 350.2 771.2C346.4 770.7 342.8 769.9 339.5 769C336.2 768.1 333.1 767 330.3 765.7C327.5 764.4 325.1 763 322.7 761.2C320.3 759.4 317.9 757.1 316 754.9C314.1 752.7 312.4 750.2 311.4 748C310.4 745.9 310.1 744 310.1 742C310.1 740 310.6 738 311.4 736C312.2 734 313.5 732 315.1 730C316.8 728.1 318.8 726.1 321.2 724.2C323.7 722.2 326.5 720.3 329.6 718.4C332.8 716.5 336.4 714.7 340.3 712.9C344.2 711 348.5 709.3 353.2 707.5C357.9 705.8 362.6 704.1 368.5 702.4C374.4 700.6 381.8 698.5 388.6 696.8C395.4 695.1 403 693.3 409.3 691.9C415.6 690.6 420.9 689.7 426.4 688.8C431.8 688 437.1 687.3 442.1 686.9C447.2 686.4 452.1 686.1 456.8 686C461.5 685.9 466 685.9 470.2 686.2C474.5 686.4 478.6 686.8 482.4 687.4C486.2 687.9 489.8 688.7 493.1 689.6C496.4 690.5 499.5 691.6 502.3 692.9C505.1 694.2 507.5 695.6 509.9 697.4C512.3 699.2 514.7 701.5 516.6 703.7Z"/></clipPath>
<path d="M516.6 703.7C518.5 705.9 520.2 708.4 521.2 710.6C522.2 712.7 522.5 714.6 522.5 716.6C522.5 718.6 522 720.6 521.2 722.6C520.4 724.6 519.1 726.6 517.5 728.6C515.8 730.5 513.8 732.5 511.4 734.4C508.9 736.4 506.1 738.3 503 740.2C499.8 742.1 496.2 743.9 492.3 745.7C488.4 747.6 484.1 749.3 479.4 751.1C474.7 752.8 470 754.5 464.1 756.2C458.2 758 450.8 760.1 444 761.8C437.2 763.5 429.6 765.3 423.3 766.7C417 768 411.7 768.9 406.2 769.8C400.8 770.6 395.5 771.3 390.5 771.7C385.4 772.2 380.5 772.5 375.8 772.6C371.1 772.7 366.6 772.7 362.4 772.4C358.1 772.2 354 771.8 350.2 771.2C346.4 770.7 342.8 769.9 339.5 769C336.2 768.1 333.1 767 330.3 765.7C327.5 764.4 325.1 763 322.7 761.2C320.3 759.4 317.9 757.1 316 754.9C314.1 752.7 312.4 750.2 311.4 748C310.4 745.9 310.1 744 310.1 742C310.1 740 310.6 738 311.4 736C312.2 734 313.5 732 315.1 730C316.8 728.1 318.8 726.1 321.2 724.2C323.7 722.2 326.5 720.3 329.6 718.4C332.8 716.5 336.4 714.7 340.3 712.9C344.2 711 348.5 709.3 353.2 707.5C357.9 705.8 362.6 704.1 368.5 702.4C374.4 700.6 381.8 698.5 388.6 696.8C395.4 695.1 403 693.3 409.3 691.9C415.6 690.6 420.9 689.7 426.4 688.8C431.8 688 437.1 687.3 442.1 686.9C447.2 686.4 452.1 686.1 456.8 686C461.5 685.9 466 685.9 470.2 686.2C474.5 686.4 478.6 686.8 482.4 687.4C486.2 687.9 489.8 688.7 493.1 689.6C496.4 690.5 499.5 691.6 502.3 692.9C505.1 694.2 507.5 695.6 509.9 697.4C512.3 699.2 514.7 701.5 516.6 703.7Z" fill="#e6e6eb" stroke="#d6d6de" stroke-width="0.7"/>
<g clip-path="url(#c7)"><path d="M516.1 699.6C518 701.8 519.7 704.4 520.7 706.5C521.6 708.7 521.9 710.6 521.9 712.6C521.9 714.6 521.5 716.6 520.6 718.6C519.8 720.6 518.5 722.6 516.8 724.5C515.1 726.5 513.1 728.5 510.6 730.4C508.2 732.4 505.3 734.3 502.1 736.2C498.9 738.1 495.3 740 491.3 741.8C487.4 743.6 483.1 745.4 478.3 747.2C473.6 749 468.8 750.6 462.8 752.4C456.8 754.2 449.4 756.2 442.5 758C435.6 759.8 428 761.6 421.6 762.9C415.2 764.3 409.9 765.2 404.4 766.1C398.8 766.9 393.6 767.6 388.5 768.1C383.3 768.5 378.4 768.9 373.7 769C369 769.1 364.4 769.1 360.1 768.8C355.8 768.6 351.7 768.2 347.9 767.7C344.1 767.1 340.5 766.3 337.1 765.4C333.8 764.5 330.7 763.4 327.9 762.1C325.1 760.8 322.6 759.5 320.2 757.7C317.8 755.9 315.4 753.6 313.5 751.4C311.6 749.2 309.9 746.6 308.9 744.5C308 742.3 307.7 740.4 307.7 738.4C307.7 736.4 308.1 734.4 309 732.4C309.8 730.4 311.1 728.4 312.8 726.5C314.5 724.5 316.5 722.5 319 720.6C321.4 718.6 324.3 716.7 327.5 714.8C330.7 712.9 334.3 711 338.3 709.2C342.2 707.4 346.5 705.6 351.3 703.8C356 702 360.8 700.4 366.8 698.6C372.8 696.8 380.2 694.8 387.1 693C394 691.2 401.6 689.4 408 688.1C414.4 686.7 419.7 685.8 425.2 684.9C430.8 684.1 436 683.4 441.1 682.9C446.3 682.5 451.2 682.1 455.9 682C460.6 681.9 465.2 681.9 469.5 682.2C473.8 682.4 477.9 682.8 481.7 683.3C485.5 683.9 489.1 684.7 492.5 685.6C495.8 686.5 498.9 687.6 501.7 688.9C504.5 690.2 507 691.5 509.4 693.3C511.8 695.1 514.2 697.4 516.1 699.6Z" fill="#fcfcfd" filter="url(#b1)"/></g>
<path d="M511.8 704.3C513.5 706.2 515 708.5 515.8 710.5C516.7 712.4 516.9 714.1 516.8 716C516.8 717.8 516.3 719.6 515.4 721.4C514.5 723.2 513.3 725 511.7 726.9C510 728.7 508 730.5 505.7 732.3C503.3 734.1 500.6 735.8 497.5 737.6C494.4 739.3 491 741.1 487.2 742.8C483.4 744.5 479.3 746.1 474.8 747.8C470.3 749.4 465.8 751 460.2 752.7C454.5 754.4 447.4 756.3 440.9 757.9C434.4 759.6 427.2 761.3 421.2 762.6C415.2 763.9 410.1 764.8 404.9 765.6C399.7 766.5 394.8 767.1 389.9 767.6C385.1 768.1 380.5 768.4 376.1 768.6C371.7 768.7 367.4 768.7 363.4 768.6C359.4 768.4 355.5 768.1 351.9 767.6C348.4 767.1 345 766.5 341.9 765.7C338.8 764.9 336 763.9 333.3 762.8C330.7 761.6 328.5 760.4 326.3 758.8C324.1 757.2 321.9 755.1 320.2 753.1C318.5 751.2 317 748.9 316.2 746.9C315.3 745 315.1 743.3 315.2 741.4C315.2 739.6 315.7 737.8 316.6 736C317.5 734.2 318.7 732.4 320.3 730.5C322 728.7 324 726.9 326.3 725.1C328.7 723.3 331.4 721.6 334.5 719.8C337.6 718.1 341 716.3 344.8 714.6C348.6 712.9 352.7 711.3 357.2 709.6C361.7 708 366.2 706.4 371.8 704.7C377.5 703 384.6 701.1 391.1 699.5C397.6 697.8 404.8 696.1 410.8 694.8C416.8 693.5 421.9 692.6 427.1 691.8C432.3 690.9 437.2 690.3 442.1 689.8C446.9 689.3 451.5 689 455.9 688.8C460.3 688.7 464.6 688.7 468.6 688.8C472.6 689 476.5 689.3 480.1 689.8C483.6 690.3 487 690.9 490.1 691.7C493.2 692.5 496 693.5 498.7 694.6C501.3 695.8 503.5 697 505.7 698.6C507.9 700.2 510.1 702.3 511.8 704.3Z" fill="#e6e7ec" stroke="#dcdce4" stroke-width="0.8"/>
<path d="M511.3 705.2C512.8 707 514.2 709.2 515 711C515.7 712.8 515.9 714.4 515.8 716.1C515.6 717.8 515.1 719.5 514.2 721.1C513.3 722.8 512 724.6 510.4 726.3C508.8 728 506.8 729.7 504.5 731.3C502.2 733 499.5 734.7 496.5 736.4C493.5 738 490.1 739.7 486.4 741.3C482.7 742.9 478.8 744.5 474.4 746.1C470 747.7 465.6 749.1 460.1 750.8C454.6 752.4 447.8 754.3 441.5 755.9C435.2 757.5 428.2 759.2 422.4 760.4C416.6 761.7 411.7 762.6 406.7 763.4C401.6 764.2 396.9 764.9 392.2 765.4C387.6 765.9 383.1 766.2 378.9 766.4C374.6 766.6 370.5 766.6 366.7 766.5C362.8 766.4 359.1 766.1 355.7 765.7C352.3 765.3 349.1 764.8 346.1 764C343.2 763.3 340.5 762.5 338 761.4C335.6 760.4 333.4 759.3 331.4 757.8C329.3 756.3 327.3 754.4 325.7 752.6C324.2 750.8 322.8 748.6 322 746.8C321.3 745 321.1 743.4 321.2 741.7C321.4 740 321.9 738.3 322.8 736.7C323.7 735 325 733.2 326.6 731.5C328.2 729.8 330.2 728.1 332.5 726.5C334.8 724.8 337.5 723.1 340.5 721.4C343.5 719.8 346.9 718.1 350.6 716.5C354.3 714.9 358.2 713.3 362.6 711.7C367 710.1 371.4 708.7 376.9 707C382.4 705.4 389.2 703.5 395.5 701.9C401.8 700.3 408.8 698.6 414.6 697.4C420.4 696.1 425.3 695.2 430.3 694.4C435.4 693.6 440.1 692.9 444.8 692.4C449.4 691.9 453.9 691.6 458.1 691.4C462.4 691.2 466.5 691.2 470.3 691.3C474.2 691.4 477.9 691.7 481.3 692.1C484.7 692.5 487.9 693 490.9 693.8C493.8 694.5 496.5 695.3 499 696.4C501.4 697.4 503.6 698.5 505.6 700C507.7 701.5 509.7 703.4 511.3 705.2Z" fill="#fefefe" filter="url(#b1)"/>
<g transform="translate(413.9 734.1) rotate(-9.41)">
<path d="M87.8 0C87.8 2.2 87.5 4.7 86.8 6.5C86.2 8.3 85.2 9.5 83.8 10.8C82.5 12 80.9 13.2 78.9 14.2C77 15.3 74.7 16.3 72.1 17.2C69.5 18 66.5 18.8 63.3 19.5C60 20.2 56.5 20.9 52.5 21.4C48.6 21.9 44.4 22.4 39.7 22.7C34.9 23.1 30.6 23.4 24 23.5C17.4 23.7 8 23.8 0 23.8C-8 23.8 -17.4 23.7 -24 23.5C-30.6 23.4 -34.9 23.1 -39.7 22.7C-44.4 22.4 -48.6 21.9 -52.5 21.4C-56.5 20.9 -60 20.2 -63.3 19.5C-66.5 18.8 -69.5 18 -72.1 17.2C-74.7 16.3 -77 15.3 -78.9 14.2C-80.9 13.2 -82.5 12 -83.8 10.8C-85.2 9.5 -86.2 8.3 -86.8 6.5C-87.5 4.7 -87.8 2.2 -87.8 0C-87.8 -2.2 -87.5 -4.7 -86.8 -6.5C-86.2 -8.3 -85.2 -9.5 -83.8 -10.8C-82.5 -12 -80.9 -13.2 -78.9 -14.2C-77 -15.3 -74.7 -16.3 -72.1 -17.2C-69.5 -18 -66.5 -18.8 -63.3 -19.5C-60 -20.2 -56.5 -20.9 -52.5 -21.4C-48.6 -21.9 -44.4 -22.4 -39.7 -22.7C-34.9 -23.1 -30.6 -23.4 -24 -23.5C-17.4 -23.7 -8 -23.8 0 -23.8C8 -23.8 17.4 -23.7 24 -23.5C30.6 -23.4 34.9 -23.1 39.7 -22.7C44.4 -22.4 48.6 -21.9 52.5 -21.4C56.5 -20.9 60 -20.2 63.3 -19.5C66.5 -18.8 69.5 -18 72.1 -17.2C74.7 -16.3 77 -15.3 78.9 -14.2C80.9 -13.2 82.5 -12 83.8 -10.8C85.2 -9.5 86.2 -8.3 86.8 -6.5C87.5 -4.7 87.8 -2.2 87.8 0Z" fill="#fefefe" stroke="#33363d" stroke-width="1"/>
<path d="M84 0C84 1.9 83.7 4.1 83.1 5.6C82.4 7.1 81.5 8.1 80.2 9.3C79 10.4 77.4 11.3 75.5 12.3C73.6 13.2 71.4 14 69 14.8C66.5 15.5 63.7 16.2 60.5 16.8C57.4 17.4 54 18 50.3 18.4C46.5 18.9 42.5 19.3 37.9 19.6C33.4 19.9 29.3 20.1 23 20.3C16.6 20.4 7.7 20.5 0 20.5C-7.7 20.5 -16.6 20.4 -23 20.3C-29.3 20.1 -33.4 19.9 -37.9 19.6C-42.5 19.3 -46.5 18.9 -50.3 18.4C-54 18 -57.4 17.4 -60.5 16.8C-63.7 16.2 -66.5 15.5 -69 14.8C-71.4 14 -73.6 13.2 -75.5 12.3C-77.4 11.3 -79 10.4 -80.2 9.3C-81.5 8.1 -82.4 7.1 -83.1 5.6C-83.7 4.1 -84 1.9 -84 0C-84 -1.9 -83.7 -4.1 -83.1 -5.6C-82.4 -7.1 -81.5 -8.1 -80.2 -9.3C-79 -10.4 -77.4 -11.3 -75.5 -12.3C-73.6 -13.2 -71.4 -14 -69 -14.8C-66.5 -15.5 -63.7 -16.2 -60.5 -16.8C-57.4 -17.4 -54 -18 -50.3 -18.4C-46.5 -18.9 -42.5 -19.3 -37.9 -19.6C-33.4 -19.9 -29.3 -20.1 -23 -20.3C-16.6 -20.4 -7.7 -20.5 0 -20.5C7.7 -20.5 16.6 -20.4 23 -20.3C29.3 -20.1 33.4 -19.9 37.9 -19.6C42.5 -19.3 46.5 -18.9 50.3 -18.4C54 -18 57.4 -17.4 60.5 -16.8C63.7 -16.2 66.5 -15.5 69 -14.8C71.4 -14 73.6 -13.2 75.5 -12.3C77.4 -11.3 79 -10.4 80.2 -9.3C81.5 -8.1 82.4 -7.1 83.1 -5.6C83.7 -4.1 84 -1.9 84 0Z" fill="none" stroke="#23252c" stroke-width="1.5" stroke-linecap="round" stroke-dasharray="0 5.6"/>
<clipPath id="c8"><path d="M74.7 6A6.9 6.9 0 0 1 61.9 11A6.9 6.9 0 0 1 48.3 13.1A6.9 6.9 0 0 1 34.5 14.3A6.9 6.9 0 0 1 20.7 14.8A6.9 6.9 0 0 1 6.9 15A6.9 6.9 0 0 1 -6.9 15A6.9 6.9 0 0 1 -20.7 14.8A6.9 6.9 0 0 1 -34.5 14.3A6.9 6.9 0 0 1 -48.3 13.1A6.9 6.9 0 0 1 -61.9 11A6.9 6.9 0 0 1 -74.7 6A6 6 0 0 1 -74.7 -6A6.9 6.9 0 0 1 -61.9 -11A6.9 6.9 0 0 1 -48.3 -13.1A6.9 6.9 0 0 1 -34.5 -14.3A6.9 6.9 0 0 1 -20.7 -14.8A6.9 6.9 0 0 1 -6.9 -15A6.9 6.9 0 0 1 6.9 -15A6.9 6.9 0 0 1 20.7 -14.8A6.9 6.9 0 0 1 34.5 -14.3A6.9 6.9 0 0 1 48.3 -13.1A6.9 6.9 0 0 1 61.9 -11A6.9 6.9 0 0 1 74.7 -6A6 6 0 0 1 74.7 6Z"/></clipPath><path d="M74.7 6A6.9 6.9 0 0 1 61.9 11A6.9 6.9 0 0 1 48.3 13.1A6.9 6.9 0 0 1 34.5 14.3A6.9 6.9 0 0 1 20.7 14.8A6.9 6.9 0 0 1 6.9 15A6.9 6.9 0 0 1 -6.9 15A6.9 6.9 0 0 1 -20.7 14.8A6.9 6.9 0 0 1 -34.5 14.3A6.9 6.9 0 0 1 -48.3 13.1A6.9 6.9 0 0 1 -61.9 11A6.9 6.9 0 0 1 -74.7 6A6 6 0 0 1 -74.7 -6A6.9 6.9 0 0 1 -61.9 -11A6.9 6.9 0 0 1 -48.3 -13.1A6.9 6.9 0 0 1 -34.5 -14.3A6.9 6.9 0 0 1 -20.7 -14.8A6.9 6.9 0 0 1 -6.9 -15A6.9 6.9 0 0 1 6.9 -15A6.9 6.9 0 0 1 20.7 -14.8A6.9 6.9 0 0 1 34.5 -14.3A6.9 6.9 0 0 1 48.3 -13.1A6.9 6.9 0 0 1 61.9 -11A6.9 6.9 0 0 1 74.7 -6A6 6 0 0 1 74.7 6Z" fill="#bce5c3"/>
<g clip-path="url(#c8)"><path d="M50 0L94 0M49.4 1.4L93.8 3.2M48 2.2L92.9 6.4M46.5 2.8L91.4 9.2M45 3.2L89.3 11.7M43.5 3.6L86.9 13.9M41.9 3.9L84.2 15.7M40.3 4.1L81.4 17.3M38.8 4.3L78.5 18.7M37.2 4.5L75.5 20M35.6 4.7L72.4 21.1M34 4.9L69.3 22M32.5 5L66.2 22.9M30.9 5.1L63 23.7M29.3 5.2L59.9 24.4M27.7 5.3L56.7 25M26.1 5.4L53.5 25.6M24.6 5.5L50.3 26.1M23 5.6L47 26.6M21.4 5.7L43.8 27M19.8 5.7L40.6 27.3M18.2 5.8L37.3 27.6M16.6 5.8L34.1 27.9M15.1 5.9L30.9 28.1M13.5 5.9L27.6 28.3M11.9 5.9L24.4 28.5M10.3 5.9L21.1 28.7M8.7 6L17.9 28.8M7.1 6L14.6 28.9M5.5 6L11.4 28.9M4 6L8.1 29M2.4 6L4.9 29M0.8 6L1.6 29M-0.8 6L-1.6 29M-2.4 6L-4.9 29M-4 6L-8.1 29M-5.5 6L-11.4 28.9M-7.1 6L-14.6 28.9M-8.7 6L-17.9 28.8M-10.3 5.9L-21.1 28.7M-11.9 5.9L-24.4 28.5M-13.5 5.9L-27.6 28.3M-15.1 5.9L-30.9 28.1M-16.6 5.8L-34.1 27.9M-18.2 5.8L-37.3 27.6M-19.8 5.7L-40.6 27.3M-21.4 5.7L-43.8 27M-23 5.6L-47 26.6M-24.6 5.5L-50.3 26.1M-26.1 5.4L-53.5 25.6M-27.7 5.3L-56.7 25M-29.3 5.2L-59.9 24.4M-30.9 5.1L-63 23.7M-32.5 5L-66.2 22.9M-34 4.9L-69.3 22M-35.6 4.7L-72.4 21.1M-37.2 4.5L-75.5 20M-38.8 4.3L-78.5 18.7M-40.3 4.1L-81.4 17.3M-41.9 3.9L-84.2 15.7M-43.5 3.6L-86.9 13.9M-45 3.2L-89.3 11.7M-46.5 2.8L-91.4 9.2M-48 2.2L-92.9 6.4M-49.4 1.4L-93.8 3.2M-50 0L-94 0M-49.4 -1.4L-93.8 -3.2M-48 -2.2L-92.9 -6.4M-46.5 -2.8L-91.4 -9.2M-45 -3.2L-89.3 -11.7M-43.5 -3.6L-86.9 -13.9M-41.9 -3.9L-84.2 -15.7M-40.3 -4.1L-81.4 -17.3M-38.8 -4.3L-78.5 -18.7M-37.2 -4.5L-75.5 -20M-35.6 -4.7L-72.4 -21.1M-34 -4.9L-69.3 -22M-32.5 -5L-66.2 -22.9M-30.9 -5.1L-63 -23.7M-29.3 -5.2L-59.9 -24.4M-27.7 -5.3L-56.7 -25M-26.1 -5.4L-53.5 -25.6M-24.6 -5.5L-50.3 -26.1M-23 -5.6L-47 -26.6M-21.4 -5.7L-43.8 -27M-19.8 -5.7L-40.6 -27.3M-18.2 -5.8L-37.3 -27.6M-16.6 -5.8L-34.1 -27.9M-15.1 -5.9L-30.9 -28.1M-13.5 -5.9L-27.6 -28.3M-11.9 -5.9L-24.4 -28.5M-10.3 -5.9L-21.1 -28.7M-8.7 -6L-17.9 -28.8M-7.1 -6L-14.6 -28.9M-5.5 -6L-11.4 -28.9M-4 -6L-8.1 -29M-2.4 -6L-4.9 -29M-0.8 -6L-1.6 -29M0.8 -6L1.6 -29M2.4 -6L4.9 -29M4 -6L8.1 -29M5.5 -6L11.4 -28.9M7.1 -6L14.6 -28.9M8.7 -6L17.9 -28.8M10.3 -5.9L21.1 -28.7M11.9 -5.9L24.4 -28.5M13.5 -5.9L27.6 -28.3M15.1 -5.9L30.9 -28.1M16.6 -5.8L34.1 -27.9M18.2 -5.8L37.3 -27.6M19.8 -5.7L40.6 -27.3M21.4 -5.7L43.8 -27M23 -5.6L47 -26.6M24.6 -5.5L50.3 -26.1M26.1 -5.4L53.5 -25.6M27.7 -5.3L56.7 -25M29.3 -5.2L59.9 -24.4M30.9 -5.1L63 -23.7M32.5 -5L66.2 -22.9M34 -4.9L69.3 -22M35.6 -4.7L72.4 -21.1M37.2 -4.5L75.5 -20M38.8 -4.3L78.5 -18.7M40.3 -4.1L81.4 -17.3M41.9 -3.9L84.2 -15.7M43.5 -3.6L86.9 -13.9M45 -3.2L89.3 -11.7M46.5 -2.8L91.4 -9.2M48 -2.2L92.9 -6.4M49.4 -1.4L93.8 -3.2" stroke="#93cfa2" stroke-width="0.5" fill="none"/></g>
<path d="M74.7 6A6.9 6.9 0 0 1 61.9 11A6.9 6.9 0 0 1 48.3 13.1A6.9 6.9 0 0 1 34.5 14.3A6.9 6.9 0 0 1 20.7 14.8A6.9 6.9 0 0 1 6.9 15A6.9 6.9 0 0 1 -6.9 15A6.9 6.9 0 0 1 -20.7 14.8A6.9 6.9 0 0 1 -34.5 14.3A6.9 6.9 0 0 1 -48.3 13.1A6.9 6.9 0 0 1 -61.9 11A6.9 6.9 0 0 1 -74.7 6A6 6 0 0 1 -74.7 -6A6.9 6.9 0 0 1 -61.9 -11A6.9 6.9 0 0 1 -48.3 -13.1A6.9 6.9 0 0 1 -34.5 -14.3A6.9 6.9 0 0 1 -20.7 -14.8A6.9 6.9 0 0 1 -6.9 -15A6.9 6.9 0 0 1 6.9 -15A6.9 6.9 0 0 1 20.7 -14.8A6.9 6.9 0 0 1 34.5 -14.3A6.9 6.9 0 0 1 48.3 -13.1A6.9 6.9 0 0 1 61.9 -11A6.9 6.9 0 0 1 74.7 -6A6 6 0 0 1 74.7 6Z" fill="none" stroke="#86c293" stroke-width="0.6"/>
<path d="M58.5 0C58.5 0.8 58.2 1.6 57.7 2.3C57.2 3 56.3 3.7 55.3 4.3C54.2 4.9 52.9 5.5 51.3 6.1C49.8 6.6 47.9 7.1 45.9 7.6C43.9 8.1 41.6 8.6 39.1 8.9C36.7 9.3 34 9.7 31.2 10C28.3 10.3 25.3 10.6 22.1 10.8C18.9 11 15.6 11.1 11.9 11.2C8.2 11.3 4 11.4 0 11.4C-4 11.4 -8.2 11.3 -11.9 11.2C-15.6 11.1 -18.9 11 -22.1 10.8C-25.3 10.6 -28.3 10.3 -31.2 10C-34 9.7 -36.7 9.3 -39.1 8.9C-41.6 8.6 -43.9 8.1 -45.9 7.6C-47.9 7.1 -49.8 6.6 -51.3 6.1C-52.9 5.5 -54.2 4.9 -55.3 4.3C-56.3 3.7 -57.2 3 -57.7 2.3C-58.2 1.6 -58.5 0.8 -58.5 0C-58.5 -0.8 -58.2 -1.6 -57.7 -2.3C-57.2 -3 -56.3 -3.7 -55.3 -4.3C-54.2 -4.9 -52.9 -5.5 -51.3 -6.1C-49.8 -6.6 -47.9 -7.1 -45.9 -7.6C-43.9 -8.1 -41.6 -8.6 -39.1 -8.9C-36.7 -9.3 -34 -9.7 -31.2 -10C-28.3 -10.3 -25.3 -10.6 -22.1 -10.8C-18.9 -11 -15.6 -11.1 -11.9 -11.2C-8.2 -11.3 -4 -11.4 0 -11.4C4 -11.4 8.2 -11.3 11.9 -11.2C15.6 -11.1 18.9 -11 22.1 -10.8C25.3 -10.6 28.3 -10.3 31.2 -10C34 -9.7 36.7 -9.3 39.1 -8.9C41.6 -8.6 43.9 -8.1 45.9 -7.6C47.9 -7.1 49.8 -6.6 51.3 -6.1C52.9 -5.5 54.2 -4.9 55.3 -4.3C56.3 -3.7 57.2 -3 57.7 -2.3C58.2 -1.6 58.5 -0.8 58.5 0Z" fill="#fefdfb" stroke="#e7907f" stroke-width="0.5"/>
<path d="M55.8 0C55.8 0.6 55.5 1.3 55 1.9C54.5 2.5 53.7 3 52.7 3.5C51.7 4.1 50.5 4.5 49 5C47.5 5.5 45.7 5.9 43.8 6.3C41.9 6.7 39.7 7.1 37.3 7.4C35 7.7 32.4 8 29.7 8.2C27 8.5 24.1 8.7 21 8.9C18 9.1 14.9 9.2 11.4 9.3C7.9 9.4 3.8 9.4 0 9.4C-3.8 9.4 -7.9 9.4 -11.4 9.3C-14.9 9.2 -18 9.1 -21 8.9C-24.1 8.7 -27 8.5 -29.7 8.2C-32.4 8 -35 7.7 -37.3 7.4C-39.7 7.1 -41.9 6.7 -43.8 6.3C-45.7 5.9 -47.5 5.5 -49 5C-50.5 4.5 -51.7 4.1 -52.7 3.5C-53.7 3 -54.5 2.5 -55 1.9C-55.5 1.3 -55.8 0.6 -55.8 0C-55.8 -0.6 -55.5 -1.3 -55 -1.9C-54.5 -2.5 -53.7 -3 -52.7 -3.5C-51.7 -4.1 -50.5 -4.5 -49 -5C-47.5 -5.5 -45.7 -5.9 -43.8 -6.3C-41.9 -6.7 -39.7 -7.1 -37.3 -7.4C-35 -7.7 -32.4 -8 -29.7 -8.2C-27 -8.5 -24.1 -8.7 -21 -8.9C-18 -9.1 -14.9 -9.2 -11.4 -9.3C-7.9 -9.4 -3.8 -9.4 0 -9.4C3.8 -9.4 7.9 -9.4 11.4 -9.3C14.9 -9.2 18 -9.1 21 -8.9C24.1 -8.7 27 -8.5 29.7 -8.2C32.4 -8 35 -7.7 37.3 -7.4C39.7 -7.1 41.9 -6.7 43.8 -6.3C45.7 -5.9 47.5 -5.5 49 -5C50.5 -4.5 51.7 -4.1 52.7 -3.5C53.7 -3 54.5 -2.5 55 -1.9C55.5 -1.3 55.8 -0.6 55.8 0Z" fill="none" stroke="#e0705c" stroke-width="1.1" stroke-linecap="round" stroke-dasharray="0 2.7"/>
<path d="M53.4 0C53.4 0.5 53.2 1.1 52.7 1.5C52.2 2 51.4 2.4 50.5 2.9C49.5 3.3 48.3 3.7 46.9 4C45.4 4.4 43.8 4.8 41.9 5.1C40.1 5.4 38 5.7 35.7 6C33.5 6.2 31 6.5 28.4 6.7C25.8 6.9 23.1 7 20.1 7.2C17.2 7.3 14.2 7.4 10.9 7.5C7.5 7.6 3.6 7.6 0 7.6C-3.6 7.6 -7.5 7.6 -10.9 7.5C-14.2 7.4 -17.2 7.3 -20.1 7.2C-23.1 7 -25.8 6.9 -28.4 6.7C-31 6.5 -33.5 6.2 -35.7 6C-38 5.7 -40.1 5.4 -41.9 5.1C-43.8 4.8 -45.4 4.4 -46.9 4C-48.3 3.7 -49.5 3.3 -50.5 2.9C-51.4 2.4 -52.2 2 -52.7 1.5C-53.2 1.1 -53.4 0.5 -53.4 0C-53.4 -0.5 -53.2 -1.1 -52.7 -1.5C-52.2 -2 -51.4 -2.4 -50.5 -2.9C-49.5 -3.3 -48.3 -3.7 -46.9 -4C-45.4 -4.4 -43.8 -4.8 -41.9 -5.1C-40.1 -5.4 -38 -5.7 -35.7 -6C-33.5 -6.2 -31 -6.5 -28.4 -6.7C-25.8 -6.9 -23.1 -7 -20.1 -7.2C-17.2 -7.3 -14.2 -7.4 -10.9 -7.5C-7.5 -7.6 -3.6 -7.6 0 -7.6C3.6 -7.6 7.5 -7.6 10.9 -7.5C14.2 -7.4 17.2 -7.3 20.1 -7.2C23.1 -7 25.8 -6.9 28.4 -6.7C31 -6.5 33.5 -6.2 35.7 -6C38 -5.7 40.1 -5.4 41.9 -5.1C43.8 -4.8 45.4 -4.4 46.9 -4C48.3 -3.7 49.5 -3.3 50.5 -2.9C51.4 -2.4 52.2 -2 52.7 -1.5C53.2 -1.1 53.4 -0.5 53.4 0Z" fill="none" stroke="#e9a092" stroke-width="0.5" stroke-dasharray="1.2 1.6"/>
<ellipse cx="-4.5" cy="7.1" rx="7" ry="2.6" fill="#7db37c" transform="rotate(-12 -4.5 7.1)"/><ellipse cx="27.5" cy="1.6" rx="8" ry="3.4" fill="#8cc089" transform="rotate(14 27.5 1.6)"/>
<ellipse cx="17.7" cy="0.6" rx="8.6" ry="5.8" fill="#ea7d6c" transform="rotate(28 10.5 0.6)"/><ellipse cx="17.7" cy="0.6" rx="8.6" ry="5.8" fill="#e8705f" transform="rotate(100 10.5 0.6)"/><ellipse cx="17.7" cy="0.6" rx="8.6" ry="5.8" fill="#ef8b79" transform="rotate(172 10.5 0.6)"/><ellipse cx="17.7" cy="0.6" rx="8.6" ry="5.8" fill="#e66a5c" transform="rotate(244 10.5 0.6)"/><ellipse cx="17.7" cy="0.6" rx="8.6" ry="5.8" fill="#ec8171" transform="rotate(316 10.5 0.6)"/><circle cx="10.5" cy="0.6" r="2.6" fill="#c8473f"/><path d="M10.5 0.6L17.5 -4.9" stroke="#f0c470" stroke-width="1"/>
</g></g>
<text x="52.5" y="115.2" textLength="133.8" lengthAdjust="spacingAndGlyphs">Spring Servis Tabağı 26 cm</text>
<text x="52.5" y="128.5" textLength="32" lengthAdjust="spacingAndGlyphs">6 Adet</text>
<text x="432" y="109.3" textLength="134.3" lengthAdjust="spacingAndGlyphs">Spring Servis Tabağı 30 cm</text>
<text x="535" y="123.1" textLength="31.3" lengthAdjust="spacingAndGlyphs">1 Adet</text>
<text x="243" y="435" textLength="122.5" lengthAdjust="spacingAndGlyphs">Spring Oval Servis 21 cm</text>
<text x="243" y="448.3" textLength="32" lengthAdjust="spacingAndGlyphs">2 Adet</text>
<text x="405.5" y="456.8" textLength="177.5" lengthAdjust="spacingAndGlyphs">Spring Dikdörtgen Servis 33x21 cm</text>
<text x="551.5" y="470" textLength="31.5" lengthAdjust="spacingAndGlyphs">1 Adet</text>
<text x="30.5" y="532.7" textLength="177.5" lengthAdjust="spacingAndGlyphs">Spring Dikdörtgen Servis 35x16 cm</text>
<text x="30.5" y="546.2" textLength="32.5" lengthAdjust="spacingAndGlyphs">1 Adet</text>
<text x="113" y="820.8" textLength="122.5" lengthAdjust="spacingAndGlyphs">Spring Oval Servis 29 cm</text>
<text x="113" y="834.2" textLength="32" lengthAdjust="spacingAndGlyphs">2 Adet</text>
<text x="354.5" y="801.8" textLength="122.5" lengthAdjust="spacingAndGlyphs">Spring Oval Servis 26 cm</text>
<text x="445" y="815" textLength="32" lengthAdjust="spacingAndGlyphs">2 Adet</text>
<path d="M54.7 134.2C53.8 146 57 155 65.3 162.2M58.4 161.5L65.3 162.2L66.3 157.4M549.3 158.6C556 153 560.5 144 561.9 130.6M556.7 133L561.9 130.6L565.9 135.5M225 399.2C224.8 409 229 418.5 238.5 425.9M232 426.2L238.5 425.9L239.8 421.1M579 507.7C582 498 582.5 488 577.4 477.1M574.1 481.6L577.4 477.1L583.8 480M32.6 554.2C32.5 565 37 575 45.3 581.7M38.4 581.7L45.3 581.7L46.3 576.9M116.6 777.7C112.5 787 111.8 797 114.9 807.7M109.3 804.3L114.9 807.7L119.5 803.6M473.6 789.1C473 779 468.5 769.5 459.8 762.6M458.4 767.9L459.8 762.6L466.6 762.4" fill="none" stroke="#2b2b2e" stroke-width="0.9" stroke-linecap="round" stroke-linejoin="round"/>
</svg>
</body></html>
